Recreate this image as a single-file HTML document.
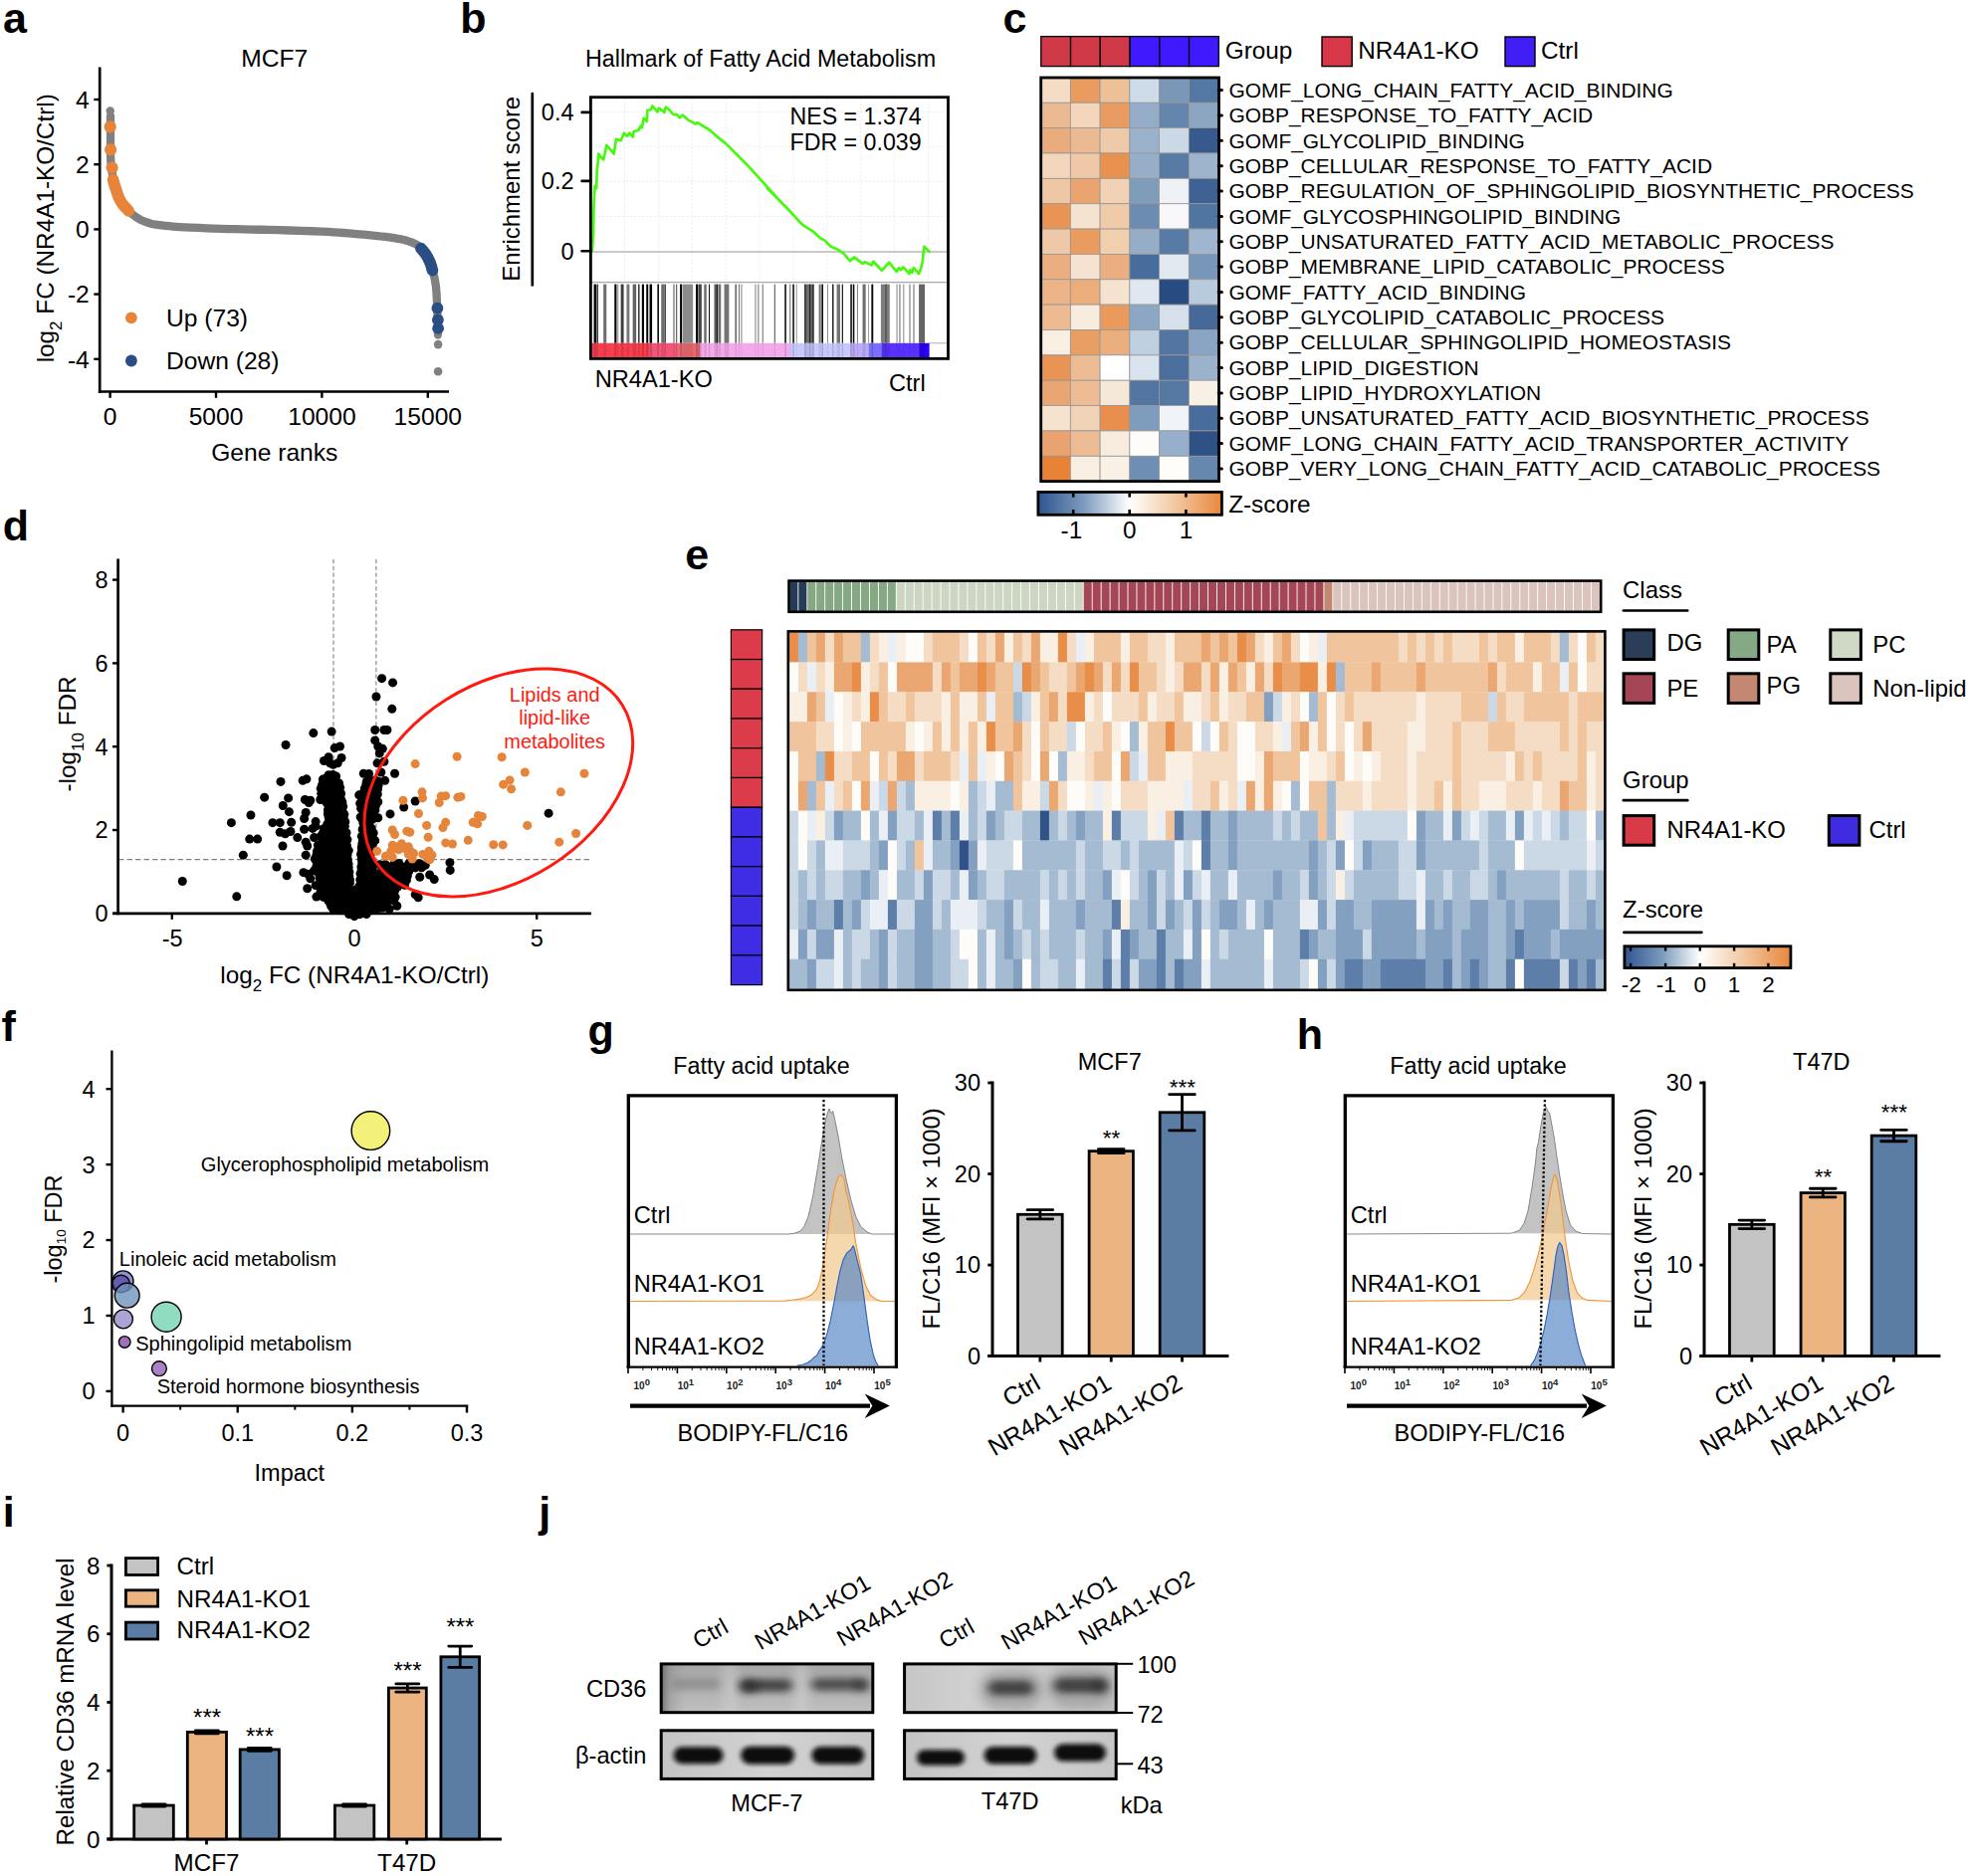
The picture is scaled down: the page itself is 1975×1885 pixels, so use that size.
<!DOCTYPE html>
<html lang="en"><head><meta charset="utf-8"><title>Figure</title>
<style>html,body{margin:0;padding:0;background:#fff;overflow:hidden}svg{display:block}text{font-family:'Liberation Sans', Arial, Helvetica, sans-serif}</style>
</head><body>
<svg width="1975" height="1885" viewBox="0 0 1975 1885" font-size="23.5" fill="#000">
<rect width="1975" height="1885" fill="#fff"/>
<g id="panel_a">
<text x="3" y="33" font-size="43" font-weight="bold">a</text>
<text x="275.8" y="67.2" font-size="24.6" text-anchor="middle">MCF7</text>
<line x1="100.2" y1="67.5" x2="100.2" y2="394.9" stroke="#000" stroke-width="2.7"/>
<line x1="98.9" y1="393.5" x2="451" y2="393.5" stroke="#000" stroke-width="2.7"/>
<line x1="94.3" y1="100" x2="100.2" y2="100" stroke="#000" stroke-width="2.4"/>
<text x="89.8" y="108.8" font-size="24.6" text-anchor="end">4</text>
<line x1="94.3" y1="165.2" x2="100.2" y2="165.2" stroke="#000" stroke-width="2.4"/>
<text x="89.8" y="174" font-size="24.6" text-anchor="end">2</text>
<line x1="94.3" y1="230.4" x2="100.2" y2="230.4" stroke="#000" stroke-width="2.4"/>
<text x="89.8" y="239.2" font-size="24.6" text-anchor="end">0</text>
<line x1="94.3" y1="295.6" x2="100.2" y2="295.6" stroke="#000" stroke-width="2.4"/>
<text x="89.8" y="304.4" font-size="24.6" text-anchor="end">-2</text>
<line x1="94.3" y1="360.8" x2="100.2" y2="360.8" stroke="#000" stroke-width="2.4"/>
<text x="89.8" y="369.6" font-size="24.6" text-anchor="end">-4</text>
<line x1="110.6" y1="393.5" x2="110.6" y2="399.8" stroke="#000" stroke-width="2.4"/>
<text x="110.6" y="427" font-size="24.6" text-anchor="middle">0</text>
<line x1="217" y1="393.5" x2="217" y2="399.8" stroke="#000" stroke-width="2.4"/>
<text x="217" y="427" font-size="24.6" text-anchor="middle">5000</text>
<line x1="323.4" y1="393.5" x2="323.4" y2="399.8" stroke="#000" stroke-width="2.4"/>
<text x="323.4" y="427" font-size="24.6" text-anchor="middle">10000</text>
<line x1="429.8" y1="393.5" x2="429.8" y2="399.8" stroke="#000" stroke-width="2.4"/>
<text x="429.8" y="427" font-size="24.6" text-anchor="middle">15000</text>
<text x="275.8" y="463.2" font-size="24.6" text-anchor="middle">Gene ranks</text>
<text transform="translate(54 229.3) rotate(-90)" font-size="24.3" text-anchor="middle">log<tspan font-size="17" dy="7.5">2</tspan><tspan dy="-7.5"> FC (NR4A1-KO/Ctrl)</tspan></text>
<path d="M111 116.5 L111 120.8 L110.99 127 L110.99 133.82 L111 140 L111.01 145.43 L111.02 150.72 L111.07 155.64 L111.2 160 L111.44 163.62 L111.77 166.66 L112.14 169.37 L112.5 172 L112.84 174.56 L113.19 176.94 L113.56 179.2 L114 181.4 L114.5 183.5 L115.06 185.48 L115.66 187.45 L116.3 189.5 L116.97 191.71 L117.69 194.02 L118.46 196.29 L119.3 198.4 L120.21 200.3 L121.17 202.05 L122.22 203.73 L123.4 205.4 L124.75 207.1 L126.25 208.78 L127.8 210.4 L129.3 211.9 L130.73 213.26 L132.14 214.51 L133.56 215.68 L135 216.8 L136.46 217.87 L137.92 218.88 L139.42 219.83 L141 220.7 L142.68 221.5 L144.44 222.22 L146.23 222.89 L148 223.5 L149.56 224.04 L151 224.51 L152.69 224.95 L155 225.4 L158.18 225.87 L161.97 226.35 L166.03 226.8 L170 227.2 L173.51 227.52 L176.84 227.78 L180.63 228.03 L185.5 228.3 L191.9 228.62 L199.39 228.97 L207.32 229.31 L215 229.6 L222.17 229.84 L229.21 230.03 L236.44 230.21 L244.2 230.4 L252.53 230.59 L261.26 230.76 L270.42 230.96 L280 231.2 L290.65 231.51 L302.14 231.86 L313.21 232.24 L322.6 232.6 L329.67 232.94 L335.19 233.28 L340.02 233.63 L345 234 L350.28 234.4 L355.44 234.83 L360.46 235.26 L365.3 235.7 L369.99 236.14 L374.52 236.59 L378.88 237.04 L383 237.5 L386.97 237.98 L390.78 238.48 L394.27 238.96 L397.3 239.4 L399.73 239.78 L401.66 240.11 L403.34 240.43 L405 240.8 L406.64 241.21 L408.16 241.64 L409.63 242.1 L411.1 242.6 L412.61 243.14 L414.13 243.72 L415.61 244.34 L417 245 L418.29 245.67 L419.51 246.37 L420.67 247.13 L421.8 248 L422.91 248.99 L423.99 250.09 L425.03 251.26 L426 252.5 L426.89 253.79 L427.71 255.15 L428.5 256.58 L429.3 258.1 L430.14 259.74 L430.99 261.49 L431.79 263.27 L432.5 265 L433.07 266.68 L433.54 268.33 L433.96 269.97 L434.4 271.6 L434.87 273.2 L435.34 274.78 L435.79 276.36 L436.2 278 L436.57 279.71 L436.91 281.48 L437.22 283.26 L437.5 285 L437.74 286.55 L437.94 287.99 L438.12 289.6 L438.3 291.7 L438.48 294.41 L438.66 297.55 L438.83 300.97 L439 304.5 L439.16 308.16 L439.32 312.02 L439.47 315.99 L439.6 320 L439.7 324.44 L439.79 329.22 L439.85 333.51 L439.9 336.5" fill="none" stroke="#808080" stroke-width="8.3" stroke-linecap="round" stroke-linejoin="round"/>
<circle cx="110.7" cy="111.4" r="4.2" fill="#808080"/>
<circle cx="440.1" cy="346.1" r="4.3" fill="#808080"/>
<circle cx="440.1" cy="373.2" r="4.3" fill="#808080"/>
<path d="M113.6 180.5 L113.76 181.2 L113.99 182.19 L114.28 183.34 L114.6 184.5 L114.95 185.59 L115.32 186.69 L115.77 187.95 L116.3 189.5 L116.93 191.5 L117.65 193.82 L118.44 196.22 L119.3 198.4 L120.21 200.3 L121.17 202.05 L122.22 203.73 L123.4 205.4 L124.89 207.21 L126.61 209.09 L128.2 210.74 L129.3 211.9" fill="none" stroke="#e8843a" stroke-width="11.6" stroke-linecap="round" stroke-linejoin="round"/>
<circle cx="110.7" cy="127.4" r="6.1" fill="#e8843a"/>
<circle cx="111.1" cy="150.3" r="6.1" fill="#e8843a"/>
<circle cx="112.6" cy="168.5" r="6.1" fill="#e8843a"/>
<path d="M422.9 249.6 L423.52 250.31 L424.41 251.32 L425.4 252.47 L426.3 253.6 L427.07 254.63 L427.81 255.67 L428.55 256.79 L429.3 258.1 L430.12 259.66 L430.97 261.42 L431.79 263.24 L432.5 265 L433.11 266.83 L433.65 268.73 L434.09 270.42 L434.4 271.6" fill="none" stroke="#2a4d84" stroke-width="11.6" stroke-linecap="round" stroke-linejoin="round"/>
<circle cx="439.4" cy="309.6" r="5.9" fill="#2a4d84"/>
<circle cx="439.9" cy="321.3" r="5.9" fill="#2a4d84"/>
<circle cx="440.1" cy="329.9" r="5.9" fill="#2a4d84"/>
<circle cx="131.9" cy="319.3" r="5.9" fill="#e8843a"/>
<circle cx="131.9" cy="362.5" r="5.9" fill="#2a4d84"/>
<text x="167" y="327.6" font-size="24.6">Up (73)</text>
<text x="167" y="370.8" font-size="24.6">Down (28)</text>
</g>
<g id="panel_b">
<text x="462.2" y="33" font-size="43" font-weight="bold">b</text>
<text x="764" y="66.6" font-size="23.3" text-anchor="middle">Hallmark of Fatty Acid Metabolism</text>
<line x1="627.5" y1="99.7" x2="627.5" y2="283.5" stroke="#e4e4e4" stroke-width="0.8" stroke-dasharray="2 2"/>
<line x1="661.4" y1="99.7" x2="661.4" y2="283.5" stroke="#e4e4e4" stroke-width="0.8" stroke-dasharray="2 2"/>
<line x1="695.3" y1="99.7" x2="695.3" y2="283.5" stroke="#e4e4e4" stroke-width="0.8" stroke-dasharray="2 2"/>
<line x1="729.2" y1="99.7" x2="729.2" y2="283.5" stroke="#e4e4e4" stroke-width="0.8" stroke-dasharray="2 2"/>
<line x1="763.1" y1="99.7" x2="763.1" y2="283.5" stroke="#e4e4e4" stroke-width="0.8" stroke-dasharray="2 2"/>
<line x1="797" y1="99.7" x2="797" y2="283.5" stroke="#e4e4e4" stroke-width="0.8" stroke-dasharray="2 2"/>
<line x1="830.9" y1="99.7" x2="830.9" y2="283.5" stroke="#e4e4e4" stroke-width="0.8" stroke-dasharray="2 2"/>
<line x1="864.8" y1="99.7" x2="864.8" y2="283.5" stroke="#e4e4e4" stroke-width="0.8" stroke-dasharray="2 2"/>
<line x1="898.7" y1="99.7" x2="898.7" y2="283.5" stroke="#e4e4e4" stroke-width="0.8" stroke-dasharray="2 2"/>
<line x1="932.6" y1="99.7" x2="932.6" y2="283.5" stroke="#e4e4e4" stroke-width="0.8" stroke-dasharray="2 2"/>
<line x1="593.4" y1="112.2" x2="952.5" y2="112.2" stroke="#e4e4e4" stroke-width="0.8" stroke-dasharray="2 2"/>
<line x1="593.4" y1="147.2" x2="952.5" y2="147.2" stroke="#e4e4e4" stroke-width="0.8" stroke-dasharray="2 2"/>
<line x1="593.4" y1="182.3" x2="952.5" y2="182.3" stroke="#e4e4e4" stroke-width="0.8" stroke-dasharray="2 2"/>
<line x1="593.4" y1="217.5" x2="952.5" y2="217.5" stroke="#e4e4e4" stroke-width="0.8" stroke-dasharray="2 2"/>
<line x1="593.4" y1="252.9" x2="952.5" y2="252.9" stroke="#e4e4e4" stroke-width="0.8" stroke-dasharray="2 2"/>
<line x1="593.4" y1="253" x2="952.5" y2="253" stroke="#9a9a9a" stroke-width="1.2"/>
<line x1="593.4" y1="283.7" x2="952.5" y2="283.7" stroke="#a8a8a8" stroke-width="1.2"/>
<line x1="933" y1="344.8" x2="952.5" y2="344.8" stroke="#b0b0b0" stroke-width="1"/>
<rect x="596.55" y="285.6" width="2.42" height="59.2" fill="#000000"/>
<rect x="599.5" y="285.6" width="1.35" height="59.2" fill="#141414"/>
<rect x="606.17" y="285.6" width="3.09" height="59.2" fill="#6e6e6e"/>
<rect x="617.28" y="285.6" width="2.13" height="59.2" fill="#000000"/>
<rect x="620.28" y="285.6" width="0.97" height="59.2" fill="#828282"/>
<rect x="623.66" y="285.6" width="2.9" height="59.2" fill="#3c3c3c"/>
<rect x="629.46" y="285.6" width="2.9" height="59.2" fill="#787878"/>
<rect x="635.64" y="285.6" width="3.48" height="59.2" fill="#646464"/>
<rect x="641.15" y="285.6" width="1.35" height="59.2" fill="#1e1e1e"/>
<rect x="644.82" y="285.6" width="2.13" height="59.2" fill="#000000"/>
<rect x="649.27" y="285.6" width="1.93" height="59.2" fill="#000000"/>
<rect x="652.56" y="285.6" width="2.51" height="59.2" fill="#000000"/>
<rect x="660.38" y="285.6" width="1.55" height="59.2" fill="#000000"/>
<rect x="664.25" y="285.6" width="2.9" height="59.2" fill="#6e6e6e"/>
<rect x="667.54" y="285.6" width="1.16" height="59.2" fill="#000000"/>
<rect x="676.33" y="285.6" width="1.35" height="59.2" fill="#787878"/>
<rect x="679.23" y="285.6" width="0.97" height="59.2" fill="#3c3c3c"/>
<rect x="683.1" y="285.6" width="1.93" height="59.2" fill="#000000"/>
<rect x="685.51" y="285.6" width="10.63" height="59.2" fill="#8c8c8c"/>
<rect x="699.04" y="285.6" width="1.93" height="59.2" fill="#000000"/>
<rect x="701.36" y="285.6" width="3.48" height="59.2" fill="#464646"/>
<rect x="707.26" y="285.6" width="2.51" height="59.2" fill="#6e6e6e"/>
<rect x="712.09" y="285.6" width="0.97" height="59.2" fill="#000000"/>
<rect x="717.5" y="285.6" width="1.74" height="59.2" fill="#5a5a5a"/>
<rect x="719.34" y="285.6" width="1.93" height="59.2" fill="#141414"/>
<rect x="721.75" y="285.6" width="2.51" height="59.2" fill="#6e6e6e"/>
<rect x="727.55" y="285.6" width="4.83" height="59.2" fill="#737373"/>
<rect x="738.57" y="285.6" width="1.16" height="59.2" fill="#323232"/>
<rect x="742.05" y="285.6" width="0.97" height="59.2" fill="#6e6e6e"/>
<rect x="744.47" y="285.6" width="0.97" height="59.2" fill="#787878"/>
<rect x="758.48" y="285.6" width="0.97" height="59.2" fill="#787878"/>
<rect x="761.38" y="285.6" width="0.97" height="59.2" fill="#6e6e6e"/>
<rect x="765.73" y="285.6" width="0.97" height="59.2" fill="#646464"/>
<rect x="777.83" y="285.6" width="0.77" height="59.2" fill="#141414"/>
<rect x="788.27" y="285.6" width="1.55" height="59.2" fill="#0a0a0a"/>
<rect x="793.2" y="285.6" width="1.16" height="59.2" fill="#787878"/>
<rect x="796.29" y="285.6" width="1.55" height="59.2" fill="#0a0a0a"/>
<rect x="799.77" y="285.6" width="0.77" height="59.2" fill="#787878"/>
<rect x="808.08" y="285.6" width="9.28" height="59.2" fill="#6e6e6e"/>
<rect x="808.27" y="285.6" width="1.16" height="59.2" fill="#1e1e1e"/>
<rect x="813.1" y="285.6" width="1.16" height="59.2" fill="#1e1e1e"/>
<rect x="816.39" y="285.6" width="1.16" height="59.2" fill="#141414"/>
<rect x="822.58" y="285.6" width="2.13" height="59.2" fill="#787878"/>
<rect x="825.38" y="285.6" width="1.55" height="59.2" fill="#000000"/>
<rect x="831.08" y="285.6" width="0.77" height="59.2" fill="#6e6e6e"/>
<rect x="836.11" y="285.6" width="1.35" height="59.2" fill="#0a0a0a"/>
<rect x="840.55" y="285.6" width="3.48" height="59.2" fill="#737373"/>
<rect x="845.77" y="285.6" width="1.16" height="59.2" fill="#141414"/>
<rect x="854.28" y="285.6" width="1.55" height="59.2" fill="#0a0a0a"/>
<rect x="856.79" y="285.6" width="1.55" height="59.2" fill="#0a0a0a"/>
<rect x="860.94" y="285.6" width="0.97" height="59.2" fill="#787878"/>
<rect x="866.55" y="285.6" width="3.09" height="59.2" fill="#6e6e6e"/>
<rect x="872.25" y="285.6" width="0.77" height="59.2" fill="#828282"/>
<rect x="875.34" y="285.6" width="1.93" height="59.2" fill="#0a0a0a"/>
<rect x="884.91" y="285.6" width="8.89" height="59.2" fill="#7d7d7d"/>
<rect x="889.36" y="285.6" width="1.35" height="59.2" fill="#505050"/>
<rect x="900.57" y="285.6" width="0.97" height="59.2" fill="#828282"/>
<rect x="903.37" y="285.6" width="1.16" height="59.2" fill="#787878"/>
<rect x="907.33" y="285.6" width="0.97" height="59.2" fill="#828282"/>
<rect x="913.42" y="285.6" width="1.16" height="59.2" fill="#787878"/>
<rect x="917.39" y="285.6" width="1.16" height="59.2" fill="#787878"/>
<rect x="923.09" y="285.6" width="5.99" height="59.2" fill="#646464"/>
<rect x="594.5" y="344.8" width="57.8" height="14.5" fill="#fa3e4e"/>
<rect x="652" y="344.8" width="28.3" height="14.5" fill="#f25576"/>
<rect x="680" y="344.8" width="23.7" height="14.5" fill="#e96973"/>
<rect x="703.4" y="344.8" width="90.1" height="14.5" fill="#f4aaea"/>
<rect x="793.2" y="344.8" width="61.2" height="14.5" fill="#c8c8ff"/>
<rect x="854.1" y="344.8" width="19.1" height="14.5" fill="#baacfa"/>
<rect x="872.9" y="344.8" width="13.4" height="14.5" fill="#7a70ff"/>
<rect x="886" y="344.8" width="37.5" height="14.5" fill="#5a32ff"/>
<rect x="923.2" y="344.8" width="10.4" height="14.5" fill="#2d00fa"/>
<rect x="596.55" y="344.8" width="2.42" height="14.5" fill="#000" fill-opacity="0.16"/>
<rect x="599.5" y="344.8" width="1.35" height="14.5" fill="#000" fill-opacity="0.15"/>
<rect x="606.17" y="344.8" width="3.09" height="14.5" fill="#000" fill-opacity="0.09"/>
<rect x="617.28" y="344.8" width="2.13" height="14.5" fill="#000" fill-opacity="0.16"/>
<rect x="620.28" y="344.8" width="0.97" height="14.5" fill="#000" fill-opacity="0.08"/>
<rect x="623.66" y="344.8" width="2.9" height="14.5" fill="#000" fill-opacity="0.12"/>
<rect x="629.46" y="344.8" width="2.9" height="14.5" fill="#000" fill-opacity="0.08"/>
<rect x="635.64" y="344.8" width="3.48" height="14.5" fill="#000" fill-opacity="0.1"/>
<rect x="641.15" y="344.8" width="1.35" height="14.5" fill="#000" fill-opacity="0.14"/>
<rect x="644.82" y="344.8" width="2.13" height="14.5" fill="#000" fill-opacity="0.16"/>
<rect x="649.27" y="344.8" width="1.93" height="14.5" fill="#000" fill-opacity="0.16"/>
<rect x="652.56" y="344.8" width="2.51" height="14.5" fill="#000" fill-opacity="0.16"/>
<rect x="660.38" y="344.8" width="1.55" height="14.5" fill="#000" fill-opacity="0.16"/>
<rect x="664.25" y="344.8" width="2.9" height="14.5" fill="#000" fill-opacity="0.09"/>
<rect x="667.54" y="344.8" width="1.16" height="14.5" fill="#000" fill-opacity="0.16"/>
<rect x="676.33" y="344.8" width="1.35" height="14.5" fill="#000" fill-opacity="0.08"/>
<rect x="679.23" y="344.8" width="0.97" height="14.5" fill="#000" fill-opacity="0.12"/>
<rect x="683.1" y="344.8" width="1.93" height="14.5" fill="#000" fill-opacity="0.16"/>
<rect x="685.51" y="344.8" width="10.63" height="14.5" fill="#000" fill-opacity="0.07"/>
<rect x="699.04" y="344.8" width="1.93" height="14.5" fill="#000" fill-opacity="0.16"/>
<rect x="701.36" y="344.8" width="3.48" height="14.5" fill="#000" fill-opacity="0.12"/>
<rect x="707.26" y="344.8" width="2.51" height="14.5" fill="#000" fill-opacity="0.09"/>
<rect x="712.09" y="344.8" width="0.97" height="14.5" fill="#000" fill-opacity="0.16"/>
<rect x="717.5" y="344.8" width="1.74" height="14.5" fill="#000" fill-opacity="0.1"/>
<rect x="719.34" y="344.8" width="1.93" height="14.5" fill="#000" fill-opacity="0.15"/>
<rect x="721.75" y="344.8" width="2.51" height="14.5" fill="#000" fill-opacity="0.09"/>
<rect x="727.55" y="344.8" width="4.83" height="14.5" fill="#000" fill-opacity="0.09"/>
<rect x="738.57" y="344.8" width="1.16" height="14.5" fill="#000" fill-opacity="0.13"/>
<rect x="742.05" y="344.8" width="0.97" height="14.5" fill="#000" fill-opacity="0.09"/>
<rect x="744.47" y="344.8" width="0.97" height="14.5" fill="#000" fill-opacity="0.08"/>
<rect x="758.48" y="344.8" width="0.97" height="14.5" fill="#000" fill-opacity="0.08"/>
<rect x="761.38" y="344.8" width="0.97" height="14.5" fill="#000" fill-opacity="0.09"/>
<rect x="765.73" y="344.8" width="0.97" height="14.5" fill="#000" fill-opacity="0.1"/>
<rect x="777.83" y="344.8" width="0.77" height="14.5" fill="#000" fill-opacity="0.15"/>
<rect x="788.27" y="344.8" width="1.55" height="14.5" fill="#000" fill-opacity="0.15"/>
<rect x="793.2" y="344.8" width="1.16" height="14.5" fill="#000" fill-opacity="0.08"/>
<rect x="796.29" y="344.8" width="1.55" height="14.5" fill="#000" fill-opacity="0.15"/>
<rect x="799.77" y="344.8" width="0.77" height="14.5" fill="#000" fill-opacity="0.08"/>
<rect x="808.08" y="344.8" width="9.28" height="14.5" fill="#000" fill-opacity="0.09"/>
<rect x="808.27" y="344.8" width="1.16" height="14.5" fill="#000" fill-opacity="0.14"/>
<rect x="813.1" y="344.8" width="1.16" height="14.5" fill="#000" fill-opacity="0.14"/>
<rect x="816.39" y="344.8" width="1.16" height="14.5" fill="#000" fill-opacity="0.15"/>
<rect x="822.58" y="344.8" width="2.13" height="14.5" fill="#000" fill-opacity="0.08"/>
<rect x="825.38" y="344.8" width="1.55" height="14.5" fill="#000" fill-opacity="0.16"/>
<rect x="831.08" y="344.8" width="0.77" height="14.5" fill="#000" fill-opacity="0.09"/>
<rect x="836.11" y="344.8" width="1.35" height="14.5" fill="#000" fill-opacity="0.15"/>
<rect x="840.55" y="344.8" width="3.48" height="14.5" fill="#000" fill-opacity="0.09"/>
<rect x="845.77" y="344.8" width="1.16" height="14.5" fill="#000" fill-opacity="0.15"/>
<rect x="854.28" y="344.8" width="1.55" height="14.5" fill="#000" fill-opacity="0.15"/>
<rect x="856.79" y="344.8" width="1.55" height="14.5" fill="#000" fill-opacity="0.15"/>
<rect x="860.94" y="344.8" width="0.97" height="14.5" fill="#000" fill-opacity="0.08"/>
<rect x="866.55" y="344.8" width="3.09" height="14.5" fill="#000" fill-opacity="0.09"/>
<rect x="872.25" y="344.8" width="0.77" height="14.5" fill="#000" fill-opacity="0.08"/>
<rect x="875.34" y="344.8" width="1.93" height="14.5" fill="#000" fill-opacity="0.15"/>
<rect x="884.91" y="344.8" width="8.89" height="14.5" fill="#000" fill-opacity="0.08"/>
<rect x="889.36" y="344.8" width="1.35" height="14.5" fill="#000" fill-opacity="0.11"/>
<rect x="900.57" y="344.8" width="0.97" height="14.5" fill="#000" fill-opacity="0.08"/>
<rect x="903.37" y="344.8" width="1.16" height="14.5" fill="#000" fill-opacity="0.08"/>
<rect x="907.33" y="344.8" width="0.97" height="14.5" fill="#000" fill-opacity="0.08"/>
<rect x="913.42" y="344.8" width="1.16" height="14.5" fill="#000" fill-opacity="0.08"/>
<rect x="917.39" y="344.8" width="1.16" height="14.5" fill="#000" fill-opacity="0.08"/>
<rect x="923.09" y="344.8" width="5.99" height="14.5" fill="#000" fill-opacity="0.1"/>
<path d="M594.93 252.05 L595.99 234.99 L596.52 207.27 L597.06 196.61 L597.59 187.01 L599.19 189.15 L599.72 171.02 L600.79 162.49 L601.11 154.5 L606.12 160.36 L607.72 153.97 L609.32 145.97 L616.78 154.5 L618.91 140.11 L623.71 141.17 L626.91 133.71 L630.11 136.91 L632.24 133.71 L635.97 137.44 L636.5 132.11 L641.3 131.04 L643.97 126.25 L645.03 128.38 L646.63 118.78 L649.83 121.98 L650.36 110.79 L653.56 110.26 L655.48 106.52 L660.49 112.39 L661.88 108.66 L667.42 112.92 L668.81 107.59 L671.68 109.72 L676.48 115.05 L679.68 115.05 L682.88 118.25 L685.54 115.59 L691.94 120.92 L698.87 124.65 L700.47 123.05 L712.73 130.51 L718.59 135.84 L729.25 144.37 L739.91 155.03 L750.58 165.69 L761.24 177.42 L771.9 189.15 L780 198.21 L770.66 189.15 L781.32 199.81 L791.98 210.47 L802.64 222.2 L806.91 226.46 L816.5 232.32 L823.97 239.25 L828.23 241.39 L834.63 247.78 L841.02 250.45 L847.42 254.71 L853.82 262.17 L858.08 258.44 L866.61 264.84 L868.74 263.24 L875.67 266.44 L877.27 262.71 L885.8 271.77 L893.26 263.77 L900.72 272.84 L902.86 269.1 L904.99 271.24 L907.65 268.57 L913.52 274.97 L914.58 271.24 L916.18 273.9 L917.78 269.1 L923.11 274.97 L925.25 269.1 L926.84 262.71 L927.38 256.31 L928.44 247.78 L930.58 249.91 L933.77 253.11" fill="none" stroke="#46f90f" stroke-width="2.7" stroke-linejoin="round" stroke-linecap="round"/>
<rect x="593.4" y="97.7" width="359.1" height="262.7" fill="none" stroke="#000" stroke-width="2.8"/>
<line x1="584.6" y1="112.9" x2="593.4" y2="112.9" stroke="#000" stroke-width="2.6" stroke-linecap="round"/>
<text x="576.5" y="121.3" text-anchor="end">0.4</text>
<line x1="584.6" y1="181.9" x2="593.4" y2="181.9" stroke="#000" stroke-width="2.6" stroke-linecap="round"/>
<text x="576.5" y="190.3" text-anchor="end">0.2</text>
<line x1="584.6" y1="252.3" x2="593.4" y2="252.3" stroke="#000" stroke-width="2.6" stroke-linecap="round"/>
<text x="576.5" y="260.7" text-anchor="end">0</text>
<line x1="534.8" y1="94" x2="534.8" y2="286.5" stroke="#000" stroke-width="2.7" stroke-linecap="round"/>
<text transform="translate(522.3 189.8) rotate(-90)" font-size="23.9" text-anchor="middle">Enrichment score</text>
<text x="793.5" y="125" font-size="23.2">NES = 1.374</text>
<text x="793.5" y="151.1" font-size="23.2">FDR = 0.039</text>
<text x="597.8" y="389" font-size="23.6">NR4A1-KO</text>
<text x="893" y="393" font-size="23.6">Ctrl</text>
</g>
<g id="panel_c">
<text x="1007.6" y="33.2" font-size="43" font-weight="bold">c</text>
<rect x="1045.8" y="36.6" width="29.75" height="30" fill="#cf3948" stroke="#000" stroke-width="1.3"/>
<rect x="1075.55" y="36.6" width="29.75" height="30" fill="#cf3948" stroke="#000" stroke-width="1.3"/>
<rect x="1105.3" y="36.6" width="29.75" height="30" fill="#cf3948" stroke="#000" stroke-width="1.3"/>
<rect x="1135.05" y="36.6" width="29.75" height="30" fill="#4119ff" stroke="#000" stroke-width="1.3"/>
<rect x="1164.8" y="36.6" width="29.75" height="30" fill="#4119ff" stroke="#000" stroke-width="1.3"/>
<rect x="1194.55" y="36.6" width="29.75" height="30" fill="#4119ff" stroke="#000" stroke-width="1.3"/>
<text x="1230.8" y="58.9" font-size="24.3">Group</text>
<rect x="1328" y="37" width="30.2" height="29.6" fill="#d73746" stroke="#000" stroke-width="1.4"/>
<text x="1364.2" y="58.9" font-size="24.3">NR4A1-KO</text>
<rect x="1512" y="37" width="30" height="29.6" fill="#411ef5" stroke="#000" stroke-width="1.4"/>
<text x="1548" y="58.9" font-size="24.3">Ctrl</text>
<rect x="1045.6" y="77.9" width="29.75" height="25.36" fill="#f5dcc4" stroke="#969696" stroke-width="0.8"/>
<rect x="1075.35" y="77.9" width="29.75" height="25.36" fill="#e99b60" stroke="#969696" stroke-width="0.8"/>
<rect x="1105.1" y="77.9" width="29.75" height="25.36" fill="#eec098" stroke="#969696" stroke-width="0.8"/>
<rect x="1134.85" y="77.9" width="29.75" height="25.36" fill="#cddce8" stroke="#969696" stroke-width="0.8"/>
<rect x="1164.6" y="77.9" width="29.75" height="25.36" fill="#7a97b7" stroke="#969696" stroke-width="0.8"/>
<rect x="1194.35" y="77.9" width="29.75" height="25.36" fill="#5378a4" stroke="#969696" stroke-width="0.8"/>
<rect x="1045.6" y="103.26" width="29.75" height="25.36" fill="#ecba92" stroke="#969696" stroke-width="0.8"/>
<rect x="1075.35" y="103.26" width="29.75" height="25.36" fill="#f3d6bb" stroke="#969696" stroke-width="0.8"/>
<rect x="1105.1" y="103.26" width="29.75" height="25.36" fill="#e99c61" stroke="#969696" stroke-width="0.8"/>
<rect x="1134.85" y="103.26" width="29.75" height="25.36" fill="#94acc7" stroke="#969696" stroke-width="0.8"/>
<rect x="1164.6" y="103.26" width="29.75" height="25.36" fill="#6485ac" stroke="#969696" stroke-width="0.8"/>
<rect x="1194.35" y="103.26" width="29.75" height="25.36" fill="#8ca6c2" stroke="#969696" stroke-width="0.8"/>
<rect x="1045.6" y="128.62" width="29.75" height="25.36" fill="#eaac7d" stroke="#969696" stroke-width="0.8"/>
<rect x="1075.35" y="128.62" width="29.75" height="25.36" fill="#ecba92" stroke="#969696" stroke-width="0.8"/>
<rect x="1105.1" y="128.62" width="29.75" height="25.36" fill="#efcaa8" stroke="#969696" stroke-width="0.8"/>
<rect x="1134.85" y="128.62" width="29.75" height="25.36" fill="#9bb2cc" stroke="#969696" stroke-width="0.8"/>
<rect x="1164.6" y="128.62" width="29.75" height="25.36" fill="#cbd9e6" stroke="#969696" stroke-width="0.8"/>
<rect x="1194.35" y="128.62" width="29.75" height="25.36" fill="#365a8d" stroke="#969696" stroke-width="0.8"/>
<rect x="1045.6" y="153.98" width="29.75" height="25.36" fill="#f3d6bb" stroke="#969696" stroke-width="0.8"/>
<rect x="1075.35" y="153.98" width="29.75" height="25.36" fill="#efc8a7" stroke="#969696" stroke-width="0.8"/>
<rect x="1105.1" y="153.98" width="29.75" height="25.36" fill="#e99250" stroke="#969696" stroke-width="0.8"/>
<rect x="1134.85" y="153.98" width="29.75" height="25.36" fill="#96aec8" stroke="#969696" stroke-width="0.8"/>
<rect x="1164.6" y="153.98" width="29.75" height="25.36" fill="#577ba5" stroke="#969696" stroke-width="0.8"/>
<rect x="1194.35" y="153.98" width="29.75" height="25.36" fill="#9eb4cd" stroke="#969696" stroke-width="0.8"/>
<rect x="1045.6" y="179.34" width="29.75" height="25.36" fill="#efc7a4" stroke="#969696" stroke-width="0.8"/>
<rect x="1075.35" y="179.34" width="29.75" height="25.36" fill="#eaa470" stroke="#969696" stroke-width="0.8"/>
<rect x="1105.1" y="179.34" width="29.75" height="25.36" fill="#f1d2b4" stroke="#969696" stroke-width="0.8"/>
<rect x="1134.85" y="179.34" width="29.75" height="25.36" fill="#7f9cbb" stroke="#969696" stroke-width="0.8"/>
<rect x="1164.6" y="179.34" width="29.75" height="25.36" fill="#eef2f6" stroke="#969696" stroke-width="0.8"/>
<rect x="1194.35" y="179.34" width="29.75" height="25.36" fill="#3e6294" stroke="#969696" stroke-width="0.8"/>
<rect x="1045.6" y="204.7" width="29.75" height="25.36" fill="#e99455" stroke="#969696" stroke-width="0.8"/>
<rect x="1075.35" y="204.7" width="29.75" height="25.36" fill="#f5e2cf" stroke="#969696" stroke-width="0.8"/>
<rect x="1105.1" y="204.7" width="29.75" height="25.36" fill="#efcbaa" stroke="#969696" stroke-width="0.8"/>
<rect x="1134.85" y="204.7" width="29.75" height="25.36" fill="#6c8cb1" stroke="#969696" stroke-width="0.8"/>
<rect x="1164.6" y="204.7" width="29.75" height="25.36" fill="#f8f8fa" stroke="#969696" stroke-width="0.8"/>
<rect x="1194.35" y="204.7" width="29.75" height="25.36" fill="#5075a1" stroke="#969696" stroke-width="0.8"/>
<rect x="1045.6" y="230.06" width="29.75" height="25.36" fill="#efc8a7" stroke="#969696" stroke-width="0.8"/>
<rect x="1075.35" y="230.06" width="29.75" height="25.36" fill="#e99b60" stroke="#969696" stroke-width="0.8"/>
<rect x="1105.1" y="230.06" width="29.75" height="25.36" fill="#f0cfaf" stroke="#969696" stroke-width="0.8"/>
<rect x="1134.85" y="230.06" width="29.75" height="25.36" fill="#96adc8" stroke="#969696" stroke-width="0.8"/>
<rect x="1164.6" y="230.06" width="29.75" height="25.36" fill="#587ba5" stroke="#969696" stroke-width="0.8"/>
<rect x="1194.35" y="230.06" width="29.75" height="25.36" fill="#a0b6cf" stroke="#969696" stroke-width="0.8"/>
<rect x="1045.6" y="255.42" width="29.75" height="25.36" fill="#eaae80" stroke="#969696" stroke-width="0.8"/>
<rect x="1075.35" y="255.42" width="29.75" height="25.36" fill="#f5e2d0" stroke="#969696" stroke-width="0.8"/>
<rect x="1105.1" y="255.42" width="29.75" height="25.36" fill="#eaae80" stroke="#969696" stroke-width="0.8"/>
<rect x="1134.85" y="255.42" width="29.75" height="25.36" fill="#486d9c" stroke="#969696" stroke-width="0.8"/>
<rect x="1164.6" y="255.42" width="29.75" height="25.36" fill="#e0e8f0" stroke="#969696" stroke-width="0.8"/>
<rect x="1194.35" y="255.42" width="29.75" height="25.36" fill="#7896b7" stroke="#969696" stroke-width="0.8"/>
<rect x="1045.6" y="280.78" width="29.75" height="25.36" fill="#ecb487" stroke="#969696" stroke-width="0.8"/>
<rect x="1075.35" y="280.78" width="29.75" height="25.36" fill="#ebad7b" stroke="#969696" stroke-width="0.8"/>
<rect x="1105.1" y="280.78" width="29.75" height="25.36" fill="#f5e2cf" stroke="#969696" stroke-width="0.8"/>
<rect x="1134.85" y="280.78" width="29.75" height="25.36" fill="#dfe8f0" stroke="#969696" stroke-width="0.8"/>
<rect x="1164.6" y="280.78" width="29.75" height="25.36" fill="#284b82" stroke="#969696" stroke-width="0.8"/>
<rect x="1194.35" y="280.78" width="29.75" height="25.36" fill="#b7cbdc" stroke="#969696" stroke-width="0.8"/>
<rect x="1045.6" y="306.14" width="29.75" height="25.36" fill="#edba91" stroke="#969696" stroke-width="0.8"/>
<rect x="1075.35" y="306.14" width="29.75" height="25.36" fill="#f8ecde" stroke="#969696" stroke-width="0.8"/>
<rect x="1105.1" y="306.14" width="29.75" height="25.36" fill="#e99b5e" stroke="#969696" stroke-width="0.8"/>
<rect x="1134.85" y="306.14" width="29.75" height="25.36" fill="#8ca7c4" stroke="#969696" stroke-width="0.8"/>
<rect x="1164.6" y="306.14" width="29.75" height="25.36" fill="#d6e0ea" stroke="#969696" stroke-width="0.8"/>
<rect x="1194.35" y="306.14" width="29.75" height="25.36" fill="#466999" stroke="#969696" stroke-width="0.8"/>
<rect x="1045.6" y="331.5" width="29.75" height="25.36" fill="#f8eee1" stroke="#969696" stroke-width="0.8"/>
<rect x="1075.35" y="331.5" width="29.75" height="25.36" fill="#e99e64" stroke="#969696" stroke-width="0.8"/>
<rect x="1105.1" y="331.5" width="29.75" height="25.36" fill="#ebaf7f" stroke="#969696" stroke-width="0.8"/>
<rect x="1134.85" y="331.5" width="29.75" height="25.36" fill="#bed0e0" stroke="#969696" stroke-width="0.8"/>
<rect x="1164.6" y="331.5" width="29.75" height="25.36" fill="#5276a1" stroke="#969696" stroke-width="0.8"/>
<rect x="1194.35" y="331.5" width="29.75" height="25.36" fill="#8aa5c3" stroke="#969696" stroke-width="0.8"/>
<rect x="1045.6" y="356.86" width="29.75" height="25.36" fill="#e99455" stroke="#969696" stroke-width="0.8"/>
<rect x="1075.35" y="356.86" width="29.75" height="25.36" fill="#edbc94" stroke="#969696" stroke-width="0.8"/>
<rect x="1105.1" y="356.86" width="29.75" height="25.36" fill="#ffffff" stroke="#969696" stroke-width="0.8"/>
<rect x="1134.85" y="356.86" width="29.75" height="25.36" fill="#dae4ee" stroke="#969696" stroke-width="0.8"/>
<rect x="1164.6" y="356.86" width="29.75" height="25.36" fill="#4b6e9d" stroke="#969696" stroke-width="0.8"/>
<rect x="1194.35" y="356.86" width="29.75" height="25.36" fill="#9bb2cd" stroke="#969696" stroke-width="0.8"/>
<rect x="1045.6" y="382.22" width="29.75" height="25.36" fill="#eaa672" stroke="#969696" stroke-width="0.8"/>
<rect x="1075.35" y="382.22" width="29.75" height="25.36" fill="#edbc94" stroke="#969696" stroke-width="0.8"/>
<rect x="1105.1" y="382.22" width="29.75" height="25.36" fill="#f6e8d8" stroke="#969696" stroke-width="0.8"/>
<rect x="1134.85" y="382.22" width="29.75" height="25.36" fill="#5276a1" stroke="#969696" stroke-width="0.8"/>
<rect x="1164.6" y="382.22" width="29.75" height="25.36" fill="#5578a3" stroke="#969696" stroke-width="0.8"/>
<rect x="1194.35" y="382.22" width="29.75" height="25.36" fill="#f7f0e4" stroke="#969696" stroke-width="0.8"/>
<rect x="1045.6" y="407.58" width="29.75" height="25.36" fill="#f5e2cf" stroke="#969696" stroke-width="0.8"/>
<rect x="1075.35" y="407.58" width="29.75" height="25.36" fill="#f1d4b8" stroke="#969696" stroke-width="0.8"/>
<rect x="1105.1" y="407.58" width="29.75" height="25.36" fill="#e98f4e" stroke="#969696" stroke-width="0.8"/>
<rect x="1134.85" y="407.58" width="29.75" height="25.36" fill="#7d9bbb" stroke="#969696" stroke-width="0.8"/>
<rect x="1164.6" y="407.58" width="29.75" height="25.36" fill="#f0f4f8" stroke="#969696" stroke-width="0.8"/>
<rect x="1194.35" y="407.58" width="29.75" height="25.36" fill="#486c9b" stroke="#969696" stroke-width="0.8"/>
<rect x="1045.6" y="432.94" width="29.75" height="25.36" fill="#eaa36e" stroke="#969696" stroke-width="0.8"/>
<rect x="1075.35" y="432.94" width="29.75" height="25.36" fill="#edbc94" stroke="#969696" stroke-width="0.8"/>
<rect x="1105.1" y="432.94" width="29.75" height="25.36" fill="#f7ecde" stroke="#969696" stroke-width="0.8"/>
<rect x="1134.85" y="432.94" width="29.75" height="25.36" fill="#fdfcf8" stroke="#969696" stroke-width="0.8"/>
<rect x="1164.6" y="432.94" width="29.75" height="25.36" fill="#96afca" stroke="#969696" stroke-width="0.8"/>
<rect x="1194.35" y="432.94" width="29.75" height="25.36" fill="#2f5286" stroke="#969696" stroke-width="0.8"/>
<rect x="1045.6" y="458.3" width="29.75" height="25.36" fill="#e88237" stroke="#969696" stroke-width="0.8"/>
<rect x="1075.35" y="458.3" width="29.75" height="25.36" fill="#f8eee1" stroke="#969696" stroke-width="0.8"/>
<rect x="1105.1" y="458.3" width="29.75" height="25.36" fill="#f9f0e6" stroke="#969696" stroke-width="0.8"/>
<rect x="1134.85" y="458.3" width="29.75" height="25.36" fill="#6e8eb4" stroke="#969696" stroke-width="0.8"/>
<rect x="1164.6" y="458.3" width="29.75" height="25.36" fill="#fefdfa" stroke="#969696" stroke-width="0.8"/>
<rect x="1194.35" y="458.3" width="29.75" height="25.36" fill="#6687ae" stroke="#969696" stroke-width="0.8"/>
<rect x="1045.7" y="78" width="178.8" height="405.6" fill="none" stroke="#000" stroke-width="2.8"/>
<line x1="1224.2" y1="90.58" x2="1227.4" y2="90.58" stroke="#000" stroke-width="3" stroke-linecap="round"/>
<text x="1234.4" y="97.78" font-size="20.95">GOMF_LONG_CHAIN_FATTY_ACID_BINDING</text>
<line x1="1224.2" y1="115.94" x2="1227.4" y2="115.94" stroke="#000" stroke-width="3" stroke-linecap="round"/>
<text x="1234.4" y="123.14" font-size="20.95">GOBP_RESPONSE_TO_FATTY_ACID</text>
<line x1="1224.2" y1="141.3" x2="1227.4" y2="141.3" stroke="#000" stroke-width="3" stroke-linecap="round"/>
<text x="1234.4" y="148.5" font-size="20.95">GOMF_GLYCOLIPID_BINDING</text>
<line x1="1224.2" y1="166.66" x2="1227.4" y2="166.66" stroke="#000" stroke-width="3" stroke-linecap="round"/>
<text x="1234.4" y="173.86" font-size="20.95">GOBP_CELLULAR_RESPONSE_TO_FATTY_ACID</text>
<line x1="1224.2" y1="192.02" x2="1227.4" y2="192.02" stroke="#000" stroke-width="3" stroke-linecap="round"/>
<text x="1234.4" y="199.22" font-size="20.95">GOBP_REGULATION_OF_SPHINGOLIPID_BIOSYNTHETIC_PROCESS</text>
<line x1="1224.2" y1="217.38" x2="1227.4" y2="217.38" stroke="#000" stroke-width="3" stroke-linecap="round"/>
<text x="1234.4" y="224.58" font-size="20.95">GOMF_GLYCOSPHINGOLIPID_BINDING</text>
<line x1="1224.2" y1="242.74" x2="1227.4" y2="242.74" stroke="#000" stroke-width="3" stroke-linecap="round"/>
<text x="1234.4" y="249.94" font-size="20.95">GOBP_UNSATURATED_FATTY_ACID_METABOLIC_PROCESS</text>
<line x1="1224.2" y1="268.1" x2="1227.4" y2="268.1" stroke="#000" stroke-width="3" stroke-linecap="round"/>
<text x="1234.4" y="275.3" font-size="20.95">GOBP_MEMBRANE_LIPID_CATABOLIC_PROCESS</text>
<line x1="1224.2" y1="293.46" x2="1227.4" y2="293.46" stroke="#000" stroke-width="3" stroke-linecap="round"/>
<text x="1234.4" y="300.66" font-size="20.95">GOMF_FATTY_ACID_BINDING</text>
<line x1="1224.2" y1="318.82" x2="1227.4" y2="318.82" stroke="#000" stroke-width="3" stroke-linecap="round"/>
<text x="1234.4" y="326.02" font-size="20.95">GOBP_GLYCOLIPID_CATABOLIC_PROCESS</text>
<line x1="1224.2" y1="344.18" x2="1227.4" y2="344.18" stroke="#000" stroke-width="3" stroke-linecap="round"/>
<text x="1234.4" y="351.38" font-size="20.95">GOBP_CELLULAR_SPHINGOLIPID_HOMEOSTASIS</text>
<line x1="1224.2" y1="369.54" x2="1227.4" y2="369.54" stroke="#000" stroke-width="3" stroke-linecap="round"/>
<text x="1234.4" y="376.74" font-size="20.95">GOBP_LIPID_DIGESTION</text>
<line x1="1224.2" y1="394.9" x2="1227.4" y2="394.9" stroke="#000" stroke-width="3" stroke-linecap="round"/>
<text x="1234.4" y="402.1" font-size="20.95">GOBP_LIPID_HYDROXYLATION</text>
<line x1="1224.2" y1="420.26" x2="1227.4" y2="420.26" stroke="#000" stroke-width="3" stroke-linecap="round"/>
<text x="1234.4" y="427.46" font-size="20.95">GOBP_UNSATURATED_FATTY_ACID_BIOSYNTHETIC_PROCESS</text>
<line x1="1224.2" y1="445.62" x2="1227.4" y2="445.62" stroke="#000" stroke-width="3" stroke-linecap="round"/>
<text x="1234.4" y="452.82" font-size="20.95">GOMF_LONG_CHAIN_FATTY_ACID_TRANSPORTER_ACTIVITY</text>
<line x1="1224.2" y1="470.98" x2="1227.4" y2="470.98" stroke="#000" stroke-width="3" stroke-linecap="round"/>
<text x="1234.4" y="478.18" font-size="20.95">GOBP_VERY_LONG_CHAIN_FATTY_ACID_CATABOLIC_PROCESS</text>
<defs><linearGradient id="cbc" x1="0" x2="1" y1="0" y2="0"><stop offset="0" stop-color="#2f5590"/><stop offset="0.25" stop-color="#7d9bbd"/><stop offset="0.497" stop-color="#ffffff"/><stop offset="0.75" stop-color="#f1c7a0"/><stop offset="1" stop-color="#e8873c"/></linearGradient></defs>
<rect x="1042.9" y="494.4" width="184.5" height="22.9" fill="url(#cbc)" stroke="#000" stroke-width="2.8"/>
<line x1="1078.2" y1="495.5" x2="1078.2" y2="499.6" stroke="#000" stroke-width="2.6"/>
<line x1="1078.2" y1="512" x2="1078.2" y2="516.2" stroke="#000" stroke-width="2.6"/>
<text x="1076.4" y="540.9" font-size="24.3" text-anchor="middle">-1</text>
<line x1="1134.7" y1="495.5" x2="1134.7" y2="499.6" stroke="#000" stroke-width="2.6"/>
<line x1="1134.7" y1="512" x2="1134.7" y2="516.2" stroke="#000" stroke-width="2.6"/>
<text x="1134.7" y="540.9" font-size="24.3" text-anchor="middle">0</text>
<line x1="1191.4" y1="495.5" x2="1191.4" y2="499.6" stroke="#000" stroke-width="2.6"/>
<line x1="1191.4" y1="512" x2="1191.4" y2="516.2" stroke="#000" stroke-width="2.6"/>
<text x="1191.4" y="540.9" font-size="24.3" text-anchor="middle">1</text>
<text x="1234.2" y="514.8" font-size="24.3">Z-score</text>
</g>
<g id="panel_d">
<text x="2.8" y="543.2" font-size="43" font-weight="bold">d</text>
<line x1="335" y1="562" x2="335" y2="917" stroke="#808080" stroke-width="1.1" stroke-dasharray="4.2 2.6"/>
<line x1="377.9" y1="562" x2="377.9" y2="917" stroke="#808080" stroke-width="1.1" stroke-dasharray="4.2 2.6"/>
<line x1="119" y1="863.6" x2="592.6" y2="863.6" stroke="#808080" stroke-width="1.1" stroke-dasharray="5.5 3"/>
<g fill="#000"><circle cx="327.49" cy="795.67" r="4.5"/><circle cx="336.29" cy="826.98" r="4.5"/><circle cx="331.67" cy="894.19" r="4.5"/><circle cx="340.09" cy="911.8" r="4.5"/><circle cx="338" cy="831.5" r="4.5"/><circle cx="326.85" cy="892.63" r="4.5"/><circle cx="321.55" cy="858.45" r="4.5"/><circle cx="340.57" cy="827.96" r="4.5"/><circle cx="336.78" cy="782.84" r="4.5"/><circle cx="342.29" cy="836" r="4.5"/><circle cx="327.09" cy="859.03" r="4.5"/><circle cx="332.86" cy="817.37" r="4.5"/><circle cx="347.02" cy="875.56" r="4.5"/><circle cx="335.85" cy="901.23" r="4.5"/><circle cx="344.32" cy="815.65" r="4.5"/><circle cx="331.4" cy="884.03" r="4.5"/><circle cx="345.78" cy="857.2" r="4.5"/><circle cx="342.91" cy="860.31" r="4.5"/><circle cx="338.12" cy="840.17" r="4.5"/><circle cx="348.91" cy="911.36" r="4.5"/><circle cx="333.73" cy="870.48" r="4.5"/><circle cx="330.06" cy="871.13" r="4.5"/><circle cx="330.27" cy="900.68" r="4.5"/><circle cx="348.05" cy="899.6" r="4.5"/><circle cx="338.5" cy="811.98" r="4.5"/><circle cx="329.37" cy="856.22" r="4.5"/><circle cx="335.44" cy="863.69" r="4.5"/><circle cx="351.38" cy="887.36" r="4.5"/><circle cx="330.33" cy="831.83" r="4.5"/><circle cx="318.34" cy="866.13" r="4.5"/><circle cx="322.71" cy="797.34" r="4.5"/><circle cx="328.16" cy="781.35" r="4.5"/><circle cx="339.54" cy="795.34" r="4.5"/><circle cx="329.16" cy="791.59" r="4.5"/><circle cx="333.39" cy="844.2" r="4.5"/><circle cx="335.97" cy="795.05" r="4.5"/><circle cx="336.15" cy="887.22" r="4.5"/><circle cx="327.73" cy="806.19" r="4.5"/><circle cx="349.44" cy="891.16" r="4.5"/><circle cx="348.01" cy="881.51" r="4.5"/><circle cx="323.46" cy="849.13" r="4.5"/><circle cx="324.8" cy="874.61" r="4.5"/><circle cx="339.95" cy="904.89" r="4.5"/><circle cx="348.93" cy="843.56" r="4.5"/><circle cx="341.15" cy="890.22" r="4.5"/><circle cx="345.18" cy="843.35" r="4.5"/><circle cx="335.9" cy="909.75" r="4.5"/><circle cx="328.73" cy="840.46" r="4.5"/><circle cx="331.51" cy="907.43" r="4.5"/><circle cx="334.87" cy="851.19" r="4.5"/><circle cx="332.32" cy="800.37" r="4.5"/><circle cx="344.15" cy="854.79" r="4.5"/><circle cx="327.58" cy="849.23" r="4.5"/><circle cx="318.45" cy="855.34" r="4.5"/><circle cx="346.1" cy="847.68" r="4.5"/><circle cx="337.36" cy="884.45" r="4.5"/><circle cx="339.47" cy="847.37" r="4.5"/><circle cx="335.31" cy="874.64" r="4.5"/><circle cx="343.07" cy="901.43" r="4.5"/><circle cx="346.59" cy="904.42" r="4.5"/><circle cx="320.46" cy="878.05" r="4.5"/><circle cx="350.69" cy="914.69" r="4.5"/><circle cx="335.45" cy="823.11" r="4.5"/><circle cx="325.27" cy="792.57" r="4.5"/><circle cx="335.92" cy="808.44" r="4.5"/><circle cx="348.04" cy="836.67" r="4.5"/><circle cx="334.59" cy="895.32" r="4.5"/><circle cx="330.36" cy="847.53" r="4.5"/><circle cx="343.38" cy="866.37" r="4.5"/><circle cx="330.85" cy="824.34" r="4.5"/><circle cx="350.18" cy="871.41" r="4.5"/><circle cx="338.35" cy="850.81" r="4.5"/><circle cx="345.2" cy="869.52" r="4.5"/><circle cx="330.21" cy="821.22" r="4.5"/><circle cx="344.51" cy="892.06" r="4.5"/><circle cx="347.45" cy="894.12" r="4.5"/><circle cx="342.39" cy="874.73" r="4.5"/><circle cx="340.04" cy="872.88" r="4.5"/><circle cx="344.63" cy="810.44" r="4.5"/><circle cx="334.55" cy="829.44" r="4.5"/><circle cx="345.88" cy="863.6" r="4.5"/><circle cx="335.49" cy="841.41" r="4.5"/><circle cx="333.4" cy="790.96" r="4.5"/><circle cx="332.7" cy="812.84" r="4.5"/><circle cx="350.86" cy="876.19" r="4.5"/><circle cx="327.17" cy="896.14" r="4.5"/><circle cx="329.02" cy="836.07" r="4.5"/><circle cx="335.26" cy="801.36" r="4.5"/><circle cx="344.45" cy="839.39" r="4.5"/><circle cx="326.41" cy="881.39" r="4.5"/><circle cx="341.28" cy="817.53" r="4.5"/><circle cx="334.68" cy="805.75" r="4.5"/><circle cx="332.72" cy="794.03" r="4.5"/><circle cx="328.24" cy="786.96" r="4.5"/><circle cx="345.16" cy="833.85" r="4.5"/><circle cx="340.92" cy="885.15" r="4.5"/><circle cx="333.03" cy="854.06" r="4.5"/><circle cx="335.82" cy="858.64" r="4.5"/><circle cx="341.75" cy="908.52" r="4.5"/><circle cx="342.38" cy="802.56" r="4.5"/><circle cx="323.24" cy="884.52" r="4.5"/><circle cx="351.33" cy="902.46" r="4.5"/><circle cx="324.93" cy="878.13" r="4.5"/><circle cx="330.09" cy="810.27" r="4.5"/><circle cx="348.2" cy="886.31" r="4.5"/><circle cx="339.25" cy="821.46" r="4.5"/><circle cx="324.31" cy="783.12" r="4.5"/><circle cx="325.04" cy="785.94" r="4.5"/><circle cx="345.09" cy="897.12" r="4.5"/><circle cx="341.63" cy="791.35" r="4.5"/><circle cx="348.94" cy="906.94" r="4.5"/><circle cx="324.84" cy="887.04" r="4.5"/><circle cx="338.79" cy="864.04" r="4.5"/><circle cx="324.63" cy="861.05" r="4.5"/><circle cx="327.01" cy="803.33" r="4.5"/><circle cx="347.06" cy="853.56" r="4.5"/><circle cx="340.58" cy="786.97" r="4.5"/><circle cx="320.84" cy="875.03" r="4.5"/><circle cx="333.18" cy="797.38" r="4.5"/><circle cx="347.45" cy="914.6" r="4.5"/><circle cx="322.24" cy="792.15" r="4.5"/><circle cx="334.08" cy="781.47" r="4.5"/><circle cx="330.84" cy="897.03" r="4.5"/><circle cx="338.93" cy="853.85" r="4.5"/><circle cx="331.48" cy="858.6" r="4.5"/><circle cx="332.59" cy="837.57" r="4.5"/><circle cx="344.49" cy="887.02" r="4.5"/><circle cx="334.46" cy="913.1" r="4.5"/><circle cx="346.77" cy="909.31" r="4.5"/><circle cx="335.05" cy="820.19" r="4.5"/><circle cx="350.28" cy="854.6" r="4.5"/><circle cx="338.37" cy="870.41" r="4.5"/><circle cx="335.33" cy="904.2" r="4.5"/><circle cx="338.5" cy="803.45" r="4.5"/><circle cx="339.94" cy="842.9" r="4.5"/><circle cx="335.09" cy="867.19" r="4.5"/><circle cx="323.43" cy="789.03" r="4.5"/><circle cx="337.03" cy="837.24" r="4.5"/><circle cx="325.06" cy="867.25" r="4.5"/><circle cx="345.02" cy="821.32" r="4.5"/><circle cx="332.19" cy="879.29" r="4.5"/><circle cx="337.72" cy="818.54" r="4.5"/><circle cx="322.85" cy="864.43" r="4.5"/><circle cx="342.98" cy="881.06" r="4.5"/><circle cx="340.37" cy="893.93" r="4.5"/><circle cx="349.39" cy="863.79" r="4.5"/><circle cx="328.44" cy="876.38" r="4.5"/><circle cx="334.45" cy="889.81" r="4.5"/><circle cx="343.08" cy="846.31" r="4.5"/><circle cx="330.17" cy="778.63" r="4.5"/><circle cx="330.61" cy="888.97" r="4.5"/><circle cx="319.93" cy="861.67" r="4.5"/><circle cx="331.53" cy="807" r="4.5"/><circle cx="321.65" cy="869.07" r="4.5"/><circle cx="346.35" cy="830.34" r="4.5"/><circle cx="336.5" cy="878.22" r="4.5"/><circle cx="348.46" cy="849.72" r="4.5"/><circle cx="331.5" cy="875.45" r="4.5"/><circle cx="323.13" cy="890.49" r="4.5"/><circle cx="347.65" cy="866.13" r="4.5"/><circle cx="328.7" cy="866.78" r="4.5"/><circle cx="336.8" cy="791.93" r="4.5"/><circle cx="326.57" cy="843.58" r="4.5"/><circle cx="331.83" cy="866.57" r="4.5"/><circle cx="341.27" cy="810.13" r="4.5"/><circle cx="336.08" cy="881.81" r="4.5"/><circle cx="331.17" cy="788.56" r="4.5"/><circle cx="340.14" cy="877.05" r="4.5"/><circle cx="327.83" cy="861.98" r="4.5"/><circle cx="324.72" cy="855.95" r="4.5"/><circle cx="341.85" cy="830.98" r="4.5"/><circle cx="351.52" cy="905.52" r="4.5"/><circle cx="338.61" cy="899.18" r="4.5"/><circle cx="342.21" cy="813.54" r="4.5"/><circle cx="337.15" cy="845.3" r="4.5"/><circle cx="342.13" cy="850.24" r="4.5"/><circle cx="336.05" cy="892.59" r="4.5"/><circle cx="349" cy="859.12" r="4.5"/><circle cx="343.74" cy="825.26" r="4.5"/><circle cx="338.22" cy="824.53" r="4.5"/><circle cx="343.87" cy="805.95" r="4.5"/><circle cx="328.92" cy="800.88" r="4.5"/><circle cx="330.78" cy="783.23" r="4.5"/><circle cx="340.15" cy="800.16" r="4.5"/><circle cx="344.52" cy="877.54" r="4.5"/><circle cx="331.13" cy="803.04" r="4.5"/><circle cx="342.6" cy="797.54" r="4.5"/><circle cx="325.8" cy="870.11" r="4.5"/><circle cx="331.33" cy="850.92" r="4.5"/><circle cx="321.02" cy="882.32" r="4.5"/><circle cx="328.22" cy="884.97" r="4.5"/><circle cx="344.65" cy="911.85" r="4.5"/><circle cx="321.74" cy="854.46" r="4.5"/><circle cx="325.39" cy="846.56" r="4.5"/><circle cx="347.28" cy="840.74" r="4.5"/><circle cx="350.7" cy="880.28" r="4.5"/><circle cx="325.38" cy="799.52" r="4.5"/><circle cx="342.16" cy="820.63" r="4.5"/><circle cx="332.42" cy="827.2" r="4.5"/><circle cx="351.46" cy="884.01" r="4.5"/><circle cx="335.26" cy="834.93" r="4.5"/><circle cx="337.26" cy="787.63" r="4.5"/><circle cx="328.69" cy="828.3" r="4.5"/><circle cx="335.55" cy="816.24" r="4.5"/><circle cx="345.33" cy="872.51" r="4.5"/><circle cx="340.81" cy="914.66" r="4.5"/><circle cx="323.16" cy="871.6" r="4.5"/><circle cx="329.3" cy="817.81" r="4.5"/><circle cx="330.96" cy="862.74" r="4.5"/><circle cx="345.01" cy="883.45" r="4.5"/><circle cx="341.12" cy="856.7" r="4.5"/><circle cx="317.96" cy="859.12" r="4.5"/><circle cx="320.85" cy="851.2" r="4.5"/><circle cx="333.23" cy="832.25" r="4.5"/><circle cx="346.79" cy="825.66" r="4.5"/><circle cx="332.98" cy="899.54" r="4.5"/><circle cx="341.31" cy="869.55" r="4.5"/><circle cx="318.03" cy="869.97" r="4.5"/><circle cx="332.54" cy="840.99" r="4.5"/><circle cx="327.82" cy="852.83" r="4.5"/><circle cx="344.22" cy="914.87" r="4.5"/><circle cx="324.49" cy="852.79" r="4.5"/><circle cx="345.86" cy="818.33" r="4.5"/><circle cx="351.1" cy="895.59" r="4.5"/><circle cx="337.31" cy="798.63" r="4.5"/><circle cx="330.57" cy="843.48" r="4.5"/><circle cx="339.34" cy="835.38" r="4.5"/><circle cx="335.83" cy="898.08" r="4.5"/><circle cx="337.54" cy="861.3" r="4.5"/><circle cx="337.94" cy="914.1" r="4.5"/><circle cx="329.36" cy="813.85" r="4.5"/><circle cx="334.47" cy="785.53" r="4.5"/><circle cx="334.38" cy="778.48" r="4.5"/><circle cx="330.12" cy="798.16" r="4.5"/><circle cx="329.14" cy="879.69" r="4.5"/><circle cx="329.71" cy="904.73" r="4.5"/><circle cx="343.95" cy="905.88" r="4.5"/><circle cx="337.6" cy="780.01" r="4.5"/><circle cx="337.62" cy="906.79" r="4.5"/><circle cx="332.51" cy="902.96" r="4.5"/><circle cx="343.2" cy="894.81" r="4.5"/><circle cx="335.74" cy="848.36" r="4.5"/><circle cx="339.36" cy="880.91" r="4.5"/><circle cx="332.82" cy="887.03" r="4.5"/><circle cx="341.24" cy="897.71" r="4.5"/><circle cx="333.27" cy="809.68" r="4.5"/><circle cx="338.74" cy="806.65" r="4.5"/><circle cx="350.04" cy="868.06" r="4.5"/><circle cx="340.68" cy="838.81" r="4.5"/><circle cx="321.77" cy="887.33" r="4.5"/><circle cx="345.97" cy="860.67" r="4.5"/><circle cx="327.42" cy="872.59" r="4.5"/><circle cx="327.57" cy="888.24" r="4.5"/><circle cx="345.33" cy="851.08" r="4.5"/><circle cx="333.54" cy="860.67" r="4.5"/><circle cx="335.43" cy="811.84" r="4.5"/><circle cx="326.56" cy="789.33" r="4.5"/><circle cx="351.11" cy="909" r="4.5"/><circle cx="332.68" cy="910.61" r="4.5"/><circle cx="343.47" cy="828.22" r="4.5"/><circle cx="346.44" cy="889.23" r="4.5"/><circle cx="347.91" cy="878.43" r="4.5"/><circle cx="372.99" cy="797.47" r="4.5"/><circle cx="363.85" cy="847.7" r="4.5"/><circle cx="371.37" cy="820.23" r="4.5"/><circle cx="378.43" cy="887.49" r="4.5"/><circle cx="363.65" cy="890.19" r="4.5"/><circle cx="364.32" cy="844.02" r="4.5"/><circle cx="366.17" cy="831.03" r="4.5"/><circle cx="379.82" cy="881.51" r="4.5"/><circle cx="374.4" cy="874.11" r="4.5"/><circle cx="377.74" cy="904.11" r="4.5"/><circle cx="379.63" cy="898.37" r="4.5"/><circle cx="377.96" cy="912.78" r="4.5"/><circle cx="381.63" cy="902.92" r="4.5"/><circle cx="370.97" cy="841.73" r="4.5"/><circle cx="363.38" cy="913.99" r="4.5"/><circle cx="372.2" cy="862.4" r="4.5"/><circle cx="368.32" cy="817.17" r="4.5"/><circle cx="370.19" cy="902.04" r="4.5"/><circle cx="370.95" cy="908.46" r="4.5"/><circle cx="374.43" cy="889.86" r="4.5"/><circle cx="362.88" cy="900.24" r="4.5"/><circle cx="366.84" cy="880.42" r="4.5"/><circle cx="361.76" cy="884.01" r="4.5"/><circle cx="373.41" cy="870.31" r="4.5"/><circle cx="384.56" cy="889.5" r="4.5"/><circle cx="364.11" cy="833.41" r="4.5"/><circle cx="376.92" cy="788.58" r="4.5"/><circle cx="390.38" cy="901.86" r="4.5"/><circle cx="367.69" cy="826.19" r="4.5"/><circle cx="373.37" cy="914.67" r="4.5"/><circle cx="376.92" cy="813.94" r="4.5"/><circle cx="387.86" cy="903.58" r="4.5"/><circle cx="365.26" cy="868.9" r="4.5"/><circle cx="376.23" cy="795.44" r="4.5"/><circle cx="370.5" cy="847.35" r="4.5"/><circle cx="366.47" cy="791.9" r="4.5"/><circle cx="370.59" cy="807.63" r="4.5"/><circle cx="369.31" cy="836.38" r="4.5"/><circle cx="367.32" cy="809.3" r="4.5"/><circle cx="376.98" cy="892.23" r="4.5"/><circle cx="366.73" cy="854.96" r="4.5"/><circle cx="377.04" cy="784.03" r="4.5"/><circle cx="380.14" cy="789.01" r="4.5"/><circle cx="372.82" cy="857.04" r="4.5"/><circle cx="367.46" cy="859.88" r="4.5"/><circle cx="367.66" cy="896.31" r="4.5"/><circle cx="372.27" cy="835.51" r="4.5"/><circle cx="382.65" cy="900.12" r="4.5"/><circle cx="369.59" cy="855.9" r="4.5"/><circle cx="380.19" cy="909.42" r="4.5"/><circle cx="367.52" cy="851.13" r="4.5"/><circle cx="370.67" cy="811.19" r="4.5"/><circle cx="367.09" cy="891.03" r="4.5"/><circle cx="381.97" cy="890.88" r="4.5"/><circle cx="373.79" cy="876.98" r="4.5"/><circle cx="366.66" cy="821.79" r="4.5"/><circle cx="362.88" cy="870.98" r="4.5"/><circle cx="368.01" cy="787.34" r="4.5"/><circle cx="364.69" cy="907.52" r="4.5"/><circle cx="367.27" cy="864.3" r="4.5"/><circle cx="377.43" cy="801.46" r="4.5"/><circle cx="372.22" cy="805" r="4.5"/><circle cx="370.15" cy="912.81" r="4.5"/><circle cx="366.45" cy="839.54" r="4.5"/><circle cx="374.72" cy="882.51" r="4.5"/><circle cx="367.86" cy="802.15" r="4.5"/><circle cx="367.9" cy="886.8" r="4.5"/><circle cx="371.9" cy="883.49" r="4.5"/><circle cx="384.78" cy="894.16" r="4.5"/><circle cx="368.07" cy="873.25" r="4.5"/><circle cx="361.33" cy="894.38" r="4.5"/><circle cx="372.47" cy="886.94" r="4.5"/><circle cx="389.04" cy="895.5" r="4.5"/><circle cx="363.62" cy="866.07" r="4.5"/><circle cx="366.38" cy="898.99" r="4.5"/><circle cx="368.54" cy="796.14" r="4.5"/><circle cx="364.05" cy="893.37" r="4.5"/><circle cx="367.73" cy="904.06" r="4.5"/><circle cx="374.47" cy="820.37" r="4.5"/><circle cx="388.42" cy="906.91" r="4.5"/><circle cx="374.82" cy="842.98" r="4.5"/><circle cx="366.95" cy="876.25" r="4.5"/><circle cx="370.9" cy="865.76" r="4.5"/><circle cx="372.16" cy="802.07" r="4.5"/><circle cx="373.94" cy="823.44" r="4.5"/><circle cx="390.23" cy="898.95" r="4.5"/><circle cx="384.41" cy="905.43" r="4.5"/><circle cx="365.29" cy="798.76" r="4.5"/><circle cx="365.58" cy="836.69" r="4.5"/><circle cx="364.25" cy="903.17" r="4.5"/><circle cx="366.85" cy="805.95" r="4.5"/><circle cx="371.08" cy="830.26" r="4.5"/><circle cx="370.96" cy="814.71" r="4.5"/><circle cx="381.57" cy="887.89" r="4.5"/><circle cx="379.51" cy="792.9" r="4.5"/><circle cx="375.86" cy="895.2" r="4.5"/><circle cx="366.68" cy="883.53" r="4.5"/><circle cx="374.92" cy="807.22" r="4.5"/><circle cx="373.62" cy="816.86" r="4.5"/><circle cx="373.27" cy="897.65" r="4.5"/><circle cx="372.21" cy="893.74" r="4.5"/><circle cx="362.52" cy="858.38" r="4.5"/><circle cx="360.72" cy="911.74" r="4.5"/><circle cx="373.28" cy="788.65" r="4.5"/><circle cx="373.1" cy="879.87" r="4.5"/><circle cx="360.88" cy="903.89" r="4.5"/><circle cx="377.77" cy="907.1" r="4.5"/><circle cx="380.95" cy="912.24" r="4.5"/><circle cx="370.89" cy="859.23" r="4.5"/><circle cx="363.11" cy="887.15" r="4.5"/><circle cx="374.26" cy="848.43" r="4.5"/><circle cx="368.55" cy="869.16" r="4.5"/><circle cx="387.54" cy="900.52" r="4.5"/><circle cx="371.33" cy="795.07" r="4.5"/><circle cx="382.13" cy="895.67" r="4.5"/><circle cx="372.96" cy="903.25" r="4.5"/><circle cx="363.17" cy="874.29" r="4.5"/><circle cx="370.03" cy="877.23" r="4.5"/><circle cx="363.25" cy="851.72" r="4.5"/><circle cx="381.55" cy="906.78" r="4.5"/><circle cx="376.05" cy="898.8" r="4.5"/><circle cx="373.38" cy="792.66" r="4.5"/><circle cx="364.96" cy="827.25" r="4.5"/><circle cx="372.97" cy="784.66" r="4.5"/><circle cx="376.56" cy="910.13" r="4.5"/><circle cx="374.97" cy="803.65" r="4.5"/><circle cx="367.03" cy="913.23" r="4.5"/><circle cx="377.17" cy="810.17" r="4.5"/><circle cx="370.79" cy="905.45" r="4.5"/><circle cx="361.99" cy="877.84" r="4.5"/><circle cx="363.62" cy="880.72" r="4.5"/><circle cx="361.6" cy="897.51" r="4.5"/><circle cx="367.26" cy="833.95" r="4.5"/><circle cx="370.63" cy="790.77" r="4.5"/><circle cx="373.08" cy="809.56" r="4.5"/><circle cx="384.11" cy="912.01" r="4.5"/><circle cx="372.24" cy="852.72" r="4.5"/><circle cx="363.47" cy="855.19" r="4.5"/><circle cx="381.2" cy="884.15" r="4.5"/><circle cx="367.91" cy="813.52" r="4.5"/><circle cx="368.23" cy="845.22" r="4.5"/><circle cx="377.3" cy="884.27" r="4.5"/><circle cx="363.24" cy="862.67" r="4.5"/><circle cx="377.63" cy="805.5" r="4.5"/><circle cx="370.64" cy="827.06" r="4.5"/><circle cx="376.51" cy="791.95" r="4.5"/><circle cx="378.94" cy="894.49" r="4.5"/><circle cx="384.44" cy="897.77" r="4.5"/><circle cx="369.9" cy="799.16" r="4.5"/><circle cx="378.42" cy="901.09" r="4.5"/><circle cx="365.51" cy="795.65" r="4.5"/><circle cx="371.14" cy="890.88" r="4.5"/><circle cx="367.31" cy="909.92" r="4.5"/><circle cx="373.59" cy="840.05" r="4.5"/><circle cx="379.31" cy="797.96" r="4.5"/><circle cx="363.82" cy="910.77" r="4.5"/><circle cx="364.53" cy="824.22" r="4.5"/><circle cx="370.41" cy="898.93" r="4.5"/><circle cx="361.05" cy="908.39" r="4.5"/><circle cx="380.04" cy="785.24" r="4.5"/><circle cx="370.73" cy="823.23" r="4.5"/><circle cx="376.18" cy="879.79" r="4.5"/><circle cx="368.09" cy="842.26" r="4.5"/><circle cx="387.23" cy="892.54" r="4.5"/><circle cx="374.77" cy="905.84" r="4.5"/><circle cx="373.66" cy="910.87" r="4.5"/><circle cx="364.91" cy="817.38" r="4.5"/><circle cx="369.29" cy="893.17" r="4.5"/><circle cx="367.68" cy="907.03" r="4.5"/><circle cx="385.2" cy="909.31" r="4.5"/><circle cx="360.75" cy="890.7" r="4.5"/><circle cx="373.85" cy="867.37" r="4.5"/><circle cx="363.37" cy="840.2" r="4.5"/><circle cx="375.44" cy="886.6" r="4.5"/><circle cx="375.74" cy="799.07" r="4.5"/><circle cx="370.03" cy="784.53" r="4.5"/><circle cx="360.53" cy="914.82" r="4.5"/><circle cx="374.32" cy="812.63" r="4.5"/><circle cx="370.24" cy="833.05" r="4.5"/><circle cx="371.31" cy="872.51" r="4.5"/><circle cx="373.2" cy="832.29" r="4.5"/><circle cx="384.7" cy="902.36" r="4.5"/><circle cx="372.74" cy="845.03" r="4.5"/><circle cx="366.82" cy="848.18" r="4.5"/><circle cx="355.72" cy="907.3" r="4.5"/><circle cx="357.13" cy="912.24" r="4.5"/><circle cx="357.82" cy="905.25" r="4.5"/><circle cx="357.2" cy="901.9" r="4.5"/><circle cx="353.6" cy="912.71" r="4.5"/><circle cx="358.13" cy="898.91" r="4.5"/><circle cx="356.9" cy="894.19" r="4.5"/><circle cx="358.41" cy="918.55" r="4.5"/><circle cx="356" cy="915.2" r="4.5"/><circle cx="354.7" cy="896.66" r="4.5"/><circle cx="353.54" cy="918.85" r="4.5"/><circle cx="361.61" cy="918.68" r="4.5"/><circle cx="354.38" cy="903.17" r="4.5"/><circle cx="354.69" cy="899.73" r="4.5"/><circle cx="350.54" cy="918.48" r="4.5"/><circle cx="354.62" cy="909.99" r="4.5"/><circle cx="357.93" cy="909.38" r="4.5"/><circle cx="423.51" cy="871.7" r="4.5"/><circle cx="391.76" cy="875.98" r="4.5"/><circle cx="396.17" cy="867.72" r="4.5"/><circle cx="396.7" cy="894.63" r="4.5"/><circle cx="391.21" cy="870.98" r="4.5"/><circle cx="386.55" cy="884.9" r="4.5"/><circle cx="402.59" cy="887.33" r="4.5"/><circle cx="408.4" cy="884.43" r="4.5"/><circle cx="415.09" cy="867.34" r="4.5"/><circle cx="395.28" cy="873.26" r="4.5"/><circle cx="384.13" cy="872.99" r="4.5"/><circle cx="393.87" cy="879.79" r="4.5"/><circle cx="397.09" cy="901.19" r="4.5"/><circle cx="393.73" cy="887.81" r="4.5"/><circle cx="404.83" cy="877.27" r="4.5"/><circle cx="409.24" cy="880.13" r="4.5"/><circle cx="406.47" cy="889.34" r="4.5"/><circle cx="399.54" cy="873.46" r="4.5"/><circle cx="388.4" cy="879.82" r="4.5"/><circle cx="410.63" cy="875.87" r="4.5"/><circle cx="407.81" cy="871.5" r="4.5"/><circle cx="399.52" cy="891.04" r="4.5"/><circle cx="417.44" cy="871.88" r="4.5"/><circle cx="403.61" cy="870.81" r="4.5"/><circle cx="399.96" cy="877.67" r="4.5"/><circle cx="402.16" cy="883.19" r="4.5"/><circle cx="392.13" cy="883.93" r="4.5"/><circle cx="381.66" cy="877.49" r="4.5"/><circle cx="387.11" cy="868.6" r="4.5"/><circle cx="412.5" cy="872" r="4.5"/><circle cx="398.01" cy="881.83" r="4.5"/><circle cx="394.1" cy="904.44" r="4.5"/><circle cx="392.34" cy="892.02" r="4.5"/><circle cx="381.5" cy="868.74" r="4.5"/><circle cx="400.75" cy="867.55" r="4.5"/><circle cx="427.23" cy="869.42" r="4.5"/><circle cx="421.62" cy="867.64" r="4.5"/><circle cx="410.6" cy="867.7" r="4.5"/><circle cx="387.59" cy="875.72" r="4.5"/><circle cx="389.41" cy="888.01" r="4.5"/><circle cx="398.51" cy="886.67" r="4.5"/><circle cx="384.4" cy="881.24" r="4.5"/><circle cx="324.86" cy="901.41" r="4.5"/><circle cx="315.43" cy="874.85" r="4.5"/><circle cx="322.03" cy="895.92" r="4.5"/><circle cx="324.05" cy="837.73" r="4.5"/><circle cx="321.79" cy="803.5" r="4.5"/><circle cx="325.15" cy="832.68" r="4.5"/><circle cx="361.73" cy="807.25" r="4.5"/><circle cx="362.62" cy="812.32" r="4.5"/><circle cx="368.12" cy="918.58" r="4.5"/><circle cx="356.01" cy="920.64" r="4.5"/><circle cx="183.27" cy="885.55" r="4.5"/><circle cx="237.75" cy="900.81" r="4.5"/><circle cx="232.41" cy="826.64" r="4.5"/><circle cx="251.94" cy="819.01" r="4.5"/><circle cx="250.72" cy="843.12" r="4.5"/><circle cx="258.65" cy="843.12" r="4.5"/><circle cx="244.31" cy="859.15" r="4.5"/><circle cx="265.67" cy="801.16" r="4.5"/><circle cx="282" cy="785.44" r="4.5"/><circle cx="287.04" cy="748.51" r="4.5"/><circle cx="314.81" cy="736.61" r="4.5"/><circle cx="333.12" cy="735.08" r="4.5"/><circle cx="277.88" cy="871.05" r="4.5"/><circle cx="288.1" cy="879.75" r="4.5"/><circle cx="283.98" cy="849.99" r="4.5"/><circle cx="273.91" cy="826.64" r="4.5"/><circle cx="281.24" cy="826.64" r="4.5"/><circle cx="284.29" cy="809.55" r="4.5"/><circle cx="289.63" cy="801.92" r="4.5"/><circle cx="290.39" cy="815.65" r="4.5"/><circle cx="292.68" cy="826.34" r="4.5"/><circle cx="281.24" cy="836.26" r="4.5"/><circle cx="291.92" cy="835.49" r="4.5"/><circle cx="286.58" cy="837.78" r="4.5"/><circle cx="298.79" cy="841.6" r="4.5"/><circle cx="305.65" cy="833.2" r="4.5"/><circle cx="307.18" cy="846.17" r="4.5"/><circle cx="315.57" cy="841.6" r="4.5"/><circle cx="321.68" cy="840.83" r="4.5"/><circle cx="308.71" cy="849.99" r="4.5"/><circle cx="307.18" cy="859.15" r="4.5"/><circle cx="304.89" cy="876.69" r="4.5"/><circle cx="309.47" cy="878.22" r="4.5"/><circle cx="308.71" cy="892.72" r="4.5"/><circle cx="317.1" cy="889.67" r="4.5"/><circle cx="317.86" cy="901.11" r="4.5"/><circle cx="304.13" cy="784.37" r="4.5"/><circle cx="307.94" cy="782.84" r="4.5"/><circle cx="306.42" cy="803.45" r="4.5"/><circle cx="311.76" cy="804.21" r="4.5"/><circle cx="307.18" cy="816.42" r="4.5"/><circle cx="305.65" cy="822.52" r="4.5"/><circle cx="317.1" cy="825.57" r="4.5"/><circle cx="317.1" cy="830.15" r="4.5"/><circle cx="336.17" cy="751.56" r="4.5"/><circle cx="341.52" cy="750.04" r="4.5"/><circle cx="325.49" cy="764.53" r="4.5"/><circle cx="330.07" cy="760.72" r="4.5"/><circle cx="343.04" cy="761.48" r="4.5"/><circle cx="339.23" cy="766.82" r="4.5"/><circle cx="334.65" cy="768.35" r="4.5"/><circle cx="331.6" cy="766.82" r="4.5"/><circle cx="314.05" cy="832.44" r="4.5"/><circle cx="319.39" cy="849.23" r="4.5"/><circle cx="310.23" cy="806.5" r="4.5"/><circle cx="316.34" cy="862.96" r="4.5"/><circle cx="311.76" cy="882.8" r="4.5"/><circle cx="322.44" cy="898.06" r="4.5"/><circle cx="383.57" cy="681.67" r="4.5"/><circle cx="394.56" cy="685.94" r="4.5"/><circle cx="377.93" cy="699.98" r="4.5"/><circle cx="393.8" cy="712.34" r="4.5"/><circle cx="376.71" cy="733.55" r="4.5"/><circle cx="385.86" cy="733.55" r="4.5"/><circle cx="388.91" cy="733.55" r="4.5"/><circle cx="376.71" cy="743.93" r="4.5"/><circle cx="379.76" cy="750.04" r="4.5"/><circle cx="384.34" cy="752.32" r="4.5"/><circle cx="381.28" cy="756.9" r="4.5"/><circle cx="378.99" cy="766.82" r="4.5"/><circle cx="385.86" cy="765.3" r="4.5"/><circle cx="396.54" cy="777.2" r="4.5"/><circle cx="365.26" cy="777.2" r="4.5"/><circle cx="370.6" cy="777.5" r="4.5"/><circle cx="382.81" cy="775.98" r="4.5"/><circle cx="368.31" cy="785.44" r="4.5"/><circle cx="377.47" cy="788.19" r="4.5"/><circle cx="386.62" cy="784.37" r="4.5"/><circle cx="360.68" cy="798.87" r="4.5"/><circle cx="362.97" cy="806.5" r="4.5"/><circle cx="379.76" cy="805.73" r="4.5"/><circle cx="373.65" cy="803.45" r="4.5"/><circle cx="391.97" cy="817.94" r="4.5"/><circle cx="405.7" cy="811.08" r="4.5"/><circle cx="417.14" cy="804.97" r="4.5"/><circle cx="551.13" cy="817.18" r="4.5"/><circle cx="375.18" cy="817.18" r="4.5"/><circle cx="379.76" cy="821.76" r="4.5"/><circle cx="362.21" cy="820.99" r="4.5"/><circle cx="370.6" cy="826.34" r="4.5"/><circle cx="375.18" cy="837.02" r="4.5"/><circle cx="376.71" cy="844.65" r="4.5"/><circle cx="451.94" cy="866.78" r="4.5"/><circle cx="452.24" cy="874.41" r="4.5"/><circle cx="421.72" cy="881.27" r="4.5"/><circle cx="431.64" cy="878.98" r="4.5"/><circle cx="436.22" cy="883.56" r="4.5"/><circle cx="417.14" cy="898.82" r="4.5"/><circle cx="420.2" cy="901.87" r="4.5"/><circle cx="395.78" cy="904.16" r="4.5"/><circle cx="398.83" cy="910.27" r="4.5"/><circle cx="391.2" cy="913.32" r="4.5"/></g>
<g fill="#e5853b"><circle cx="459.11" cy="760.26" r="4.5"/><circle cx="504.13" cy="760.72" r="4.5"/><circle cx="417.14" cy="767.58" r="4.5"/><circle cx="527.32" cy="775.98" r="4.5"/><circle cx="586.99" cy="777.2" r="4.5"/><circle cx="512.06" cy="783.91" r="4.5"/><circle cx="505.65" cy="788.19" r="4.5"/><circle cx="513.59" cy="792.76" r="4.5"/><circle cx="563.34" cy="795.82" r="4.5"/><circle cx="424.01" cy="795.82" r="4.5"/><circle cx="424.47" cy="801.92" r="4.5"/><circle cx="404.94" cy="804.21" r="4.5"/><circle cx="443.09" cy="800.09" r="4.5"/><circle cx="447.67" cy="799.63" r="4.5"/><circle cx="441.26" cy="806.5" r="4.5"/><circle cx="459.87" cy="801.16" r="4.5"/><circle cx="462.93" cy="800.39" r="4.5"/><circle cx="420.5" cy="817.49" r="4.5"/><circle cx="480.47" cy="819.47" r="4.5"/><circle cx="484.29" cy="820.54" r="4.5"/><circle cx="475.13" cy="826.34" r="4.5"/><circle cx="479.71" cy="827.86" r="4.5"/><circle cx="447.67" cy="826.34" r="4.5"/><circle cx="444.92" cy="831.68" r="4.5"/><circle cx="428.59" cy="829.39" r="4.5"/><circle cx="529.76" cy="829.39" r="4.5"/><circle cx="394.25" cy="833.97" r="4.5"/><circle cx="396.54" cy="838.54" r="4.5"/><circle cx="408.75" cy="835.19" r="4.5"/><circle cx="411.8" cy="836.26" r="4.5"/><circle cx="430.12" cy="841.29" r="4.5"/><circle cx="578.6" cy="837.48" r="4.5"/><circle cx="470.25" cy="844.34" r="4.5"/><circle cx="447.67" cy="846.94" r="4.5"/><circle cx="454.53" cy="848.01" r="4.5"/><circle cx="495.73" cy="848.77" r="4.5"/><circle cx="505.2" cy="848.92" r="4.5"/><circle cx="561.81" cy="846.17" r="4.5"/><circle cx="378.69" cy="855.33" r="4.5"/><circle cx="394.25" cy="849.23" r="4.5"/><circle cx="403.41" cy="847.7" r="4.5"/><circle cx="410.28" cy="850.75" r="4.5"/><circle cx="392.73" cy="855.33" r="4.5"/><circle cx="400.36" cy="853.8" r="4.5"/><circle cx="412.57" cy="855.33" r="4.5"/><circle cx="415.62" cy="857.62" r="4.5"/><circle cx="387.39" cy="860.21" r="4.5"/><circle cx="394.25" cy="861.43" r="4.5"/><circle cx="410.28" cy="858.38" r="4.5"/><circle cx="414.09" cy="862.96" r="4.5"/><circle cx="424.77" cy="858.38" r="4.5"/><circle cx="430.88" cy="855.33" r="4.5"/><circle cx="433.93" cy="859.15" r="4.5"/><circle cx="429.35" cy="862.2" r="4.5"/><circle cx="431.64" cy="863.72" r="4.5"/><circle cx="397.31" cy="850.75" r="4.5"/><circle cx="406.46" cy="852.58" r="4.5"/></g>
<ellipse cx="500.85" cy="786.4" rx="146.8" ry="98.7" transform="rotate(-32.3 500.85 786.4)" fill="none" stroke="#ff1a10" stroke-width="3"/>
<text x="557.2" y="704.6" font-size="19.9" text-anchor="middle" fill="#ff1a10">Lipids and</text>
<text x="557.2" y="728.45" font-size="19.9" text-anchor="middle" fill="#ff1a10">lipid-like</text>
<text x="557.2" y="752.3" font-size="19.9" text-anchor="middle" fill="#ff1a10">metabolites</text>
<line x1="118.6" y1="561.5" x2="118.6" y2="919.2" stroke="#000" stroke-width="2.7"/>
<line x1="113" y1="917.8" x2="593.9" y2="917.8" stroke="#000" stroke-width="2.7"/>
<line x1="113" y1="917.8" x2="118.6" y2="917.8" stroke="#000" stroke-width="2.4"/>
<text x="108.5" y="926.2" text-anchor="end">0</text>
<line x1="113" y1="834" x2="118.6" y2="834" stroke="#000" stroke-width="2.4"/>
<text x="108.5" y="842.4" text-anchor="end">2</text>
<line x1="113" y1="750.2" x2="118.6" y2="750.2" stroke="#000" stroke-width="2.4"/>
<text x="108.5" y="758.6" text-anchor="end">4</text>
<line x1="113" y1="666.4" x2="118.6" y2="666.4" stroke="#000" stroke-width="2.4"/>
<text x="108.5" y="674.8" text-anchor="end">6</text>
<line x1="113" y1="582.6" x2="118.6" y2="582.6" stroke="#000" stroke-width="2.4"/>
<text x="108.5" y="591" text-anchor="end">8</text>
<line x1="172.8" y1="917.8" x2="172.8" y2="923.8" stroke="#000" stroke-width="2.4"/>
<text x="173.1" y="951.3" text-anchor="middle">-5</text>
<line x1="356" y1="917.8" x2="356" y2="923.8" stroke="#000" stroke-width="2.4"/>
<text x="356" y="951.3" text-anchor="middle">0</text>
<line x1="539.2" y1="917.8" x2="539.2" y2="923.8" stroke="#000" stroke-width="2.4"/>
<text x="539.2" y="951.3" text-anchor="middle">5</text>
<text x="356.3" y="988.2" font-size="24.3" text-anchor="middle">log<tspan font-size="17" dy="7.5">2</tspan><tspan dy="-7.5"> FC (NR4A1-KO/Ctrl)</tspan></text>
<text transform="translate(75.5 737.5) rotate(-90)" font-size="24.3" text-anchor="middle">-log<tspan font-size="17" dy="8">10</tspan><tspan dy="-8"> FDR</tspan></text>
</g>
<g id="panel_e">
<text x="688.3" y="571.6" font-size="43" font-weight="bold">e</text>
<rect x="793.35" y="584.5" width="8.05" height="29.5" fill="#263b57"/><rect x="802.3" y="584.5" width="8.05" height="29.5" fill="#263b57"/><rect x="811.25" y="584.5" width="8.05" height="29.5" fill="#86a884"/><rect x="820.2" y="584.5" width="8.05" height="29.5" fill="#86a884"/><rect x="829.15" y="584.5" width="8.05" height="29.5" fill="#86a884"/><rect x="838.1" y="584.5" width="8.05" height="29.5" fill="#86a884"/><rect x="847.05" y="584.5" width="8.05" height="29.5" fill="#86a884"/><rect x="856" y="584.5" width="8.05" height="29.5" fill="#86a884"/><rect x="864.95" y="584.5" width="8.05" height="29.5" fill="#86a884"/><rect x="873.9" y="584.5" width="8.05" height="29.5" fill="#86a884"/><rect x="882.85" y="584.5" width="8.05" height="29.5" fill="#86a884"/><rect x="891.8" y="584.5" width="8.05" height="29.5" fill="#86a884"/><rect x="900.75" y="584.5" width="8.05" height="29.5" fill="#cdd5c3"/><rect x="909.7" y="584.5" width="8.05" height="29.5" fill="#cdd5c3"/><rect x="918.65" y="584.5" width="8.05" height="29.5" fill="#cdd5c3"/><rect x="927.6" y="584.5" width="8.05" height="29.5" fill="#cdd5c3"/><rect x="936.55" y="584.5" width="8.05" height="29.5" fill="#cdd5c3"/><rect x="945.5" y="584.5" width="8.05" height="29.5" fill="#cdd5c3"/><rect x="954.45" y="584.5" width="8.05" height="29.5" fill="#cdd5c3"/><rect x="963.4" y="584.5" width="8.05" height="29.5" fill="#cdd5c3"/><rect x="972.35" y="584.5" width="8.05" height="29.5" fill="#cdd5c3"/><rect x="981.3" y="584.5" width="8.05" height="29.5" fill="#cdd5c3"/><rect x="990.25" y="584.5" width="8.05" height="29.5" fill="#cdd5c3"/><rect x="999.2" y="584.5" width="8.05" height="29.5" fill="#cdd5c3"/><rect x="1008.15" y="584.5" width="8.05" height="29.5" fill="#cdd5c3"/><rect x="1017.1" y="584.5" width="8.05" height="29.5" fill="#cdd5c3"/><rect x="1026.05" y="584.5" width="8.05" height="29.5" fill="#cdd5c3"/><rect x="1035" y="584.5" width="8.05" height="29.5" fill="#cdd5c3"/><rect x="1043.95" y="584.5" width="8.05" height="29.5" fill="#cdd5c3"/><rect x="1052.9" y="584.5" width="8.05" height="29.5" fill="#cdd5c3"/><rect x="1061.85" y="584.5" width="8.05" height="29.5" fill="#cdd5c3"/><rect x="1070.8" y="584.5" width="8.05" height="29.5" fill="#cdd5c3"/><rect x="1079.75" y="584.5" width="8.05" height="29.5" fill="#cdd5c3"/><rect x="1088.7" y="584.5" width="8.05" height="29.5" fill="#a54657"/><rect x="1097.65" y="584.5" width="8.05" height="29.5" fill="#a54657"/><rect x="1106.6" y="584.5" width="8.05" height="29.5" fill="#a54657"/><rect x="1115.55" y="584.5" width="8.05" height="29.5" fill="#a54657"/><rect x="1124.5" y="584.5" width="8.05" height="29.5" fill="#a54657"/><rect x="1133.45" y="584.5" width="8.05" height="29.5" fill="#a54657"/><rect x="1142.4" y="584.5" width="8.05" height="29.5" fill="#a54657"/><rect x="1151.35" y="584.5" width="8.05" height="29.5" fill="#a54657"/><rect x="1160.3" y="584.5" width="8.05" height="29.5" fill="#a54657"/><rect x="1169.25" y="584.5" width="8.05" height="29.5" fill="#a54657"/><rect x="1178.2" y="584.5" width="8.05" height="29.5" fill="#a54657"/><rect x="1187.15" y="584.5" width="8.05" height="29.5" fill="#a54657"/><rect x="1196.1" y="584.5" width="8.05" height="29.5" fill="#a54657"/><rect x="1205.05" y="584.5" width="8.05" height="29.5" fill="#a54657"/><rect x="1214" y="584.5" width="8.05" height="29.5" fill="#a54657"/><rect x="1222.95" y="584.5" width="8.05" height="29.5" fill="#a54657"/><rect x="1231.9" y="584.5" width="8.05" height="29.5" fill="#a54657"/><rect x="1240.85" y="584.5" width="8.05" height="29.5" fill="#a54657"/><rect x="1249.8" y="584.5" width="8.05" height="29.5" fill="#a54657"/><rect x="1258.75" y="584.5" width="8.05" height="29.5" fill="#a54657"/><rect x="1267.7" y="584.5" width="8.05" height="29.5" fill="#a54657"/><rect x="1276.65" y="584.5" width="8.05" height="29.5" fill="#a54657"/><rect x="1285.6" y="584.5" width="8.05" height="29.5" fill="#a54657"/><rect x="1294.55" y="584.5" width="8.05" height="29.5" fill="#a54657"/><rect x="1303.5" y="584.5" width="8.05" height="29.5" fill="#a54657"/><rect x="1312.45" y="584.5" width="8.05" height="29.5" fill="#a54657"/><rect x="1321.4" y="584.5" width="8.05" height="29.5" fill="#a54657"/><rect x="1330.35" y="584.5" width="8.05" height="29.5" fill="#c28872"/><rect x="1339.3" y="584.5" width="8.05" height="29.5" fill="#dbc4bd"/><rect x="1348.25" y="584.5" width="8.05" height="29.5" fill="#dbc4bd"/><rect x="1357.2" y="584.5" width="8.05" height="29.5" fill="#dbc4bd"/><rect x="1366.15" y="584.5" width="8.05" height="29.5" fill="#dbc4bd"/><rect x="1375.1" y="584.5" width="8.05" height="29.5" fill="#dbc4bd"/><rect x="1384.05" y="584.5" width="8.05" height="29.5" fill="#dbc4bd"/><rect x="1393" y="584.5" width="8.05" height="29.5" fill="#dbc4bd"/><rect x="1401.95" y="584.5" width="8.05" height="29.5" fill="#dbc4bd"/><rect x="1410.9" y="584.5" width="8.05" height="29.5" fill="#dbc4bd"/><rect x="1419.85" y="584.5" width="8.05" height="29.5" fill="#dbc4bd"/><rect x="1428.8" y="584.5" width="8.05" height="29.5" fill="#dbc4bd"/><rect x="1437.75" y="584.5" width="8.05" height="29.5" fill="#dbc4bd"/><rect x="1446.7" y="584.5" width="8.05" height="29.5" fill="#dbc4bd"/><rect x="1455.65" y="584.5" width="8.05" height="29.5" fill="#dbc4bd"/><rect x="1464.6" y="584.5" width="8.05" height="29.5" fill="#dbc4bd"/><rect x="1473.55" y="584.5" width="8.05" height="29.5" fill="#dbc4bd"/><rect x="1482.5" y="584.5" width="8.05" height="29.5" fill="#dbc4bd"/><rect x="1491.45" y="584.5" width="8.05" height="29.5" fill="#dbc4bd"/><rect x="1500.4" y="584.5" width="8.05" height="29.5" fill="#dbc4bd"/><rect x="1509.35" y="584.5" width="8.05" height="29.5" fill="#dbc4bd"/><rect x="1518.3" y="584.5" width="8.05" height="29.5" fill="#dbc4bd"/><rect x="1527.25" y="584.5" width="8.05" height="29.5" fill="#dbc4bd"/><rect x="1536.2" y="584.5" width="8.05" height="29.5" fill="#dbc4bd"/><rect x="1545.15" y="584.5" width="8.05" height="29.5" fill="#dbc4bd"/><rect x="1554.1" y="584.5" width="8.05" height="29.5" fill="#dbc4bd"/><rect x="1563.05" y="584.5" width="8.05" height="29.5" fill="#dbc4bd"/><rect x="1572" y="584.5" width="8.05" height="29.5" fill="#dbc4bd"/><rect x="1580.95" y="584.5" width="8.05" height="29.5" fill="#dbc4bd"/><rect x="1589.9" y="584.5" width="8.05" height="29.5" fill="#dbc4bd"/><rect x="1598.85" y="584.5" width="8.05" height="29.5" fill="#dbc4bd"/>
<rect x="792.5" y="583.6" width="815.7" height="31.2" fill="none" stroke="#000" stroke-width="2.6"/>
<rect x="792.9" y="635.6" width="9.3" height="30.13" fill="#e88e48"/><rect x="801.9" y="635.6" width="9.3" height="30.13" fill="#a5bbd2"/><rect x="810.9" y="635.6" width="9.3" height="30.13" fill="#f0c59e"/><rect x="819.9" y="635.6" width="9.3" height="30.13" fill="#eba772"/><rect x="828.9" y="635.6" width="9.3" height="30.13" fill="#f5dcc5"/><rect x="837.9" y="635.6" width="9.3" height="30.13" fill="#eba772"/><rect x="846.9" y="635.6" width="9.3" height="30.13" fill="#f0c59e"/><rect x="855.9" y="635.6" width="9.3" height="30.13" fill="#f0c59e"/><rect x="864.9" y="635.6" width="9.3" height="30.13" fill="#a5bbd2"/><rect x="873.9" y="635.6" width="9.3" height="30.13" fill="#f5dcc5"/><rect x="882.9" y="635.6" width="9.3" height="30.13" fill="#faefe3"/><rect x="891.9" y="635.6" width="9.3" height="30.13" fill="#eaeff5"/><rect x="900.9" y="635.6" width="9.3" height="30.13" fill="#faefe3"/><rect x="909.9" y="635.6" width="9.3" height="30.13" fill="#fefcf9"/><rect x="918.9" y="635.6" width="9.3" height="30.13" fill="#fefcf9"/><rect x="927.9" y="635.6" width="9.3" height="30.13" fill="#f5dcc5"/><rect x="936.9" y="635.6" width="9.3" height="30.13" fill="#f0c59e"/><rect x="945.9" y="635.6" width="9.3" height="30.13" fill="#f0c59e"/><rect x="954.9" y="635.6" width="9.3" height="30.13" fill="#f0c59e"/><rect x="963.9" y="635.6" width="9.3" height="30.13" fill="#f5dcc5"/><rect x="972.9" y="635.6" width="9.3" height="30.13" fill="#fefcf9"/><rect x="981.9" y="635.6" width="9.3" height="30.13" fill="#f0c59e"/><rect x="990.9" y="635.6" width="9.3" height="30.13" fill="#f5dcc5"/><rect x="999.9" y="635.6" width="9.3" height="30.13" fill="#eba772"/><rect x="1008.9" y="635.6" width="9.3" height="30.13" fill="#faefe3"/><rect x="1017.9" y="635.6" width="9.3" height="30.13" fill="#f0c59e"/><rect x="1026.9" y="635.6" width="9.3" height="30.13" fill="#f5dcc5"/><rect x="1035.9" y="635.6" width="9.3" height="30.13" fill="#eba772"/><rect x="1044.9" y="635.6" width="9.3" height="30.13" fill="#faefe3"/><rect x="1053.9" y="635.6" width="9.3" height="30.13" fill="#faefe3"/><rect x="1062.9" y="635.6" width="9.3" height="30.13" fill="#e88e48"/><rect x="1071.9" y="635.6" width="9.3" height="30.13" fill="#f5dcc5"/><rect x="1080.9" y="635.6" width="9.3" height="30.13" fill="#eaeff5"/><rect x="1089.9" y="635.6" width="9.3" height="30.13" fill="#faefe3"/><rect x="1098.9" y="635.6" width="9.3" height="30.13" fill="#f0c59e"/><rect x="1107.9" y="635.6" width="9.3" height="30.13" fill="#f0c59e"/><rect x="1116.9" y="635.6" width="9.3" height="30.13" fill="#f0c59e"/><rect x="1125.9" y="635.6" width="9.3" height="30.13" fill="#faefe3"/><rect x="1134.9" y="635.6" width="9.3" height="30.13" fill="#f0c59e"/><rect x="1143.9" y="635.6" width="9.3" height="30.13" fill="#f0c59e"/><rect x="1152.9" y="635.6" width="9.3" height="30.13" fill="#f5dcc5"/><rect x="1161.9" y="635.6" width="9.3" height="30.13" fill="#f5dcc5"/><rect x="1170.9" y="635.6" width="9.3" height="30.13" fill="#faefe3"/><rect x="1179.9" y="635.6" width="9.3" height="30.13" fill="#f0c59e"/><rect x="1188.9" y="635.6" width="9.3" height="30.13" fill="#f0c59e"/><rect x="1197.9" y="635.6" width="9.3" height="30.13" fill="#f0c59e"/><rect x="1206.9" y="635.6" width="9.3" height="30.13" fill="#eba772"/><rect x="1215.9" y="635.6" width="9.3" height="30.13" fill="#f0c59e"/><rect x="1224.9" y="635.6" width="9.3" height="30.13" fill="#eba772"/><rect x="1233.9" y="635.6" width="9.3" height="30.13" fill="#f0c59e"/><rect x="1242.9" y="635.6" width="9.3" height="30.13" fill="#e88e48"/><rect x="1251.9" y="635.6" width="9.3" height="30.13" fill="#eba772"/><rect x="1260.9" y="635.6" width="9.3" height="30.13" fill="#f5dcc5"/><rect x="1269.9" y="635.6" width="9.3" height="30.13" fill="#faefe3"/><rect x="1278.9" y="635.6" width="9.3" height="30.13" fill="#f0c59e"/><rect x="1287.9" y="635.6" width="9.3" height="30.13" fill="#eba772"/><rect x="1296.9" y="635.6" width="9.3" height="30.13" fill="#f5dcc5"/><rect x="1305.9" y="635.6" width="9.3" height="30.13" fill="#fefcf9"/><rect x="1314.9" y="635.6" width="9.3" height="30.13" fill="#faefe3"/><rect x="1323.9" y="635.6" width="9.3" height="30.13" fill="#eaeff5"/><rect x="1332.9" y="635.6" width="9.3" height="30.13" fill="#f0c59e"/><rect x="1341.9" y="635.6" width="9.3" height="30.13" fill="#f0c59e"/><rect x="1350.9" y="635.6" width="9.3" height="30.13" fill="#f0c59e"/><rect x="1359.9" y="635.6" width="9.3" height="30.13" fill="#f0c59e"/><rect x="1368.9" y="635.6" width="9.3" height="30.13" fill="#f0c59e"/><rect x="1377.9" y="635.6" width="9.3" height="30.13" fill="#f0c59e"/><rect x="1386.9" y="635.6" width="9.3" height="30.13" fill="#f0c59e"/><rect x="1395.9" y="635.6" width="9.3" height="30.13" fill="#f0c59e"/><rect x="1404.9" y="635.6" width="9.3" height="30.13" fill="#f5dcc5"/><rect x="1413.9" y="635.6" width="9.3" height="30.13" fill="#f0c59e"/><rect x="1422.9" y="635.6" width="9.3" height="30.13" fill="#f5dcc5"/><rect x="1431.9" y="635.6" width="9.3" height="30.13" fill="#f0c59e"/><rect x="1440.9" y="635.6" width="9.3" height="30.13" fill="#f5dcc5"/><rect x="1449.9" y="635.6" width="9.3" height="30.13" fill="#f0c59e"/><rect x="1458.9" y="635.6" width="9.3" height="30.13" fill="#f5dcc5"/><rect x="1467.9" y="635.6" width="9.3" height="30.13" fill="#f5dcc5"/><rect x="1476.9" y="635.6" width="9.3" height="30.13" fill="#f5dcc5"/><rect x="1485.9" y="635.6" width="9.3" height="30.13" fill="#f0c59e"/><rect x="1494.9" y="635.6" width="9.3" height="30.13" fill="#f5dcc5"/><rect x="1503.9" y="635.6" width="9.3" height="30.13" fill="#f0c59e"/><rect x="1512.9" y="635.6" width="9.3" height="30.13" fill="#f0c59e"/><rect x="1521.9" y="635.6" width="9.3" height="30.13" fill="#faefe3"/><rect x="1530.9" y="635.6" width="9.3" height="30.13" fill="#f0c59e"/><rect x="1539.9" y="635.6" width="9.3" height="30.13" fill="#f0c59e"/><rect x="1548.9" y="635.6" width="9.3" height="30.13" fill="#f0c59e"/><rect x="1557.9" y="635.6" width="9.3" height="30.13" fill="#f5dcc5"/><rect x="1566.9" y="635.6" width="9.3" height="30.13" fill="#a5bbd2"/><rect x="1575.9" y="635.6" width="9.3" height="30.13" fill="#f5dcc5"/><rect x="1584.9" y="635.6" width="9.3" height="30.13" fill="#fefcf9"/><rect x="1593.9" y="635.6" width="9.3" height="30.13" fill="#f0c59e"/><rect x="1602.9" y="635.6" width="9.3" height="30.13" fill="#f5dcc5"/><rect x="792.9" y="665.43" width="9.3" height="30.13" fill="#fefcf9"/><rect x="801.9" y="665.43" width="9.3" height="30.13" fill="#f5dcc5"/><rect x="810.9" y="665.43" width="9.3" height="30.13" fill="#eaeff5"/><rect x="819.9" y="665.43" width="9.3" height="30.13" fill="#f5dcc5"/><rect x="828.9" y="665.43" width="9.3" height="30.13" fill="#faefe3"/><rect x="837.9" y="665.43" width="9.3" height="30.13" fill="#eba772"/><rect x="846.9" y="665.43" width="9.3" height="30.13" fill="#eba772"/><rect x="855.9" y="665.43" width="9.3" height="30.13" fill="#e88e48"/><rect x="864.9" y="665.43" width="9.3" height="30.13" fill="#faefe3"/><rect x="873.9" y="665.43" width="9.3" height="30.13" fill="#f5dcc5"/><rect x="882.9" y="665.43" width="9.3" height="30.13" fill="#f0c59e"/><rect x="891.9" y="665.43" width="9.3" height="30.13" fill="#fefcf9"/><rect x="900.9" y="665.43" width="9.3" height="30.13" fill="#eba772"/><rect x="909.9" y="665.43" width="9.3" height="30.13" fill="#eba772"/><rect x="918.9" y="665.43" width="9.3" height="30.13" fill="#eba772"/><rect x="927.9" y="665.43" width="9.3" height="30.13" fill="#eba772"/><rect x="936.9" y="665.43" width="9.3" height="30.13" fill="#f5dcc5"/><rect x="945.9" y="665.43" width="9.3" height="30.13" fill="#eba772"/><rect x="954.9" y="665.43" width="9.3" height="30.13" fill="#f0c59e"/><rect x="963.9" y="665.43" width="9.3" height="30.13" fill="#eba772"/><rect x="972.9" y="665.43" width="9.3" height="30.13" fill="#eba772"/><rect x="981.9" y="665.43" width="9.3" height="30.13" fill="#e88e48"/><rect x="990.9" y="665.43" width="9.3" height="30.13" fill="#eba772"/><rect x="999.9" y="665.43" width="9.3" height="30.13" fill="#f0c59e"/><rect x="1008.9" y="665.43" width="9.3" height="30.13" fill="#f0c59e"/><rect x="1017.9" y="665.43" width="9.3" height="30.13" fill="#cbd9e6"/><rect x="1026.9" y="665.43" width="9.3" height="30.13" fill="#e88e48"/><rect x="1035.9" y="665.43" width="9.3" height="30.13" fill="#eba772"/><rect x="1044.9" y="665.43" width="9.3" height="30.13" fill="#f0c59e"/><rect x="1053.9" y="665.43" width="9.3" height="30.13" fill="#f5dcc5"/><rect x="1062.9" y="665.43" width="9.3" height="30.13" fill="#f5dcc5"/><rect x="1071.9" y="665.43" width="9.3" height="30.13" fill="#f0c59e"/><rect x="1080.9" y="665.43" width="9.3" height="30.13" fill="#eba772"/><rect x="1089.9" y="665.43" width="9.3" height="30.13" fill="#e88e48"/><rect x="1098.9" y="665.43" width="9.3" height="30.13" fill="#eba772"/><rect x="1107.9" y="665.43" width="9.3" height="30.13" fill="#f5dcc5"/><rect x="1116.9" y="665.43" width="9.3" height="30.13" fill="#eba772"/><rect x="1125.9" y="665.43" width="9.3" height="30.13" fill="#f5dcc5"/><rect x="1134.9" y="665.43" width="9.3" height="30.13" fill="#e88e48"/><rect x="1143.9" y="665.43" width="9.3" height="30.13" fill="#f0c59e"/><rect x="1152.9" y="665.43" width="9.3" height="30.13" fill="#f0c59e"/><rect x="1161.9" y="665.43" width="9.3" height="30.13" fill="#f5dcc5"/><rect x="1170.9" y="665.43" width="9.3" height="30.13" fill="#faefe3"/><rect x="1179.9" y="665.43" width="9.3" height="30.13" fill="#f5dcc5"/><rect x="1188.9" y="665.43" width="9.3" height="30.13" fill="#eba772"/><rect x="1197.9" y="665.43" width="9.3" height="30.13" fill="#eba772"/><rect x="1206.9" y="665.43" width="9.3" height="30.13" fill="#f5dcc5"/><rect x="1215.9" y="665.43" width="9.3" height="30.13" fill="#eba772"/><rect x="1224.9" y="665.43" width="9.3" height="30.13" fill="#faefe3"/><rect x="1233.9" y="665.43" width="9.3" height="30.13" fill="#eba772"/><rect x="1242.9" y="665.43" width="9.3" height="30.13" fill="#f0c59e"/><rect x="1251.9" y="665.43" width="9.3" height="30.13" fill="#faefe3"/><rect x="1260.9" y="665.43" width="9.3" height="30.13" fill="#eba772"/><rect x="1269.9" y="665.43" width="9.3" height="30.13" fill="#f5dcc5"/><rect x="1278.9" y="665.43" width="9.3" height="30.13" fill="#e88e48"/><rect x="1287.9" y="665.43" width="9.3" height="30.13" fill="#eba772"/><rect x="1296.9" y="665.43" width="9.3" height="30.13" fill="#eba772"/><rect x="1305.9" y="665.43" width="9.3" height="30.13" fill="#e88e48"/><rect x="1314.9" y="665.43" width="9.3" height="30.13" fill="#e88e48"/><rect x="1323.9" y="665.43" width="9.3" height="30.13" fill="#faefe3"/><rect x="1332.9" y="665.43" width="9.3" height="30.13" fill="#e88e48"/><rect x="1341.9" y="665.43" width="9.3" height="30.13" fill="#a5bbd2"/><rect x="1350.9" y="665.43" width="9.3" height="30.13" fill="#f0c59e"/><rect x="1359.9" y="665.43" width="9.3" height="30.13" fill="#f0c59e"/><rect x="1368.9" y="665.43" width="9.3" height="30.13" fill="#f0c59e"/><rect x="1377.9" y="665.43" width="9.3" height="30.13" fill="#eba772"/><rect x="1386.9" y="665.43" width="9.3" height="30.13" fill="#f0c59e"/><rect x="1395.9" y="665.43" width="9.3" height="30.13" fill="#f0c59e"/><rect x="1404.9" y="665.43" width="9.3" height="30.13" fill="#f0c59e"/><rect x="1413.9" y="665.43" width="9.3" height="30.13" fill="#f0c59e"/><rect x="1422.9" y="665.43" width="9.3" height="30.13" fill="#eba772"/><rect x="1431.9" y="665.43" width="9.3" height="30.13" fill="#f0c59e"/><rect x="1440.9" y="665.43" width="9.3" height="30.13" fill="#f0c59e"/><rect x="1449.9" y="665.43" width="9.3" height="30.13" fill="#f0c59e"/><rect x="1458.9" y="665.43" width="9.3" height="30.13" fill="#f0c59e"/><rect x="1467.9" y="665.43" width="9.3" height="30.13" fill="#f0c59e"/><rect x="1476.9" y="665.43" width="9.3" height="30.13" fill="#f0c59e"/><rect x="1485.9" y="665.43" width="9.3" height="30.13" fill="#f0c59e"/><rect x="1494.9" y="665.43" width="9.3" height="30.13" fill="#eba772"/><rect x="1503.9" y="665.43" width="9.3" height="30.13" fill="#f5dcc5"/><rect x="1512.9" y="665.43" width="9.3" height="30.13" fill="#f0c59e"/><rect x="1521.9" y="665.43" width="9.3" height="30.13" fill="#f0c59e"/><rect x="1530.9" y="665.43" width="9.3" height="30.13" fill="#f0c59e"/><rect x="1539.9" y="665.43" width="9.3" height="30.13" fill="#faefe3"/><rect x="1548.9" y="665.43" width="9.3" height="30.13" fill="#f0c59e"/><rect x="1557.9" y="665.43" width="9.3" height="30.13" fill="#f0c59e"/><rect x="1566.9" y="665.43" width="9.3" height="30.13" fill="#eaeff5"/><rect x="1575.9" y="665.43" width="9.3" height="30.13" fill="#f0c59e"/><rect x="1584.9" y="665.43" width="9.3" height="30.13" fill="#fefcf9"/><rect x="1593.9" y="665.43" width="9.3" height="30.13" fill="#f5dcc5"/><rect x="1602.9" y="665.43" width="9.3" height="30.13" fill="#f5dcc5"/><rect x="792.9" y="695.27" width="9.3" height="30.13" fill="#faefe3"/><rect x="801.9" y="695.27" width="9.3" height="30.13" fill="#faefe3"/><rect x="810.9" y="695.27" width="9.3" height="30.13" fill="#eba772"/><rect x="819.9" y="695.27" width="9.3" height="30.13" fill="#f0c59e"/><rect x="828.9" y="695.27" width="9.3" height="30.13" fill="#eaeff5"/><rect x="837.9" y="695.27" width="9.3" height="30.13" fill="#fefcf9"/><rect x="846.9" y="695.27" width="9.3" height="30.13" fill="#faefe3"/><rect x="855.9" y="695.27" width="9.3" height="30.13" fill="#f5dcc5"/><rect x="864.9" y="695.27" width="9.3" height="30.13" fill="#faefe3"/><rect x="873.9" y="695.27" width="9.3" height="30.13" fill="#e88e48"/><rect x="882.9" y="695.27" width="9.3" height="30.13" fill="#f0c59e"/><rect x="891.9" y="695.27" width="9.3" height="30.13" fill="#f5dcc5"/><rect x="900.9" y="695.27" width="9.3" height="30.13" fill="#f5dcc5"/><rect x="909.9" y="695.27" width="9.3" height="30.13" fill="#f0c59e"/><rect x="918.9" y="695.27" width="9.3" height="30.13" fill="#f5dcc5"/><rect x="927.9" y="695.27" width="9.3" height="30.13" fill="#f5dcc5"/><rect x="936.9" y="695.27" width="9.3" height="30.13" fill="#f5dcc5"/><rect x="945.9" y="695.27" width="9.3" height="30.13" fill="#faefe3"/><rect x="954.9" y="695.27" width="9.3" height="30.13" fill="#f0c59e"/><rect x="963.9" y="695.27" width="9.3" height="30.13" fill="#faefe3"/><rect x="972.9" y="695.27" width="9.3" height="30.13" fill="#faefe3"/><rect x="981.9" y="695.27" width="9.3" height="30.13" fill="#f0c59e"/><rect x="990.9" y="695.27" width="9.3" height="30.13" fill="#eaeff5"/><rect x="999.9" y="695.27" width="9.3" height="30.13" fill="#f0c59e"/><rect x="1008.9" y="695.27" width="9.3" height="30.13" fill="#f0c59e"/><rect x="1017.9" y="695.27" width="9.3" height="30.13" fill="#a5bbd2"/><rect x="1026.9" y="695.27" width="9.3" height="30.13" fill="#cbd9e6"/><rect x="1035.9" y="695.27" width="9.3" height="30.13" fill="#faefe3"/><rect x="1044.9" y="695.27" width="9.3" height="30.13" fill="#f0c59e"/><rect x="1053.9" y="695.27" width="9.3" height="30.13" fill="#eba772"/><rect x="1062.9" y="695.27" width="9.3" height="30.13" fill="#f5dcc5"/><rect x="1071.9" y="695.27" width="9.3" height="30.13" fill="#e88e48"/><rect x="1080.9" y="695.27" width="9.3" height="30.13" fill="#e88e48"/><rect x="1089.9" y="695.27" width="9.3" height="30.13" fill="#faefe3"/><rect x="1098.9" y="695.27" width="9.3" height="30.13" fill="#f5dcc5"/><rect x="1107.9" y="695.27" width="9.3" height="30.13" fill="#fefcf9"/><rect x="1116.9" y="695.27" width="9.3" height="30.13" fill="#f5dcc5"/><rect x="1125.9" y="695.27" width="9.3" height="30.13" fill="#f5dcc5"/><rect x="1134.9" y="695.27" width="9.3" height="30.13" fill="#f5dcc5"/><rect x="1143.9" y="695.27" width="9.3" height="30.13" fill="#f0c59e"/><rect x="1152.9" y="695.27" width="9.3" height="30.13" fill="#faefe3"/><rect x="1161.9" y="695.27" width="9.3" height="30.13" fill="#f5dcc5"/><rect x="1170.9" y="695.27" width="9.3" height="30.13" fill="#f5dcc5"/><rect x="1179.9" y="695.27" width="9.3" height="30.13" fill="#f0c59e"/><rect x="1188.9" y="695.27" width="9.3" height="30.13" fill="#faefe3"/><rect x="1197.9" y="695.27" width="9.3" height="30.13" fill="#faefe3"/><rect x="1206.9" y="695.27" width="9.3" height="30.13" fill="#f5dcc5"/><rect x="1215.9" y="695.27" width="9.3" height="30.13" fill="#f0c59e"/><rect x="1224.9" y="695.27" width="9.3" height="30.13" fill="#faefe3"/><rect x="1233.9" y="695.27" width="9.3" height="30.13" fill="#f5dcc5"/><rect x="1242.9" y="695.27" width="9.3" height="30.13" fill="#f5dcc5"/><rect x="1251.9" y="695.27" width="9.3" height="30.13" fill="#f0c59e"/><rect x="1260.9" y="695.27" width="9.3" height="30.13" fill="#f0c59e"/><rect x="1269.9" y="695.27" width="9.3" height="30.13" fill="#84a0c0"/><rect x="1278.9" y="695.27" width="9.3" height="30.13" fill="#cbd9e6"/><rect x="1287.9" y="695.27" width="9.3" height="30.13" fill="#faefe3"/><rect x="1296.9" y="695.27" width="9.3" height="30.13" fill="#f5dcc5"/><rect x="1305.9" y="695.27" width="9.3" height="30.13" fill="#fefcf9"/><rect x="1314.9" y="695.27" width="9.3" height="30.13" fill="#a5bbd2"/><rect x="1323.9" y="695.27" width="9.3" height="30.13" fill="#f0c59e"/><rect x="1332.9" y="695.27" width="9.3" height="30.13" fill="#fefcf9"/><rect x="1341.9" y="695.27" width="9.3" height="30.13" fill="#f5dcc5"/><rect x="1350.9" y="695.27" width="9.3" height="30.13" fill="#f0c59e"/><rect x="1359.9" y="695.27" width="9.3" height="30.13" fill="#f5dcc5"/><rect x="1368.9" y="695.27" width="9.3" height="30.13" fill="#f5dcc5"/><rect x="1377.9" y="695.27" width="9.3" height="30.13" fill="#f5dcc5"/><rect x="1386.9" y="695.27" width="9.3" height="30.13" fill="#f5dcc5"/><rect x="1395.9" y="695.27" width="9.3" height="30.13" fill="#f5dcc5"/><rect x="1404.9" y="695.27" width="9.3" height="30.13" fill="#f5dcc5"/><rect x="1413.9" y="695.27" width="9.3" height="30.13" fill="#f5dcc5"/><rect x="1422.9" y="695.27" width="9.3" height="30.13" fill="#faefe3"/><rect x="1431.9" y="695.27" width="9.3" height="30.13" fill="#f5dcc5"/><rect x="1440.9" y="695.27" width="9.3" height="30.13" fill="#f5dcc5"/><rect x="1449.9" y="695.27" width="9.3" height="30.13" fill="#f5dcc5"/><rect x="1458.9" y="695.27" width="9.3" height="30.13" fill="#f5dcc5"/><rect x="1467.9" y="695.27" width="9.3" height="30.13" fill="#f0c59e"/><rect x="1476.9" y="695.27" width="9.3" height="30.13" fill="#f0c59e"/><rect x="1485.9" y="695.27" width="9.3" height="30.13" fill="#f0c59e"/><rect x="1494.9" y="695.27" width="9.3" height="30.13" fill="#cbd9e6"/><rect x="1503.9" y="695.27" width="9.3" height="30.13" fill="#f0c59e"/><rect x="1512.9" y="695.27" width="9.3" height="30.13" fill="#f5dcc5"/><rect x="1521.9" y="695.27" width="9.3" height="30.13" fill="#f5dcc5"/><rect x="1530.9" y="695.27" width="9.3" height="30.13" fill="#f0c59e"/><rect x="1539.9" y="695.27" width="9.3" height="30.13" fill="#f0c59e"/><rect x="1548.9" y="695.27" width="9.3" height="30.13" fill="#f0c59e"/><rect x="1557.9" y="695.27" width="9.3" height="30.13" fill="#f0c59e"/><rect x="1566.9" y="695.27" width="9.3" height="30.13" fill="#f0c59e"/><rect x="1575.9" y="695.27" width="9.3" height="30.13" fill="#f5dcc5"/><rect x="1584.9" y="695.27" width="9.3" height="30.13" fill="#f0c59e"/><rect x="1593.9" y="695.27" width="9.3" height="30.13" fill="#f0c59e"/><rect x="1602.9" y="695.27" width="9.3" height="30.13" fill="#f0c59e"/><rect x="792.9" y="725.1" width="9.3" height="30.13" fill="#f0c59e"/><rect x="801.9" y="725.1" width="9.3" height="30.13" fill="#f0c59e"/><rect x="810.9" y="725.1" width="9.3" height="30.13" fill="#f0c59e"/><rect x="819.9" y="725.1" width="9.3" height="30.13" fill="#f5dcc5"/><rect x="828.9" y="725.1" width="9.3" height="30.13" fill="#f5dcc5"/><rect x="837.9" y="725.1" width="9.3" height="30.13" fill="#fefcf9"/><rect x="846.9" y="725.1" width="9.3" height="30.13" fill="#faefe3"/><rect x="855.9" y="725.1" width="9.3" height="30.13" fill="#fefcf9"/><rect x="864.9" y="725.1" width="9.3" height="30.13" fill="#f0c59e"/><rect x="873.9" y="725.1" width="9.3" height="30.13" fill="#f0c59e"/><rect x="882.9" y="725.1" width="9.3" height="30.13" fill="#f0c59e"/><rect x="891.9" y="725.1" width="9.3" height="30.13" fill="#f0c59e"/><rect x="900.9" y="725.1" width="9.3" height="30.13" fill="#f0c59e"/><rect x="909.9" y="725.1" width="9.3" height="30.13" fill="#faefe3"/><rect x="918.9" y="725.1" width="9.3" height="30.13" fill="#fefcf9"/><rect x="927.9" y="725.1" width="9.3" height="30.13" fill="#faefe3"/><rect x="936.9" y="725.1" width="9.3" height="30.13" fill="#f0c59e"/><rect x="945.9" y="725.1" width="9.3" height="30.13" fill="#faefe3"/><rect x="954.9" y="725.1" width="9.3" height="30.13" fill="#f0c59e"/><rect x="963.9" y="725.1" width="9.3" height="30.13" fill="#faefe3"/><rect x="972.9" y="725.1" width="9.3" height="30.13" fill="#f0c59e"/><rect x="981.9" y="725.1" width="9.3" height="30.13" fill="#faefe3"/><rect x="990.9" y="725.1" width="9.3" height="30.13" fill="#e88e48"/><rect x="999.9" y="725.1" width="9.3" height="30.13" fill="#f0c59e"/><rect x="1008.9" y="725.1" width="9.3" height="30.13" fill="#f0c59e"/><rect x="1017.9" y="725.1" width="9.3" height="30.13" fill="#eba772"/><rect x="1026.9" y="725.1" width="9.3" height="30.13" fill="#f5dcc5"/><rect x="1035.9" y="725.1" width="9.3" height="30.13" fill="#fefcf9"/><rect x="1044.9" y="725.1" width="9.3" height="30.13" fill="#f0c59e"/><rect x="1053.9" y="725.1" width="9.3" height="30.13" fill="#f5dcc5"/><rect x="1062.9" y="725.1" width="9.3" height="30.13" fill="#f5dcc5"/><rect x="1071.9" y="725.1" width="9.3" height="30.13" fill="#cbd9e6"/><rect x="1080.9" y="725.1" width="9.3" height="30.13" fill="#fefcf9"/><rect x="1089.9" y="725.1" width="9.3" height="30.13" fill="#f5dcc5"/><rect x="1098.9" y="725.1" width="9.3" height="30.13" fill="#f5dcc5"/><rect x="1107.9" y="725.1" width="9.3" height="30.13" fill="#f0c59e"/><rect x="1116.9" y="725.1" width="9.3" height="30.13" fill="#faefe3"/><rect x="1125.9" y="725.1" width="9.3" height="30.13" fill="#fefcf9"/><rect x="1134.9" y="725.1" width="9.3" height="30.13" fill="#a5bbd2"/><rect x="1143.9" y="725.1" width="9.3" height="30.13" fill="#faefe3"/><rect x="1152.9" y="725.1" width="9.3" height="30.13" fill="#f0c59e"/><rect x="1161.9" y="725.1" width="9.3" height="30.13" fill="#f0c59e"/><rect x="1170.9" y="725.1" width="9.3" height="30.13" fill="#e88e48"/><rect x="1179.9" y="725.1" width="9.3" height="30.13" fill="#f0c59e"/><rect x="1188.9" y="725.1" width="9.3" height="30.13" fill="#f0c59e"/><rect x="1197.9" y="725.1" width="9.3" height="30.13" fill="#fefcf9"/><rect x="1206.9" y="725.1" width="9.3" height="30.13" fill="#cbd9e6"/><rect x="1215.9" y="725.1" width="9.3" height="30.13" fill="#fefcf9"/><rect x="1224.9" y="725.1" width="9.3" height="30.13" fill="#f0c59e"/><rect x="1233.9" y="725.1" width="9.3" height="30.13" fill="#f5dcc5"/><rect x="1242.9" y="725.1" width="9.3" height="30.13" fill="#fefcf9"/><rect x="1251.9" y="725.1" width="9.3" height="30.13" fill="#fefcf9"/><rect x="1260.9" y="725.1" width="9.3" height="30.13" fill="#f5dcc5"/><rect x="1269.9" y="725.1" width="9.3" height="30.13" fill="#f5dcc5"/><rect x="1278.9" y="725.1" width="9.3" height="30.13" fill="#faefe3"/><rect x="1287.9" y="725.1" width="9.3" height="30.13" fill="#eaeff5"/><rect x="1296.9" y="725.1" width="9.3" height="30.13" fill="#f0c59e"/><rect x="1305.9" y="725.1" width="9.3" height="30.13" fill="#eba772"/><rect x="1314.9" y="725.1" width="9.3" height="30.13" fill="#faefe3"/><rect x="1323.9" y="725.1" width="9.3" height="30.13" fill="#f0c59e"/><rect x="1332.9" y="725.1" width="9.3" height="30.13" fill="#fefcf9"/><rect x="1341.9" y="725.1" width="9.3" height="30.13" fill="#f5dcc5"/><rect x="1350.9" y="725.1" width="9.3" height="30.13" fill="#fefcf9"/><rect x="1359.9" y="725.1" width="9.3" height="30.13" fill="#f5dcc5"/><rect x="1368.9" y="725.1" width="9.3" height="30.13" fill="#eba772"/><rect x="1377.9" y="725.1" width="9.3" height="30.13" fill="#f5dcc5"/><rect x="1386.9" y="725.1" width="9.3" height="30.13" fill="#f5dcc5"/><rect x="1395.9" y="725.1" width="9.3" height="30.13" fill="#f5dcc5"/><rect x="1404.9" y="725.1" width="9.3" height="30.13" fill="#f5dcc5"/><rect x="1413.9" y="725.1" width="9.3" height="30.13" fill="#faefe3"/><rect x="1422.9" y="725.1" width="9.3" height="30.13" fill="#faefe3"/><rect x="1431.9" y="725.1" width="9.3" height="30.13" fill="#f5dcc5"/><rect x="1440.9" y="725.1" width="9.3" height="30.13" fill="#f5dcc5"/><rect x="1449.9" y="725.1" width="9.3" height="30.13" fill="#f5dcc5"/><rect x="1458.9" y="725.1" width="9.3" height="30.13" fill="#f0c59e"/><rect x="1467.9" y="725.1" width="9.3" height="30.13" fill="#f5dcc5"/><rect x="1476.9" y="725.1" width="9.3" height="30.13" fill="#f5dcc5"/><rect x="1485.9" y="725.1" width="9.3" height="30.13" fill="#f5dcc5"/><rect x="1494.9" y="725.1" width="9.3" height="30.13" fill="#f0c59e"/><rect x="1503.9" y="725.1" width="9.3" height="30.13" fill="#f0c59e"/><rect x="1512.9" y="725.1" width="9.3" height="30.13" fill="#f0c59e"/><rect x="1521.9" y="725.1" width="9.3" height="30.13" fill="#f5dcc5"/><rect x="1530.9" y="725.1" width="9.3" height="30.13" fill="#f5dcc5"/><rect x="1539.9" y="725.1" width="9.3" height="30.13" fill="#f5dcc5"/><rect x="1548.9" y="725.1" width="9.3" height="30.13" fill="#f5dcc5"/><rect x="1557.9" y="725.1" width="9.3" height="30.13" fill="#f5dcc5"/><rect x="1566.9" y="725.1" width="9.3" height="30.13" fill="#f0c59e"/><rect x="1575.9" y="725.1" width="9.3" height="30.13" fill="#f5dcc5"/><rect x="1584.9" y="725.1" width="9.3" height="30.13" fill="#f0c59e"/><rect x="1593.9" y="725.1" width="9.3" height="30.13" fill="#f5dcc5"/><rect x="1602.9" y="725.1" width="9.3" height="30.13" fill="#f5dcc5"/><rect x="792.9" y="754.93" width="9.3" height="30.13" fill="#fefcf9"/><rect x="801.9" y="754.93" width="9.3" height="30.13" fill="#f0c59e"/><rect x="810.9" y="754.93" width="9.3" height="30.13" fill="#f0c59e"/><rect x="819.9" y="754.93" width="9.3" height="30.13" fill="#a5bbd2"/><rect x="828.9" y="754.93" width="9.3" height="30.13" fill="#e88e48"/><rect x="837.9" y="754.93" width="9.3" height="30.13" fill="#f5dcc5"/><rect x="846.9" y="754.93" width="9.3" height="30.13" fill="#f5dcc5"/><rect x="855.9" y="754.93" width="9.3" height="30.13" fill="#f0c59e"/><rect x="864.9" y="754.93" width="9.3" height="30.13" fill="#f0c59e"/><rect x="873.9" y="754.93" width="9.3" height="30.13" fill="#fefcf9"/><rect x="882.9" y="754.93" width="9.3" height="30.13" fill="#f0c59e"/><rect x="891.9" y="754.93" width="9.3" height="30.13" fill="#f5dcc5"/><rect x="900.9" y="754.93" width="9.3" height="30.13" fill="#eba772"/><rect x="909.9" y="754.93" width="9.3" height="30.13" fill="#eba772"/><rect x="918.9" y="754.93" width="9.3" height="30.13" fill="#f5dcc5"/><rect x="927.9" y="754.93" width="9.3" height="30.13" fill="#f0c59e"/><rect x="936.9" y="754.93" width="9.3" height="30.13" fill="#f0c59e"/><rect x="945.9" y="754.93" width="9.3" height="30.13" fill="#f0c59e"/><rect x="954.9" y="754.93" width="9.3" height="30.13" fill="#f5dcc5"/><rect x="963.9" y="754.93" width="9.3" height="30.13" fill="#eaeff5"/><rect x="972.9" y="754.93" width="9.3" height="30.13" fill="#f0c59e"/><rect x="981.9" y="754.93" width="9.3" height="30.13" fill="#eaeff5"/><rect x="990.9" y="754.93" width="9.3" height="30.13" fill="#faefe3"/><rect x="999.9" y="754.93" width="9.3" height="30.13" fill="#fefcf9"/><rect x="1008.9" y="754.93" width="9.3" height="30.13" fill="#eba772"/><rect x="1017.9" y="754.93" width="9.3" height="30.13" fill="#f0c59e"/><rect x="1026.9" y="754.93" width="9.3" height="30.13" fill="#f5dcc5"/><rect x="1035.9" y="754.93" width="9.3" height="30.13" fill="#fefcf9"/><rect x="1044.9" y="754.93" width="9.3" height="30.13" fill="#eba772"/><rect x="1053.9" y="754.93" width="9.3" height="30.13" fill="#fefcf9"/><rect x="1062.9" y="754.93" width="9.3" height="30.13" fill="#a5bbd2"/><rect x="1071.9" y="754.93" width="9.3" height="30.13" fill="#faefe3"/><rect x="1080.9" y="754.93" width="9.3" height="30.13" fill="#faefe3"/><rect x="1089.9" y="754.93" width="9.3" height="30.13" fill="#f5dcc5"/><rect x="1098.9" y="754.93" width="9.3" height="30.13" fill="#f0c59e"/><rect x="1107.9" y="754.93" width="9.3" height="30.13" fill="#f0c59e"/><rect x="1116.9" y="754.93" width="9.3" height="30.13" fill="#fefcf9"/><rect x="1125.9" y="754.93" width="9.3" height="30.13" fill="#eba772"/><rect x="1134.9" y="754.93" width="9.3" height="30.13" fill="#cbd9e6"/><rect x="1143.9" y="754.93" width="9.3" height="30.13" fill="#eaeff5"/><rect x="1152.9" y="754.93" width="9.3" height="30.13" fill="#f0c59e"/><rect x="1161.9" y="754.93" width="9.3" height="30.13" fill="#f0c59e"/><rect x="1170.9" y="754.93" width="9.3" height="30.13" fill="#faefe3"/><rect x="1179.9" y="754.93" width="9.3" height="30.13" fill="#faefe3"/><rect x="1188.9" y="754.93" width="9.3" height="30.13" fill="#faefe3"/><rect x="1197.9" y="754.93" width="9.3" height="30.13" fill="#f5dcc5"/><rect x="1206.9" y="754.93" width="9.3" height="30.13" fill="#f5dcc5"/><rect x="1215.9" y="754.93" width="9.3" height="30.13" fill="#f5dcc5"/><rect x="1224.9" y="754.93" width="9.3" height="30.13" fill="#f5dcc5"/><rect x="1233.9" y="754.93" width="9.3" height="30.13" fill="#f5dcc5"/><rect x="1242.9" y="754.93" width="9.3" height="30.13" fill="#fefcf9"/><rect x="1251.9" y="754.93" width="9.3" height="30.13" fill="#fefcf9"/><rect x="1260.9" y="754.93" width="9.3" height="30.13" fill="#faefe3"/><rect x="1269.9" y="754.93" width="9.3" height="30.13" fill="#eba772"/><rect x="1278.9" y="754.93" width="9.3" height="30.13" fill="#f0c59e"/><rect x="1287.9" y="754.93" width="9.3" height="30.13" fill="#f0c59e"/><rect x="1296.9" y="754.93" width="9.3" height="30.13" fill="#f0c59e"/><rect x="1305.9" y="754.93" width="9.3" height="30.13" fill="#fefcf9"/><rect x="1314.9" y="754.93" width="9.3" height="30.13" fill="#faefe3"/><rect x="1323.9" y="754.93" width="9.3" height="30.13" fill="#faefe3"/><rect x="1332.9" y="754.93" width="9.3" height="30.13" fill="#f5dcc5"/><rect x="1341.9" y="754.93" width="9.3" height="30.13" fill="#f0c59e"/><rect x="1350.9" y="754.93" width="9.3" height="30.13" fill="#fefcf9"/><rect x="1359.9" y="754.93" width="9.3" height="30.13" fill="#faefe3"/><rect x="1368.9" y="754.93" width="9.3" height="30.13" fill="#fefcf9"/><rect x="1377.9" y="754.93" width="9.3" height="30.13" fill="#faefe3"/><rect x="1386.9" y="754.93" width="9.3" height="30.13" fill="#f5dcc5"/><rect x="1395.9" y="754.93" width="9.3" height="30.13" fill="#f5dcc5"/><rect x="1404.9" y="754.93" width="9.3" height="30.13" fill="#f5dcc5"/><rect x="1413.9" y="754.93" width="9.3" height="30.13" fill="#faefe3"/><rect x="1422.9" y="754.93" width="9.3" height="30.13" fill="#f5dcc5"/><rect x="1431.9" y="754.93" width="9.3" height="30.13" fill="#f5dcc5"/><rect x="1440.9" y="754.93" width="9.3" height="30.13" fill="#f5dcc5"/><rect x="1449.9" y="754.93" width="9.3" height="30.13" fill="#f5dcc5"/><rect x="1458.9" y="754.93" width="9.3" height="30.13" fill="#f0c59e"/><rect x="1467.9" y="754.93" width="9.3" height="30.13" fill="#f5dcc5"/><rect x="1476.9" y="754.93" width="9.3" height="30.13" fill="#f5dcc5"/><rect x="1485.9" y="754.93" width="9.3" height="30.13" fill="#f5dcc5"/><rect x="1494.9" y="754.93" width="9.3" height="30.13" fill="#f5dcc5"/><rect x="1503.9" y="754.93" width="9.3" height="30.13" fill="#f5dcc5"/><rect x="1512.9" y="754.93" width="9.3" height="30.13" fill="#faefe3"/><rect x="1521.9" y="754.93" width="9.3" height="30.13" fill="#f0c59e"/><rect x="1530.9" y="754.93" width="9.3" height="30.13" fill="#f5dcc5"/><rect x="1539.9" y="754.93" width="9.3" height="30.13" fill="#f0c59e"/><rect x="1548.9" y="754.93" width="9.3" height="30.13" fill="#f5dcc5"/><rect x="1557.9" y="754.93" width="9.3" height="30.13" fill="#f5dcc5"/><rect x="1566.9" y="754.93" width="9.3" height="30.13" fill="#f5dcc5"/><rect x="1575.9" y="754.93" width="9.3" height="30.13" fill="#f5dcc5"/><rect x="1584.9" y="754.93" width="9.3" height="30.13" fill="#f0c59e"/><rect x="1593.9" y="754.93" width="9.3" height="30.13" fill="#faefe3"/><rect x="1602.9" y="754.93" width="9.3" height="30.13" fill="#f5dcc5"/><rect x="792.9" y="784.77" width="9.3" height="30.13" fill="#fefcf9"/><rect x="801.9" y="784.77" width="9.3" height="30.13" fill="#eba772"/><rect x="810.9" y="784.77" width="9.3" height="30.13" fill="#a5bbd2"/><rect x="819.9" y="784.77" width="9.3" height="30.13" fill="#f0c59e"/><rect x="828.9" y="784.77" width="9.3" height="30.13" fill="#eaeff5"/><rect x="837.9" y="784.77" width="9.3" height="30.13" fill="#f5dcc5"/><rect x="846.9" y="784.77" width="9.3" height="30.13" fill="#f0c59e"/><rect x="855.9" y="784.77" width="9.3" height="30.13" fill="#fefcf9"/><rect x="864.9" y="784.77" width="9.3" height="30.13" fill="#eba772"/><rect x="873.9" y="784.77" width="9.3" height="30.13" fill="#eaeff5"/><rect x="882.9" y="784.77" width="9.3" height="30.13" fill="#cbd9e6"/><rect x="891.9" y="784.77" width="9.3" height="30.13" fill="#eba772"/><rect x="900.9" y="784.77" width="9.3" height="30.13" fill="#cbd9e6"/><rect x="909.9" y="784.77" width="9.3" height="30.13" fill="#a5bbd2"/><rect x="918.9" y="784.77" width="9.3" height="30.13" fill="#faefe3"/><rect x="927.9" y="784.77" width="9.3" height="30.13" fill="#faefe3"/><rect x="936.9" y="784.77" width="9.3" height="30.13" fill="#faefe3"/><rect x="945.9" y="784.77" width="9.3" height="30.13" fill="#faefe3"/><rect x="954.9" y="784.77" width="9.3" height="30.13" fill="#fefcf9"/><rect x="963.9" y="784.77" width="9.3" height="30.13" fill="#faefe3"/><rect x="972.9" y="784.77" width="9.3" height="30.13" fill="#a5bbd2"/><rect x="981.9" y="784.77" width="9.3" height="30.13" fill="#cbd9e6"/><rect x="990.9" y="784.77" width="9.3" height="30.13" fill="#eaeff5"/><rect x="999.9" y="784.77" width="9.3" height="30.13" fill="#a5bbd2"/><rect x="1008.9" y="784.77" width="9.3" height="30.13" fill="#a5bbd2"/><rect x="1017.9" y="784.77" width="9.3" height="30.13" fill="#f0c59e"/><rect x="1026.9" y="784.77" width="9.3" height="30.13" fill="#faefe3"/><rect x="1035.9" y="784.77" width="9.3" height="30.13" fill="#faefe3"/><rect x="1044.9" y="784.77" width="9.3" height="30.13" fill="#cbd9e6"/><rect x="1053.9" y="784.77" width="9.3" height="30.13" fill="#eba772"/><rect x="1062.9" y="784.77" width="9.3" height="30.13" fill="#f5dcc5"/><rect x="1071.9" y="784.77" width="9.3" height="30.13" fill="#fefcf9"/><rect x="1080.9" y="784.77" width="9.3" height="30.13" fill="#fefcf9"/><rect x="1089.9" y="784.77" width="9.3" height="30.13" fill="#faefe3"/><rect x="1098.9" y="784.77" width="9.3" height="30.13" fill="#eaeff5"/><rect x="1107.9" y="784.77" width="9.3" height="30.13" fill="#faefe3"/><rect x="1116.9" y="784.77" width="9.3" height="30.13" fill="#fefcf9"/><rect x="1125.9" y="784.77" width="9.3" height="30.13" fill="#f5dcc5"/><rect x="1134.9" y="784.77" width="9.3" height="30.13" fill="#f5dcc5"/><rect x="1143.9" y="784.77" width="9.3" height="30.13" fill="#f5dcc5"/><rect x="1152.9" y="784.77" width="9.3" height="30.13" fill="#faefe3"/><rect x="1161.9" y="784.77" width="9.3" height="30.13" fill="#faefe3"/><rect x="1170.9" y="784.77" width="9.3" height="30.13" fill="#faefe3"/><rect x="1179.9" y="784.77" width="9.3" height="30.13" fill="#faefe3"/><rect x="1188.9" y="784.77" width="9.3" height="30.13" fill="#eaeff5"/><rect x="1197.9" y="784.77" width="9.3" height="30.13" fill="#f5dcc5"/><rect x="1206.9" y="784.77" width="9.3" height="30.13" fill="#f5dcc5"/><rect x="1215.9" y="784.77" width="9.3" height="30.13" fill="#f0c59e"/><rect x="1224.9" y="784.77" width="9.3" height="30.13" fill="#faefe3"/><rect x="1233.9" y="784.77" width="9.3" height="30.13" fill="#f5dcc5"/><rect x="1242.9" y="784.77" width="9.3" height="30.13" fill="#eaeff5"/><rect x="1251.9" y="784.77" width="9.3" height="30.13" fill="#eba772"/><rect x="1260.9" y="784.77" width="9.3" height="30.13" fill="#faefe3"/><rect x="1269.9" y="784.77" width="9.3" height="30.13" fill="#eba772"/><rect x="1278.9" y="784.77" width="9.3" height="30.13" fill="#faefe3"/><rect x="1287.9" y="784.77" width="9.3" height="30.13" fill="#fefcf9"/><rect x="1296.9" y="784.77" width="9.3" height="30.13" fill="#a5bbd2"/><rect x="1305.9" y="784.77" width="9.3" height="30.13" fill="#fefcf9"/><rect x="1314.9" y="784.77" width="9.3" height="30.13" fill="#f0c59e"/><rect x="1323.9" y="784.77" width="9.3" height="30.13" fill="#f0c59e"/><rect x="1332.9" y="784.77" width="9.3" height="30.13" fill="#a5bbd2"/><rect x="1341.9" y="784.77" width="9.3" height="30.13" fill="#f5dcc5"/><rect x="1350.9" y="784.77" width="9.3" height="30.13" fill="#f5dcc5"/><rect x="1359.9" y="784.77" width="9.3" height="30.13" fill="#f5dcc5"/><rect x="1368.9" y="784.77" width="9.3" height="30.13" fill="#faefe3"/><rect x="1377.9" y="784.77" width="9.3" height="30.13" fill="#f5dcc5"/><rect x="1386.9" y="784.77" width="9.3" height="30.13" fill="#f5dcc5"/><rect x="1395.9" y="784.77" width="9.3" height="30.13" fill="#f5dcc5"/><rect x="1404.9" y="784.77" width="9.3" height="30.13" fill="#f5dcc5"/><rect x="1413.9" y="784.77" width="9.3" height="30.13" fill="#faefe3"/><rect x="1422.9" y="784.77" width="9.3" height="30.13" fill="#f5dcc5"/><rect x="1431.9" y="784.77" width="9.3" height="30.13" fill="#f5dcc5"/><rect x="1440.9" y="784.77" width="9.3" height="30.13" fill="#f0c59e"/><rect x="1449.9" y="784.77" width="9.3" height="30.13" fill="#faefe3"/><rect x="1458.9" y="784.77" width="9.3" height="30.13" fill="#f0c59e"/><rect x="1467.9" y="784.77" width="9.3" height="30.13" fill="#f5dcc5"/><rect x="1476.9" y="784.77" width="9.3" height="30.13" fill="#f5dcc5"/><rect x="1485.9" y="784.77" width="9.3" height="30.13" fill="#faefe3"/><rect x="1494.9" y="784.77" width="9.3" height="30.13" fill="#faefe3"/><rect x="1503.9" y="784.77" width="9.3" height="30.13" fill="#faefe3"/><rect x="1512.9" y="784.77" width="9.3" height="30.13" fill="#f5dcc5"/><rect x="1521.9" y="784.77" width="9.3" height="30.13" fill="#f5dcc5"/><rect x="1530.9" y="784.77" width="9.3" height="30.13" fill="#f5dcc5"/><rect x="1539.9" y="784.77" width="9.3" height="30.13" fill="#faefe3"/><rect x="1548.9" y="784.77" width="9.3" height="30.13" fill="#f5dcc5"/><rect x="1557.9" y="784.77" width="9.3" height="30.13" fill="#f5dcc5"/><rect x="1566.9" y="784.77" width="9.3" height="30.13" fill="#eba772"/><rect x="1575.9" y="784.77" width="9.3" height="30.13" fill="#f0c59e"/><rect x="1584.9" y="784.77" width="9.3" height="30.13" fill="#f0c59e"/><rect x="1593.9" y="784.77" width="9.3" height="30.13" fill="#faefe3"/><rect x="1602.9" y="784.77" width="9.3" height="30.13" fill="#f5dcc5"/><rect x="792.9" y="814.6" width="9.3" height="30.13" fill="#cbd9e6"/><rect x="801.9" y="814.6" width="9.3" height="30.13" fill="#fefcf9"/><rect x="810.9" y="814.6" width="9.3" height="30.13" fill="#eaeff5"/><rect x="819.9" y="814.6" width="9.3" height="30.13" fill="#faefe3"/><rect x="828.9" y="814.6" width="9.3" height="30.13" fill="#cbd9e6"/><rect x="837.9" y="814.6" width="9.3" height="30.13" fill="#84a0c0"/><rect x="846.9" y="814.6" width="9.3" height="30.13" fill="#a5bbd2"/><rect x="855.9" y="814.6" width="9.3" height="30.13" fill="#a5bbd2"/><rect x="864.9" y="814.6" width="9.3" height="30.13" fill="#fefcf9"/><rect x="873.9" y="814.6" width="9.3" height="30.13" fill="#a5bbd2"/><rect x="882.9" y="814.6" width="9.3" height="30.13" fill="#eaeff5"/><rect x="891.9" y="814.6" width="9.3" height="30.13" fill="#84a0c0"/><rect x="900.9" y="814.6" width="9.3" height="30.13" fill="#cbd9e6"/><rect x="909.9" y="814.6" width="9.3" height="30.13" fill="#cbd9e6"/><rect x="918.9" y="814.6" width="9.3" height="30.13" fill="#a5bbd2"/><rect x="927.9" y="814.6" width="9.3" height="30.13" fill="#eaeff5"/><rect x="936.9" y="814.6" width="9.3" height="30.13" fill="#5c7ea8"/><rect x="945.9" y="814.6" width="9.3" height="30.13" fill="#a5bbd2"/><rect x="954.9" y="814.6" width="9.3" height="30.13" fill="#5c7ea8"/><rect x="963.9" y="814.6" width="9.3" height="30.13" fill="#eaeff5"/><rect x="972.9" y="814.6" width="9.3" height="30.13" fill="#a5bbd2"/><rect x="981.9" y="814.6" width="9.3" height="30.13" fill="#cbd9e6"/><rect x="990.9" y="814.6" width="9.3" height="30.13" fill="#84a0c0"/><rect x="999.9" y="814.6" width="9.3" height="30.13" fill="#a5bbd2"/><rect x="1008.9" y="814.6" width="9.3" height="30.13" fill="#cbd9e6"/><rect x="1017.9" y="814.6" width="9.3" height="30.13" fill="#cbd9e6"/><rect x="1026.9" y="814.6" width="9.3" height="30.13" fill="#a5bbd2"/><rect x="1035.9" y="814.6" width="9.3" height="30.13" fill="#a5bbd2"/><rect x="1044.9" y="814.6" width="9.3" height="30.13" fill="#305288"/><rect x="1053.9" y="814.6" width="9.3" height="30.13" fill="#a5bbd2"/><rect x="1062.9" y="814.6" width="9.3" height="30.13" fill="#cbd9e6"/><rect x="1071.9" y="814.6" width="9.3" height="30.13" fill="#a5bbd2"/><rect x="1080.9" y="814.6" width="9.3" height="30.13" fill="#84a0c0"/><rect x="1089.9" y="814.6" width="9.3" height="30.13" fill="#a5bbd2"/><rect x="1098.9" y="814.6" width="9.3" height="30.13" fill="#a5bbd2"/><rect x="1107.9" y="814.6" width="9.3" height="30.13" fill="#faefe3"/><rect x="1116.9" y="814.6" width="9.3" height="30.13" fill="#5c7ea8"/><rect x="1125.9" y="814.6" width="9.3" height="30.13" fill="#cbd9e6"/><rect x="1134.9" y="814.6" width="9.3" height="30.13" fill="#cbd9e6"/><rect x="1143.9" y="814.6" width="9.3" height="30.13" fill="#cbd9e6"/><rect x="1152.9" y="814.6" width="9.3" height="30.13" fill="#faefe3"/><rect x="1161.9" y="814.6" width="9.3" height="30.13" fill="#eaeff5"/><rect x="1170.9" y="814.6" width="9.3" height="30.13" fill="#f0c59e"/><rect x="1179.9" y="814.6" width="9.3" height="30.13" fill="#5c7ea8"/><rect x="1188.9" y="814.6" width="9.3" height="30.13" fill="#a5bbd2"/><rect x="1197.9" y="814.6" width="9.3" height="30.13" fill="#a5bbd2"/><rect x="1206.9" y="814.6" width="9.3" height="30.13" fill="#5c7ea8"/><rect x="1215.9" y="814.6" width="9.3" height="30.13" fill="#a5bbd2"/><rect x="1224.9" y="814.6" width="9.3" height="30.13" fill="#a5bbd2"/><rect x="1233.9" y="814.6" width="9.3" height="30.13" fill="#84a0c0"/><rect x="1242.9" y="814.6" width="9.3" height="30.13" fill="#a5bbd2"/><rect x="1251.9" y="814.6" width="9.3" height="30.13" fill="#a5bbd2"/><rect x="1260.9" y="814.6" width="9.3" height="30.13" fill="#a5bbd2"/><rect x="1269.9" y="814.6" width="9.3" height="30.13" fill="#a5bbd2"/><rect x="1278.9" y="814.6" width="9.3" height="30.13" fill="#cbd9e6"/><rect x="1287.9" y="814.6" width="9.3" height="30.13" fill="#a5bbd2"/><rect x="1296.9" y="814.6" width="9.3" height="30.13" fill="#cbd9e6"/><rect x="1305.9" y="814.6" width="9.3" height="30.13" fill="#a5bbd2"/><rect x="1314.9" y="814.6" width="9.3" height="30.13" fill="#a5bbd2"/><rect x="1323.9" y="814.6" width="9.3" height="30.13" fill="#f0c59e"/><rect x="1332.9" y="814.6" width="9.3" height="30.13" fill="#a5bbd2"/><rect x="1341.9" y="814.6" width="9.3" height="30.13" fill="#faefe3"/><rect x="1350.9" y="814.6" width="9.3" height="30.13" fill="#eaeff5"/><rect x="1359.9" y="814.6" width="9.3" height="30.13" fill="#cbd9e6"/><rect x="1368.9" y="814.6" width="9.3" height="30.13" fill="#cbd9e6"/><rect x="1377.9" y="814.6" width="9.3" height="30.13" fill="#cbd9e6"/><rect x="1386.9" y="814.6" width="9.3" height="30.13" fill="#cbd9e6"/><rect x="1395.9" y="814.6" width="9.3" height="30.13" fill="#cbd9e6"/><rect x="1404.9" y="814.6" width="9.3" height="30.13" fill="#cbd9e6"/><rect x="1413.9" y="814.6" width="9.3" height="30.13" fill="#fefcf9"/><rect x="1422.9" y="814.6" width="9.3" height="30.13" fill="#84a0c0"/><rect x="1431.9" y="814.6" width="9.3" height="30.13" fill="#a5bbd2"/><rect x="1440.9" y="814.6" width="9.3" height="30.13" fill="#a5bbd2"/><rect x="1449.9" y="814.6" width="9.3" height="30.13" fill="#eaeff5"/><rect x="1458.9" y="814.6" width="9.3" height="30.13" fill="#84a0c0"/><rect x="1467.9" y="814.6" width="9.3" height="30.13" fill="#cbd9e6"/><rect x="1476.9" y="814.6" width="9.3" height="30.13" fill="#eaeff5"/><rect x="1485.9" y="814.6" width="9.3" height="30.13" fill="#cbd9e6"/><rect x="1494.9" y="814.6" width="9.3" height="30.13" fill="#a5bbd2"/><rect x="1503.9" y="814.6" width="9.3" height="30.13" fill="#a5bbd2"/><rect x="1512.9" y="814.6" width="9.3" height="30.13" fill="#eaeff5"/><rect x="1521.9" y="814.6" width="9.3" height="30.13" fill="#84a0c0"/><rect x="1530.9" y="814.6" width="9.3" height="30.13" fill="#eaeff5"/><rect x="1539.9" y="814.6" width="9.3" height="30.13" fill="#cbd9e6"/><rect x="1548.9" y="814.6" width="9.3" height="30.13" fill="#eaeff5"/><rect x="1557.9" y="814.6" width="9.3" height="30.13" fill="#cbd9e6"/><rect x="1566.9" y="814.6" width="9.3" height="30.13" fill="#a5bbd2"/><rect x="1575.9" y="814.6" width="9.3" height="30.13" fill="#cbd9e6"/><rect x="1584.9" y="814.6" width="9.3" height="30.13" fill="#cbd9e6"/><rect x="1593.9" y="814.6" width="9.3" height="30.13" fill="#fefcf9"/><rect x="1602.9" y="814.6" width="9.3" height="30.13" fill="#a5bbd2"/><rect x="792.9" y="844.43" width="9.3" height="30.13" fill="#cbd9e6"/><rect x="801.9" y="844.43" width="9.3" height="30.13" fill="#fefcf9"/><rect x="810.9" y="844.43" width="9.3" height="30.13" fill="#cbd9e6"/><rect x="819.9" y="844.43" width="9.3" height="30.13" fill="#a5bbd2"/><rect x="828.9" y="844.43" width="9.3" height="30.13" fill="#eaeff5"/><rect x="837.9" y="844.43" width="9.3" height="30.13" fill="#eaeff5"/><rect x="846.9" y="844.43" width="9.3" height="30.13" fill="#cbd9e6"/><rect x="855.9" y="844.43" width="9.3" height="30.13" fill="#cbd9e6"/><rect x="864.9" y="844.43" width="9.3" height="30.13" fill="#cbd9e6"/><rect x="873.9" y="844.43" width="9.3" height="30.13" fill="#a5bbd2"/><rect x="882.9" y="844.43" width="9.3" height="30.13" fill="#84a0c0"/><rect x="891.9" y="844.43" width="9.3" height="30.13" fill="#fefcf9"/><rect x="900.9" y="844.43" width="9.3" height="30.13" fill="#cbd9e6"/><rect x="909.9" y="844.43" width="9.3" height="30.13" fill="#a5bbd2"/><rect x="918.9" y="844.43" width="9.3" height="30.13" fill="#f0c59e"/><rect x="927.9" y="844.43" width="9.3" height="30.13" fill="#eaeff5"/><rect x="936.9" y="844.43" width="9.3" height="30.13" fill="#a5bbd2"/><rect x="945.9" y="844.43" width="9.3" height="30.13" fill="#a5bbd2"/><rect x="954.9" y="844.43" width="9.3" height="30.13" fill="#84a0c0"/><rect x="963.9" y="844.43" width="9.3" height="30.13" fill="#305288"/><rect x="972.9" y="844.43" width="9.3" height="30.13" fill="#84a0c0"/><rect x="981.9" y="844.43" width="9.3" height="30.13" fill="#eaeff5"/><rect x="990.9" y="844.43" width="9.3" height="30.13" fill="#cbd9e6"/><rect x="999.9" y="844.43" width="9.3" height="30.13" fill="#cbd9e6"/><rect x="1008.9" y="844.43" width="9.3" height="30.13" fill="#cbd9e6"/><rect x="1017.9" y="844.43" width="9.3" height="30.13" fill="#fefcf9"/><rect x="1026.9" y="844.43" width="9.3" height="30.13" fill="#a5bbd2"/><rect x="1035.9" y="844.43" width="9.3" height="30.13" fill="#a5bbd2"/><rect x="1044.9" y="844.43" width="9.3" height="30.13" fill="#a5bbd2"/><rect x="1053.9" y="844.43" width="9.3" height="30.13" fill="#a5bbd2"/><rect x="1062.9" y="844.43" width="9.3" height="30.13" fill="#a5bbd2"/><rect x="1071.9" y="844.43" width="9.3" height="30.13" fill="#a5bbd2"/><rect x="1080.9" y="844.43" width="9.3" height="30.13" fill="#cbd9e6"/><rect x="1089.9" y="844.43" width="9.3" height="30.13" fill="#a5bbd2"/><rect x="1098.9" y="844.43" width="9.3" height="30.13" fill="#a5bbd2"/><rect x="1107.9" y="844.43" width="9.3" height="30.13" fill="#cbd9e6"/><rect x="1116.9" y="844.43" width="9.3" height="30.13" fill="#cbd9e6"/><rect x="1125.9" y="844.43" width="9.3" height="30.13" fill="#a5bbd2"/><rect x="1134.9" y="844.43" width="9.3" height="30.13" fill="#cbd9e6"/><rect x="1143.9" y="844.43" width="9.3" height="30.13" fill="#a5bbd2"/><rect x="1152.9" y="844.43" width="9.3" height="30.13" fill="#a5bbd2"/><rect x="1161.9" y="844.43" width="9.3" height="30.13" fill="#a5bbd2"/><rect x="1170.9" y="844.43" width="9.3" height="30.13" fill="#a5bbd2"/><rect x="1179.9" y="844.43" width="9.3" height="30.13" fill="#eaeff5"/><rect x="1188.9" y="844.43" width="9.3" height="30.13" fill="#cbd9e6"/><rect x="1197.9" y="844.43" width="9.3" height="30.13" fill="#fefcf9"/><rect x="1206.9" y="844.43" width="9.3" height="30.13" fill="#5c7ea8"/><rect x="1215.9" y="844.43" width="9.3" height="30.13" fill="#a5bbd2"/><rect x="1224.9" y="844.43" width="9.3" height="30.13" fill="#a5bbd2"/><rect x="1233.9" y="844.43" width="9.3" height="30.13" fill="#84a0c0"/><rect x="1242.9" y="844.43" width="9.3" height="30.13" fill="#a5bbd2"/><rect x="1251.9" y="844.43" width="9.3" height="30.13" fill="#a5bbd2"/><rect x="1260.9" y="844.43" width="9.3" height="30.13" fill="#a5bbd2"/><rect x="1269.9" y="844.43" width="9.3" height="30.13" fill="#a5bbd2"/><rect x="1278.9" y="844.43" width="9.3" height="30.13" fill="#a5bbd2"/><rect x="1287.9" y="844.43" width="9.3" height="30.13" fill="#a5bbd2"/><rect x="1296.9" y="844.43" width="9.3" height="30.13" fill="#a5bbd2"/><rect x="1305.9" y="844.43" width="9.3" height="30.13" fill="#a5bbd2"/><rect x="1314.9" y="844.43" width="9.3" height="30.13" fill="#84a0c0"/><rect x="1323.9" y="844.43" width="9.3" height="30.13" fill="#a5bbd2"/><rect x="1332.9" y="844.43" width="9.3" height="30.13" fill="#cbd9e6"/><rect x="1341.9" y="844.43" width="9.3" height="30.13" fill="#84a0c0"/><rect x="1350.9" y="844.43" width="9.3" height="30.13" fill="#fefcf9"/><rect x="1359.9" y="844.43" width="9.3" height="30.13" fill="#cbd9e6"/><rect x="1368.9" y="844.43" width="9.3" height="30.13" fill="#84a0c0"/><rect x="1377.9" y="844.43" width="9.3" height="30.13" fill="#a5bbd2"/><rect x="1386.9" y="844.43" width="9.3" height="30.13" fill="#a5bbd2"/><rect x="1395.9" y="844.43" width="9.3" height="30.13" fill="#a5bbd2"/><rect x="1404.9" y="844.43" width="9.3" height="30.13" fill="#cbd9e6"/><rect x="1413.9" y="844.43" width="9.3" height="30.13" fill="#cbd9e6"/><rect x="1422.9" y="844.43" width="9.3" height="30.13" fill="#84a0c0"/><rect x="1431.9" y="844.43" width="9.3" height="30.13" fill="#a5bbd2"/><rect x="1440.9" y="844.43" width="9.3" height="30.13" fill="#a5bbd2"/><rect x="1449.9" y="844.43" width="9.3" height="30.13" fill="#a5bbd2"/><rect x="1458.9" y="844.43" width="9.3" height="30.13" fill="#a5bbd2"/><rect x="1467.9" y="844.43" width="9.3" height="30.13" fill="#a5bbd2"/><rect x="1476.9" y="844.43" width="9.3" height="30.13" fill="#a5bbd2"/><rect x="1485.9" y="844.43" width="9.3" height="30.13" fill="#cbd9e6"/><rect x="1494.9" y="844.43" width="9.3" height="30.13" fill="#a5bbd2"/><rect x="1503.9" y="844.43" width="9.3" height="30.13" fill="#a5bbd2"/><rect x="1512.9" y="844.43" width="9.3" height="30.13" fill="#a5bbd2"/><rect x="1521.9" y="844.43" width="9.3" height="30.13" fill="#fefcf9"/><rect x="1530.9" y="844.43" width="9.3" height="30.13" fill="#cbd9e6"/><rect x="1539.9" y="844.43" width="9.3" height="30.13" fill="#cbd9e6"/><rect x="1548.9" y="844.43" width="9.3" height="30.13" fill="#cbd9e6"/><rect x="1557.9" y="844.43" width="9.3" height="30.13" fill="#cbd9e6"/><rect x="1566.9" y="844.43" width="9.3" height="30.13" fill="#cbd9e6"/><rect x="1575.9" y="844.43" width="9.3" height="30.13" fill="#cbd9e6"/><rect x="1584.9" y="844.43" width="9.3" height="30.13" fill="#cbd9e6"/><rect x="1593.9" y="844.43" width="9.3" height="30.13" fill="#eaeff5"/><rect x="1602.9" y="844.43" width="9.3" height="30.13" fill="#cbd9e6"/><rect x="792.9" y="874.27" width="9.3" height="30.13" fill="#cbd9e6"/><rect x="801.9" y="874.27" width="9.3" height="30.13" fill="#a5bbd2"/><rect x="810.9" y="874.27" width="9.3" height="30.13" fill="#cbd9e6"/><rect x="819.9" y="874.27" width="9.3" height="30.13" fill="#a5bbd2"/><rect x="828.9" y="874.27" width="9.3" height="30.13" fill="#cbd9e6"/><rect x="837.9" y="874.27" width="9.3" height="30.13" fill="#cbd9e6"/><rect x="846.9" y="874.27" width="9.3" height="30.13" fill="#a5bbd2"/><rect x="855.9" y="874.27" width="9.3" height="30.13" fill="#a5bbd2"/><rect x="864.9" y="874.27" width="9.3" height="30.13" fill="#84a0c0"/><rect x="873.9" y="874.27" width="9.3" height="30.13" fill="#a5bbd2"/><rect x="882.9" y="874.27" width="9.3" height="30.13" fill="#eaeff5"/><rect x="891.9" y="874.27" width="9.3" height="30.13" fill="#fefcf9"/><rect x="900.9" y="874.27" width="9.3" height="30.13" fill="#a5bbd2"/><rect x="909.9" y="874.27" width="9.3" height="30.13" fill="#a5bbd2"/><rect x="918.9" y="874.27" width="9.3" height="30.13" fill="#cbd9e6"/><rect x="927.9" y="874.27" width="9.3" height="30.13" fill="#84a0c0"/><rect x="936.9" y="874.27" width="9.3" height="30.13" fill="#cbd9e6"/><rect x="945.9" y="874.27" width="9.3" height="30.13" fill="#cbd9e6"/><rect x="954.9" y="874.27" width="9.3" height="30.13" fill="#a5bbd2"/><rect x="963.9" y="874.27" width="9.3" height="30.13" fill="#eaeff5"/><rect x="972.9" y="874.27" width="9.3" height="30.13" fill="#84a0c0"/><rect x="981.9" y="874.27" width="9.3" height="30.13" fill="#a5bbd2"/><rect x="990.9" y="874.27" width="9.3" height="30.13" fill="#cbd9e6"/><rect x="999.9" y="874.27" width="9.3" height="30.13" fill="#cbd9e6"/><rect x="1008.9" y="874.27" width="9.3" height="30.13" fill="#a5bbd2"/><rect x="1017.9" y="874.27" width="9.3" height="30.13" fill="#a5bbd2"/><rect x="1026.9" y="874.27" width="9.3" height="30.13" fill="#a5bbd2"/><rect x="1035.9" y="874.27" width="9.3" height="30.13" fill="#a5bbd2"/><rect x="1044.9" y="874.27" width="9.3" height="30.13" fill="#cbd9e6"/><rect x="1053.9" y="874.27" width="9.3" height="30.13" fill="#a5bbd2"/><rect x="1062.9" y="874.27" width="9.3" height="30.13" fill="#cbd9e6"/><rect x="1071.9" y="874.27" width="9.3" height="30.13" fill="#a5bbd2"/><rect x="1080.9" y="874.27" width="9.3" height="30.13" fill="#cbd9e6"/><rect x="1089.9" y="874.27" width="9.3" height="30.13" fill="#a5bbd2"/><rect x="1098.9" y="874.27" width="9.3" height="30.13" fill="#a5bbd2"/><rect x="1107.9" y="874.27" width="9.3" height="30.13" fill="#84a0c0"/><rect x="1116.9" y="874.27" width="9.3" height="30.13" fill="#eaeff5"/><rect x="1125.9" y="874.27" width="9.3" height="30.13" fill="#fefcf9"/><rect x="1134.9" y="874.27" width="9.3" height="30.13" fill="#cbd9e6"/><rect x="1143.9" y="874.27" width="9.3" height="30.13" fill="#a5bbd2"/><rect x="1152.9" y="874.27" width="9.3" height="30.13" fill="#84a0c0"/><rect x="1161.9" y="874.27" width="9.3" height="30.13" fill="#cbd9e6"/><rect x="1170.9" y="874.27" width="9.3" height="30.13" fill="#a5bbd2"/><rect x="1179.9" y="874.27" width="9.3" height="30.13" fill="#eaeff5"/><rect x="1188.9" y="874.27" width="9.3" height="30.13" fill="#84a0c0"/><rect x="1197.9" y="874.27" width="9.3" height="30.13" fill="#cbd9e6"/><rect x="1206.9" y="874.27" width="9.3" height="30.13" fill="#eaeff5"/><rect x="1215.9" y="874.27" width="9.3" height="30.13" fill="#a5bbd2"/><rect x="1224.9" y="874.27" width="9.3" height="30.13" fill="#a5bbd2"/><rect x="1233.9" y="874.27" width="9.3" height="30.13" fill="#eaeff5"/><rect x="1242.9" y="874.27" width="9.3" height="30.13" fill="#a5bbd2"/><rect x="1251.9" y="874.27" width="9.3" height="30.13" fill="#a5bbd2"/><rect x="1260.9" y="874.27" width="9.3" height="30.13" fill="#a5bbd2"/><rect x="1269.9" y="874.27" width="9.3" height="30.13" fill="#a5bbd2"/><rect x="1278.9" y="874.27" width="9.3" height="30.13" fill="#84a0c0"/><rect x="1287.9" y="874.27" width="9.3" height="30.13" fill="#a5bbd2"/><rect x="1296.9" y="874.27" width="9.3" height="30.13" fill="#a5bbd2"/><rect x="1305.9" y="874.27" width="9.3" height="30.13" fill="#cbd9e6"/><rect x="1314.9" y="874.27" width="9.3" height="30.13" fill="#84a0c0"/><rect x="1323.9" y="874.27" width="9.3" height="30.13" fill="#a5bbd2"/><rect x="1332.9" y="874.27" width="9.3" height="30.13" fill="#cbd9e6"/><rect x="1341.9" y="874.27" width="9.3" height="30.13" fill="#faefe3"/><rect x="1350.9" y="874.27" width="9.3" height="30.13" fill="#cbd9e6"/><rect x="1359.9" y="874.27" width="9.3" height="30.13" fill="#a5bbd2"/><rect x="1368.9" y="874.27" width="9.3" height="30.13" fill="#a5bbd2"/><rect x="1377.9" y="874.27" width="9.3" height="30.13" fill="#a5bbd2"/><rect x="1386.9" y="874.27" width="9.3" height="30.13" fill="#a5bbd2"/><rect x="1395.9" y="874.27" width="9.3" height="30.13" fill="#a5bbd2"/><rect x="1404.9" y="874.27" width="9.3" height="30.13" fill="#cbd9e6"/><rect x="1413.9" y="874.27" width="9.3" height="30.13" fill="#cbd9e6"/><rect x="1422.9" y="874.27" width="9.3" height="30.13" fill="#eaeff5"/><rect x="1431.9" y="874.27" width="9.3" height="30.13" fill="#a5bbd2"/><rect x="1440.9" y="874.27" width="9.3" height="30.13" fill="#a5bbd2"/><rect x="1449.9" y="874.27" width="9.3" height="30.13" fill="#cbd9e6"/><rect x="1458.9" y="874.27" width="9.3" height="30.13" fill="#a5bbd2"/><rect x="1467.9" y="874.27" width="9.3" height="30.13" fill="#a5bbd2"/><rect x="1476.9" y="874.27" width="9.3" height="30.13" fill="#cbd9e6"/><rect x="1485.9" y="874.27" width="9.3" height="30.13" fill="#cbd9e6"/><rect x="1494.9" y="874.27" width="9.3" height="30.13" fill="#a5bbd2"/><rect x="1503.9" y="874.27" width="9.3" height="30.13" fill="#84a0c0"/><rect x="1512.9" y="874.27" width="9.3" height="30.13" fill="#a5bbd2"/><rect x="1521.9" y="874.27" width="9.3" height="30.13" fill="#a5bbd2"/><rect x="1530.9" y="874.27" width="9.3" height="30.13" fill="#a5bbd2"/><rect x="1539.9" y="874.27" width="9.3" height="30.13" fill="#a5bbd2"/><rect x="1548.9" y="874.27" width="9.3" height="30.13" fill="#a5bbd2"/><rect x="1557.9" y="874.27" width="9.3" height="30.13" fill="#a5bbd2"/><rect x="1566.9" y="874.27" width="9.3" height="30.13" fill="#cbd9e6"/><rect x="1575.9" y="874.27" width="9.3" height="30.13" fill="#a5bbd2"/><rect x="1584.9" y="874.27" width="9.3" height="30.13" fill="#a5bbd2"/><rect x="1593.9" y="874.27" width="9.3" height="30.13" fill="#cbd9e6"/><rect x="1602.9" y="874.27" width="9.3" height="30.13" fill="#a5bbd2"/><rect x="792.9" y="904.1" width="9.3" height="30.13" fill="#cbd9e6"/><rect x="801.9" y="904.1" width="9.3" height="30.13" fill="#a5bbd2"/><rect x="810.9" y="904.1" width="9.3" height="30.13" fill="#84a0c0"/><rect x="819.9" y="904.1" width="9.3" height="30.13" fill="#a5bbd2"/><rect x="828.9" y="904.1" width="9.3" height="30.13" fill="#a5bbd2"/><rect x="837.9" y="904.1" width="9.3" height="30.13" fill="#5c7ea8"/><rect x="846.9" y="904.1" width="9.3" height="30.13" fill="#a5bbd2"/><rect x="855.9" y="904.1" width="9.3" height="30.13" fill="#84a0c0"/><rect x="864.9" y="904.1" width="9.3" height="30.13" fill="#cbd9e6"/><rect x="873.9" y="904.1" width="9.3" height="30.13" fill="#eaeff5"/><rect x="882.9" y="904.1" width="9.3" height="30.13" fill="#eaeff5"/><rect x="891.9" y="904.1" width="9.3" height="30.13" fill="#5c7ea8"/><rect x="900.9" y="904.1" width="9.3" height="30.13" fill="#cbd9e6"/><rect x="909.9" y="904.1" width="9.3" height="30.13" fill="#cbd9e6"/><rect x="918.9" y="904.1" width="9.3" height="30.13" fill="#84a0c0"/><rect x="927.9" y="904.1" width="9.3" height="30.13" fill="#84a0c0"/><rect x="936.9" y="904.1" width="9.3" height="30.13" fill="#cbd9e6"/><rect x="945.9" y="904.1" width="9.3" height="30.13" fill="#a5bbd2"/><rect x="954.9" y="904.1" width="9.3" height="30.13" fill="#eaeff5"/><rect x="963.9" y="904.1" width="9.3" height="30.13" fill="#eaeff5"/><rect x="972.9" y="904.1" width="9.3" height="30.13" fill="#eaeff5"/><rect x="981.9" y="904.1" width="9.3" height="30.13" fill="#cbd9e6"/><rect x="990.9" y="904.1" width="9.3" height="30.13" fill="#a5bbd2"/><rect x="999.9" y="904.1" width="9.3" height="30.13" fill="#a5bbd2"/><rect x="1008.9" y="904.1" width="9.3" height="30.13" fill="#84a0c0"/><rect x="1017.9" y="904.1" width="9.3" height="30.13" fill="#cbd9e6"/><rect x="1026.9" y="904.1" width="9.3" height="30.13" fill="#a5bbd2"/><rect x="1035.9" y="904.1" width="9.3" height="30.13" fill="#a5bbd2"/><rect x="1044.9" y="904.1" width="9.3" height="30.13" fill="#eaeff5"/><rect x="1053.9" y="904.1" width="9.3" height="30.13" fill="#a5bbd2"/><rect x="1062.9" y="904.1" width="9.3" height="30.13" fill="#a5bbd2"/><rect x="1071.9" y="904.1" width="9.3" height="30.13" fill="#a5bbd2"/><rect x="1080.9" y="904.1" width="9.3" height="30.13" fill="#84a0c0"/><rect x="1089.9" y="904.1" width="9.3" height="30.13" fill="#a5bbd2"/><rect x="1098.9" y="904.1" width="9.3" height="30.13" fill="#a5bbd2"/><rect x="1107.9" y="904.1" width="9.3" height="30.13" fill="#a5bbd2"/><rect x="1116.9" y="904.1" width="9.3" height="30.13" fill="#5c7ea8"/><rect x="1125.9" y="904.1" width="9.3" height="30.13" fill="#faefe3"/><rect x="1134.9" y="904.1" width="9.3" height="30.13" fill="#a5bbd2"/><rect x="1143.9" y="904.1" width="9.3" height="30.13" fill="#a5bbd2"/><rect x="1152.9" y="904.1" width="9.3" height="30.13" fill="#84a0c0"/><rect x="1161.9" y="904.1" width="9.3" height="30.13" fill="#cbd9e6"/><rect x="1170.9" y="904.1" width="9.3" height="30.13" fill="#84a0c0"/><rect x="1179.9" y="904.1" width="9.3" height="30.13" fill="#a5bbd2"/><rect x="1188.9" y="904.1" width="9.3" height="30.13" fill="#cbd9e6"/><rect x="1197.9" y="904.1" width="9.3" height="30.13" fill="#84a0c0"/><rect x="1206.9" y="904.1" width="9.3" height="30.13" fill="#cbd9e6"/><rect x="1215.9" y="904.1" width="9.3" height="30.13" fill="#a5bbd2"/><rect x="1224.9" y="904.1" width="9.3" height="30.13" fill="#84a0c0"/><rect x="1233.9" y="904.1" width="9.3" height="30.13" fill="#84a0c0"/><rect x="1242.9" y="904.1" width="9.3" height="30.13" fill="#a5bbd2"/><rect x="1251.9" y="904.1" width="9.3" height="30.13" fill="#eaeff5"/><rect x="1260.9" y="904.1" width="9.3" height="30.13" fill="#a5bbd2"/><rect x="1269.9" y="904.1" width="9.3" height="30.13" fill="#84a0c0"/><rect x="1278.9" y="904.1" width="9.3" height="30.13" fill="#a5bbd2"/><rect x="1287.9" y="904.1" width="9.3" height="30.13" fill="#a5bbd2"/><rect x="1296.9" y="904.1" width="9.3" height="30.13" fill="#a5bbd2"/><rect x="1305.9" y="904.1" width="9.3" height="30.13" fill="#eaeff5"/><rect x="1314.9" y="904.1" width="9.3" height="30.13" fill="#eaeff5"/><rect x="1323.9" y="904.1" width="9.3" height="30.13" fill="#84a0c0"/><rect x="1332.9" y="904.1" width="9.3" height="30.13" fill="#cbd9e6"/><rect x="1341.9" y="904.1" width="9.3" height="30.13" fill="#84a0c0"/><rect x="1350.9" y="904.1" width="9.3" height="30.13" fill="#84a0c0"/><rect x="1359.9" y="904.1" width="9.3" height="30.13" fill="#a5bbd2"/><rect x="1368.9" y="904.1" width="9.3" height="30.13" fill="#a5bbd2"/><rect x="1377.9" y="904.1" width="9.3" height="30.13" fill="#84a0c0"/><rect x="1386.9" y="904.1" width="9.3" height="30.13" fill="#84a0c0"/><rect x="1395.9" y="904.1" width="9.3" height="30.13" fill="#84a0c0"/><rect x="1404.9" y="904.1" width="9.3" height="30.13" fill="#84a0c0"/><rect x="1413.9" y="904.1" width="9.3" height="30.13" fill="#84a0c0"/><rect x="1422.9" y="904.1" width="9.3" height="30.13" fill="#eaeff5"/><rect x="1431.9" y="904.1" width="9.3" height="30.13" fill="#84a0c0"/><rect x="1440.9" y="904.1" width="9.3" height="30.13" fill="#a5bbd2"/><rect x="1449.9" y="904.1" width="9.3" height="30.13" fill="#84a0c0"/><rect x="1458.9" y="904.1" width="9.3" height="30.13" fill="#a5bbd2"/><rect x="1467.9" y="904.1" width="9.3" height="30.13" fill="#a5bbd2"/><rect x="1476.9" y="904.1" width="9.3" height="30.13" fill="#84a0c0"/><rect x="1485.9" y="904.1" width="9.3" height="30.13" fill="#84a0c0"/><rect x="1494.9" y="904.1" width="9.3" height="30.13" fill="#a5bbd2"/><rect x="1503.9" y="904.1" width="9.3" height="30.13" fill="#a5bbd2"/><rect x="1512.9" y="904.1" width="9.3" height="30.13" fill="#84a0c0"/><rect x="1521.9" y="904.1" width="9.3" height="30.13" fill="#a5bbd2"/><rect x="1530.9" y="904.1" width="9.3" height="30.13" fill="#84a0c0"/><rect x="1539.9" y="904.1" width="9.3" height="30.13" fill="#84a0c0"/><rect x="1548.9" y="904.1" width="9.3" height="30.13" fill="#84a0c0"/><rect x="1557.9" y="904.1" width="9.3" height="30.13" fill="#84a0c0"/><rect x="1566.9" y="904.1" width="9.3" height="30.13" fill="#cbd9e6"/><rect x="1575.9" y="904.1" width="9.3" height="30.13" fill="#a5bbd2"/><rect x="1584.9" y="904.1" width="9.3" height="30.13" fill="#a5bbd2"/><rect x="1593.9" y="904.1" width="9.3" height="30.13" fill="#84a0c0"/><rect x="1602.9" y="904.1" width="9.3" height="30.13" fill="#a5bbd2"/><rect x="792.9" y="933.93" width="9.3" height="30.13" fill="#eaeff5"/><rect x="801.9" y="933.93" width="9.3" height="30.13" fill="#84a0c0"/><rect x="810.9" y="933.93" width="9.3" height="30.13" fill="#cbd9e6"/><rect x="819.9" y="933.93" width="9.3" height="30.13" fill="#84a0c0"/><rect x="828.9" y="933.93" width="9.3" height="30.13" fill="#84a0c0"/><rect x="837.9" y="933.93" width="9.3" height="30.13" fill="#eaeff5"/><rect x="846.9" y="933.93" width="9.3" height="30.13" fill="#a5bbd2"/><rect x="855.9" y="933.93" width="9.3" height="30.13" fill="#cbd9e6"/><rect x="864.9" y="933.93" width="9.3" height="30.13" fill="#cbd9e6"/><rect x="873.9" y="933.93" width="9.3" height="30.13" fill="#a5bbd2"/><rect x="882.9" y="933.93" width="9.3" height="30.13" fill="#84a0c0"/><rect x="891.9" y="933.93" width="9.3" height="30.13" fill="#cbd9e6"/><rect x="900.9" y="933.93" width="9.3" height="30.13" fill="#a5bbd2"/><rect x="909.9" y="933.93" width="9.3" height="30.13" fill="#a5bbd2"/><rect x="918.9" y="933.93" width="9.3" height="30.13" fill="#84a0c0"/><rect x="927.9" y="933.93" width="9.3" height="30.13" fill="#84a0c0"/><rect x="936.9" y="933.93" width="9.3" height="30.13" fill="#a5bbd2"/><rect x="945.9" y="933.93" width="9.3" height="30.13" fill="#a5bbd2"/><rect x="954.9" y="933.93" width="9.3" height="30.13" fill="#cbd9e6"/><rect x="963.9" y="933.93" width="9.3" height="30.13" fill="#fefcf9"/><rect x="972.9" y="933.93" width="9.3" height="30.13" fill="#fefcf9"/><rect x="981.9" y="933.93" width="9.3" height="30.13" fill="#a5bbd2"/><rect x="990.9" y="933.93" width="9.3" height="30.13" fill="#eaeff5"/><rect x="999.9" y="933.93" width="9.3" height="30.13" fill="#a5bbd2"/><rect x="1008.9" y="933.93" width="9.3" height="30.13" fill="#84a0c0"/><rect x="1017.9" y="933.93" width="9.3" height="30.13" fill="#a5bbd2"/><rect x="1026.9" y="933.93" width="9.3" height="30.13" fill="#cbd9e6"/><rect x="1035.9" y="933.93" width="9.3" height="30.13" fill="#a5bbd2"/><rect x="1044.9" y="933.93" width="9.3" height="30.13" fill="#cbd9e6"/><rect x="1053.9" y="933.93" width="9.3" height="30.13" fill="#a5bbd2"/><rect x="1062.9" y="933.93" width="9.3" height="30.13" fill="#a5bbd2"/><rect x="1071.9" y="933.93" width="9.3" height="30.13" fill="#a5bbd2"/><rect x="1080.9" y="933.93" width="9.3" height="30.13" fill="#cbd9e6"/><rect x="1089.9" y="933.93" width="9.3" height="30.13" fill="#a5bbd2"/><rect x="1098.9" y="933.93" width="9.3" height="30.13" fill="#a5bbd2"/><rect x="1107.9" y="933.93" width="9.3" height="30.13" fill="#84a0c0"/><rect x="1116.9" y="933.93" width="9.3" height="30.13" fill="#eaeff5"/><rect x="1125.9" y="933.93" width="9.3" height="30.13" fill="#5c7ea8"/><rect x="1134.9" y="933.93" width="9.3" height="30.13" fill="#84a0c0"/><rect x="1143.9" y="933.93" width="9.3" height="30.13" fill="#a5bbd2"/><rect x="1152.9" y="933.93" width="9.3" height="30.13" fill="#a5bbd2"/><rect x="1161.9" y="933.93" width="9.3" height="30.13" fill="#5c7ea8"/><rect x="1170.9" y="933.93" width="9.3" height="30.13" fill="#a5bbd2"/><rect x="1179.9" y="933.93" width="9.3" height="30.13" fill="#a5bbd2"/><rect x="1188.9" y="933.93" width="9.3" height="30.13" fill="#eaeff5"/><rect x="1197.9" y="933.93" width="9.3" height="30.13" fill="#84a0c0"/><rect x="1206.9" y="933.93" width="9.3" height="30.13" fill="#fefcf9"/><rect x="1215.9" y="933.93" width="9.3" height="30.13" fill="#a5bbd2"/><rect x="1224.9" y="933.93" width="9.3" height="30.13" fill="#cbd9e6"/><rect x="1233.9" y="933.93" width="9.3" height="30.13" fill="#a5bbd2"/><rect x="1242.9" y="933.93" width="9.3" height="30.13" fill="#a5bbd2"/><rect x="1251.9" y="933.93" width="9.3" height="30.13" fill="#a5bbd2"/><rect x="1260.9" y="933.93" width="9.3" height="30.13" fill="#a5bbd2"/><rect x="1269.9" y="933.93" width="9.3" height="30.13" fill="#fefcf9"/><rect x="1278.9" y="933.93" width="9.3" height="30.13" fill="#a5bbd2"/><rect x="1287.9" y="933.93" width="9.3" height="30.13" fill="#a5bbd2"/><rect x="1296.9" y="933.93" width="9.3" height="30.13" fill="#a5bbd2"/><rect x="1305.9" y="933.93" width="9.3" height="30.13" fill="#5c7ea8"/><rect x="1314.9" y="933.93" width="9.3" height="30.13" fill="#84a0c0"/><rect x="1323.9" y="933.93" width="9.3" height="30.13" fill="#a5bbd2"/><rect x="1332.9" y="933.93" width="9.3" height="30.13" fill="#a5bbd2"/><rect x="1341.9" y="933.93" width="9.3" height="30.13" fill="#84a0c0"/><rect x="1350.9" y="933.93" width="9.3" height="30.13" fill="#84a0c0"/><rect x="1359.9" y="933.93" width="9.3" height="30.13" fill="#84a0c0"/><rect x="1368.9" y="933.93" width="9.3" height="30.13" fill="#cbd9e6"/><rect x="1377.9" y="933.93" width="9.3" height="30.13" fill="#84a0c0"/><rect x="1386.9" y="933.93" width="9.3" height="30.13" fill="#84a0c0"/><rect x="1395.9" y="933.93" width="9.3" height="30.13" fill="#84a0c0"/><rect x="1404.9" y="933.93" width="9.3" height="30.13" fill="#84a0c0"/><rect x="1413.9" y="933.93" width="9.3" height="30.13" fill="#84a0c0"/><rect x="1422.9" y="933.93" width="9.3" height="30.13" fill="#a5bbd2"/><rect x="1431.9" y="933.93" width="9.3" height="30.13" fill="#84a0c0"/><rect x="1440.9" y="933.93" width="9.3" height="30.13" fill="#84a0c0"/><rect x="1449.9" y="933.93" width="9.3" height="30.13" fill="#84a0c0"/><rect x="1458.9" y="933.93" width="9.3" height="30.13" fill="#a5bbd2"/><rect x="1467.9" y="933.93" width="9.3" height="30.13" fill="#84a0c0"/><rect x="1476.9" y="933.93" width="9.3" height="30.13" fill="#84a0c0"/><rect x="1485.9" y="933.93" width="9.3" height="30.13" fill="#84a0c0"/><rect x="1494.9" y="933.93" width="9.3" height="30.13" fill="#a5bbd2"/><rect x="1503.9" y="933.93" width="9.3" height="30.13" fill="#a5bbd2"/><rect x="1512.9" y="933.93" width="9.3" height="30.13" fill="#84a0c0"/><rect x="1521.9" y="933.93" width="9.3" height="30.13" fill="#5c7ea8"/><rect x="1530.9" y="933.93" width="9.3" height="30.13" fill="#84a0c0"/><rect x="1539.9" y="933.93" width="9.3" height="30.13" fill="#84a0c0"/><rect x="1548.9" y="933.93" width="9.3" height="30.13" fill="#84a0c0"/><rect x="1557.9" y="933.93" width="9.3" height="30.13" fill="#a5bbd2"/><rect x="1566.9" y="933.93" width="9.3" height="30.13" fill="#84a0c0"/><rect x="1575.9" y="933.93" width="9.3" height="30.13" fill="#84a0c0"/><rect x="1584.9" y="933.93" width="9.3" height="30.13" fill="#84a0c0"/><rect x="1593.9" y="933.93" width="9.3" height="30.13" fill="#84a0c0"/><rect x="1602.9" y="933.93" width="9.3" height="30.13" fill="#84a0c0"/><rect x="792.9" y="963.77" width="9.3" height="30.13" fill="#a5bbd2"/><rect x="801.9" y="963.77" width="9.3" height="30.13" fill="#a5bbd2"/><rect x="810.9" y="963.77" width="9.3" height="30.13" fill="#84a0c0"/><rect x="819.9" y="963.77" width="9.3" height="30.13" fill="#cbd9e6"/><rect x="828.9" y="963.77" width="9.3" height="30.13" fill="#cbd9e6"/><rect x="837.9" y="963.77" width="9.3" height="30.13" fill="#eaeff5"/><rect x="846.9" y="963.77" width="9.3" height="30.13" fill="#a5bbd2"/><rect x="855.9" y="963.77" width="9.3" height="30.13" fill="#cbd9e6"/><rect x="864.9" y="963.77" width="9.3" height="30.13" fill="#a5bbd2"/><rect x="873.9" y="963.77" width="9.3" height="30.13" fill="#a5bbd2"/><rect x="882.9" y="963.77" width="9.3" height="30.13" fill="#84a0c0"/><rect x="891.9" y="963.77" width="9.3" height="30.13" fill="#cbd9e6"/><rect x="900.9" y="963.77" width="9.3" height="30.13" fill="#a5bbd2"/><rect x="909.9" y="963.77" width="9.3" height="30.13" fill="#a5bbd2"/><rect x="918.9" y="963.77" width="9.3" height="30.13" fill="#84a0c0"/><rect x="927.9" y="963.77" width="9.3" height="30.13" fill="#84a0c0"/><rect x="936.9" y="963.77" width="9.3" height="30.13" fill="#a5bbd2"/><rect x="945.9" y="963.77" width="9.3" height="30.13" fill="#a5bbd2"/><rect x="954.9" y="963.77" width="9.3" height="30.13" fill="#cbd9e6"/><rect x="963.9" y="963.77" width="9.3" height="30.13" fill="#cbd9e6"/><rect x="972.9" y="963.77" width="9.3" height="30.13" fill="#fefcf9"/><rect x="981.9" y="963.77" width="9.3" height="30.13" fill="#a5bbd2"/><rect x="990.9" y="963.77" width="9.3" height="30.13" fill="#eaeff5"/><rect x="999.9" y="963.77" width="9.3" height="30.13" fill="#a5bbd2"/><rect x="1008.9" y="963.77" width="9.3" height="30.13" fill="#a5bbd2"/><rect x="1017.9" y="963.77" width="9.3" height="30.13" fill="#84a0c0"/><rect x="1026.9" y="963.77" width="9.3" height="30.13" fill="#fefcf9"/><rect x="1035.9" y="963.77" width="9.3" height="30.13" fill="#a5bbd2"/><rect x="1044.9" y="963.77" width="9.3" height="30.13" fill="#cbd9e6"/><rect x="1053.9" y="963.77" width="9.3" height="30.13" fill="#cbd9e6"/><rect x="1062.9" y="963.77" width="9.3" height="30.13" fill="#a5bbd2"/><rect x="1071.9" y="963.77" width="9.3" height="30.13" fill="#a5bbd2"/><rect x="1080.9" y="963.77" width="9.3" height="30.13" fill="#eaeff5"/><rect x="1089.9" y="963.77" width="9.3" height="30.13" fill="#a5bbd2"/><rect x="1098.9" y="963.77" width="9.3" height="30.13" fill="#a5bbd2"/><rect x="1107.9" y="963.77" width="9.3" height="30.13" fill="#5c7ea8"/><rect x="1116.9" y="963.77" width="9.3" height="30.13" fill="#cbd9e6"/><rect x="1125.9" y="963.77" width="9.3" height="30.13" fill="#5c7ea8"/><rect x="1134.9" y="963.77" width="9.3" height="30.13" fill="#cbd9e6"/><rect x="1143.9" y="963.77" width="9.3" height="30.13" fill="#84a0c0"/><rect x="1152.9" y="963.77" width="9.3" height="30.13" fill="#84a0c0"/><rect x="1161.9" y="963.77" width="9.3" height="30.13" fill="#5c7ea8"/><rect x="1170.9" y="963.77" width="9.3" height="30.13" fill="#a5bbd2"/><rect x="1179.9" y="963.77" width="9.3" height="30.13" fill="#5c7ea8"/><rect x="1188.9" y="963.77" width="9.3" height="30.13" fill="#84a0c0"/><rect x="1197.9" y="963.77" width="9.3" height="30.13" fill="#84a0c0"/><rect x="1206.9" y="963.77" width="9.3" height="30.13" fill="#eaeff5"/><rect x="1215.9" y="963.77" width="9.3" height="30.13" fill="#a5bbd2"/><rect x="1224.9" y="963.77" width="9.3" height="30.13" fill="#a5bbd2"/><rect x="1233.9" y="963.77" width="9.3" height="30.13" fill="#a5bbd2"/><rect x="1242.9" y="963.77" width="9.3" height="30.13" fill="#a5bbd2"/><rect x="1251.9" y="963.77" width="9.3" height="30.13" fill="#a5bbd2"/><rect x="1260.9" y="963.77" width="9.3" height="30.13" fill="#a5bbd2"/><rect x="1269.9" y="963.77" width="9.3" height="30.13" fill="#eaeff5"/><rect x="1278.9" y="963.77" width="9.3" height="30.13" fill="#a5bbd2"/><rect x="1287.9" y="963.77" width="9.3" height="30.13" fill="#a5bbd2"/><rect x="1296.9" y="963.77" width="9.3" height="30.13" fill="#a5bbd2"/><rect x="1305.9" y="963.77" width="9.3" height="30.13" fill="#cbd9e6"/><rect x="1314.9" y="963.77" width="9.3" height="30.13" fill="#fefcf9"/><rect x="1323.9" y="963.77" width="9.3" height="30.13" fill="#84a0c0"/><rect x="1332.9" y="963.77" width="9.3" height="30.13" fill="#cbd9e6"/><rect x="1341.9" y="963.77" width="9.3" height="30.13" fill="#84a0c0"/><rect x="1350.9" y="963.77" width="9.3" height="30.13" fill="#5c7ea8"/><rect x="1359.9" y="963.77" width="9.3" height="30.13" fill="#5c7ea8"/><rect x="1368.9" y="963.77" width="9.3" height="30.13" fill="#84a0c0"/><rect x="1377.9" y="963.77" width="9.3" height="30.13" fill="#84a0c0"/><rect x="1386.9" y="963.77" width="9.3" height="30.13" fill="#5c7ea8"/><rect x="1395.9" y="963.77" width="9.3" height="30.13" fill="#5c7ea8"/><rect x="1404.9" y="963.77" width="9.3" height="30.13" fill="#5c7ea8"/><rect x="1413.9" y="963.77" width="9.3" height="30.13" fill="#5c7ea8"/><rect x="1422.9" y="963.77" width="9.3" height="30.13" fill="#5c7ea8"/><rect x="1431.9" y="963.77" width="9.3" height="30.13" fill="#84a0c0"/><rect x="1440.9" y="963.77" width="9.3" height="30.13" fill="#84a0c0"/><rect x="1449.9" y="963.77" width="9.3" height="30.13" fill="#5c7ea8"/><rect x="1458.9" y="963.77" width="9.3" height="30.13" fill="#a5bbd2"/><rect x="1467.9" y="963.77" width="9.3" height="30.13" fill="#84a0c0"/><rect x="1476.9" y="963.77" width="9.3" height="30.13" fill="#5c7ea8"/><rect x="1485.9" y="963.77" width="9.3" height="30.13" fill="#84a0c0"/><rect x="1494.9" y="963.77" width="9.3" height="30.13" fill="#a5bbd2"/><rect x="1503.9" y="963.77" width="9.3" height="30.13" fill="#a5bbd2"/><rect x="1512.9" y="963.77" width="9.3" height="30.13" fill="#5c7ea8"/><rect x="1521.9" y="963.77" width="9.3" height="30.13" fill="#fefcf9"/><rect x="1530.9" y="963.77" width="9.3" height="30.13" fill="#5c7ea8"/><rect x="1539.9" y="963.77" width="9.3" height="30.13" fill="#5c7ea8"/><rect x="1548.9" y="963.77" width="9.3" height="30.13" fill="#5c7ea8"/><rect x="1557.9" y="963.77" width="9.3" height="30.13" fill="#5c7ea8"/><rect x="1566.9" y="963.77" width="9.3" height="30.13" fill="#cbd9e6"/><rect x="1575.9" y="963.77" width="9.3" height="30.13" fill="#5c7ea8"/><rect x="1584.9" y="963.77" width="9.3" height="30.13" fill="#84a0c0"/><rect x="1593.9" y="963.77" width="9.3" height="30.13" fill="#5c7ea8"/><rect x="1602.9" y="963.77" width="9.3" height="30.13" fill="#a5bbd2"/>
<rect x="791.8" y="634.4" width="820.6" height="360.4" fill="none" stroke="#000" stroke-width="2.6"/>
<rect x="734.4" y="632.8" width="31.2" height="29.73" fill="#dc3c49" stroke="#000" stroke-width="1.2"/>
<rect x="734.4" y="662.53" width="31.2" height="29.73" fill="#dc3c49" stroke="#000" stroke-width="1.2"/>
<rect x="734.4" y="692.27" width="31.2" height="29.73" fill="#dc3c49" stroke="#000" stroke-width="1.2"/>
<rect x="734.4" y="722" width="31.2" height="29.73" fill="#dc3c49" stroke="#000" stroke-width="1.2"/>
<rect x="734.4" y="751.73" width="31.2" height="29.73" fill="#dc3c49" stroke="#000" stroke-width="1.2"/>
<rect x="734.4" y="781.47" width="31.2" height="29.73" fill="#dc3c49" stroke="#000" stroke-width="1.2"/>
<rect x="734.4" y="811.2" width="31.2" height="29.73" fill="#3f2de6" stroke="#000" stroke-width="1.2"/>
<rect x="734.4" y="840.93" width="31.2" height="29.73" fill="#3f2de6" stroke="#000" stroke-width="1.2"/>
<rect x="734.4" y="870.67" width="31.2" height="29.73" fill="#3f2de6" stroke="#000" stroke-width="1.2"/>
<rect x="734.4" y="900.4" width="31.2" height="29.73" fill="#3f2de6" stroke="#000" stroke-width="1.2"/>
<rect x="734.4" y="930.13" width="31.2" height="29.73" fill="#3f2de6" stroke="#000" stroke-width="1.2"/>
<rect x="734.4" y="959.87" width="31.2" height="29.73" fill="#3f2de6" stroke="#000" stroke-width="1.2"/>
<text x="1630.1" y="600.9" font-size="23.9">Class</text>
<line x1="1630.9" y1="613.5" x2="1695.2" y2="613.5" stroke="#000" stroke-width="2.7" stroke-linecap="round"/>
<rect x="1631.1" y="632.9" width="30.6" height="29.6" fill="#2a3e57" stroke="#000" stroke-width="3"/>
<text x="1674.4" y="653.5" font-size="23.9">DG</text>
<rect x="1736.2" y="632.9" width="30.6" height="29.6" fill="#86a985" stroke="#000" stroke-width="3"/>
<text x="1774.5" y="655.8" font-size="23.9">PA</text>
<rect x="1838.8" y="632.9" width="30.6" height="29.6" fill="#cfd9c5" stroke="#000" stroke-width="3"/>
<text x="1881.3" y="655.8" font-size="23.9">PC</text>
<rect x="1631.1" y="676.8" width="30.6" height="29.6" fill="#a54555" stroke="#000" stroke-width="3"/>
<text x="1674.4" y="699.7" font-size="23.9">PE</text>
<rect x="1736.2" y="676.8" width="30.6" height="29.6" fill="#c28872" stroke="#000" stroke-width="3"/>
<text x="1774.5" y="696.8" font-size="23.9">PG</text>
<rect x="1838.8" y="676.8" width="30.6" height="29.6" fill="#dbc4bd" stroke="#000" stroke-width="3"/>
<text x="1881.3" y="699.7" font-size="23.9">Non-lipid</text>
<text x="1630.1" y="791.6" font-size="23.9">Group</text>
<line x1="1630.9" y1="804.2" x2="1695.2" y2="804.2" stroke="#000" stroke-width="2.7" stroke-linecap="round"/>
<rect x="1631.1" y="819.6" width="30.6" height="29.6" fill="#d83a48" stroke="#000" stroke-width="3"/>
<text x="1674.4" y="842" font-size="23.9">NR4A1-KO</text>
<rect x="1837.3" y="819.6" width="30.6" height="29.6" fill="#3f2ce0" stroke="#000" stroke-width="3"/>
<text x="1877.5" y="842" font-size="23.9">Ctrl</text>
<text x="1630.1" y="922.1" font-size="23.9">Z-score</text>
<line x1="1631.4" y1="936.8" x2="1709.4" y2="936.8" stroke="#000" stroke-width="2.7" stroke-linecap="round"/>
<defs><linearGradient id="cbe" x1="0" x2="1" y1="0" y2="0"><stop offset="0" stop-color="#2f5590"/><stop offset="0.23" stop-color="#7d9bbd"/><stop offset="0.455" stop-color="#ffffff"/><stop offset="0.72" stop-color="#f1c7a0"/><stop offset="1" stop-color="#e8873c"/></linearGradient></defs>
<rect x="1631.9" y="950.8" width="167" height="21.8" fill="url(#cbe)" stroke="#000" stroke-width="2.8"/>
<line x1="1638.1" y1="952" x2="1638.1" y2="955.6" stroke="#000" stroke-width="2.4"/>
<line x1="1638.1" y1="967.8" x2="1638.1" y2="971.4" stroke="#000" stroke-width="2.4"/>
<text x="1638.7" y="997.1" font-size="22.5" text-anchor="middle">-2</text>
<line x1="1673.1" y1="952" x2="1673.1" y2="955.6" stroke="#000" stroke-width="2.4"/>
<line x1="1673.1" y1="967.8" x2="1673.1" y2="971.4" stroke="#000" stroke-width="2.4"/>
<text x="1673.7" y="997.1" font-size="22.5" text-anchor="middle">-1</text>
<line x1="1707.8" y1="952" x2="1707.8" y2="955.6" stroke="#000" stroke-width="2.4"/>
<line x1="1707.8" y1="967.8" x2="1707.8" y2="971.4" stroke="#000" stroke-width="2.4"/>
<text x="1707.8" y="997.1" font-size="22.5" text-anchor="middle">0</text>
<line x1="1742.1" y1="952" x2="1742.1" y2="955.6" stroke="#000" stroke-width="2.4"/>
<line x1="1742.1" y1="967.8" x2="1742.1" y2="971.4" stroke="#000" stroke-width="2.4"/>
<text x="1742.1" y="997.1" font-size="22.5" text-anchor="middle">1</text>
<line x1="1776.4" y1="952" x2="1776.4" y2="955.6" stroke="#000" stroke-width="2.4"/>
<line x1="1776.4" y1="967.8" x2="1776.4" y2="971.4" stroke="#000" stroke-width="2.4"/>
<text x="1776.4" y="997.1" font-size="22.5" text-anchor="middle">2</text>
</g>
<g id="panel_f">
<text x="1.5" y="1046" font-size="43" font-weight="bold">f</text>
<line x1="112.4" y1="1055.5" x2="112.4" y2="1413.8" stroke="#000" stroke-width="2.3"/>
<line x1="111.3" y1="1412.7" x2="470.3" y2="1412.7" stroke="#000" stroke-width="2.3"/>
<line x1="106.5" y1="1397.9" x2="112.6" y2="1397.9" stroke="#000" stroke-width="2.4"/>
<text x="95.5" y="1406.3" text-anchor="end">0</text>
<line x1="106.5" y1="1321.97" x2="112.6" y2="1321.97" stroke="#000" stroke-width="2.4"/>
<text x="95.5" y="1330.37" text-anchor="end">1</text>
<line x1="106.5" y1="1246.04" x2="112.6" y2="1246.04" stroke="#000" stroke-width="2.4"/>
<text x="95.5" y="1254.44" text-anchor="end">2</text>
<line x1="106.5" y1="1170.11" x2="112.6" y2="1170.11" stroke="#000" stroke-width="2.4"/>
<text x="95.5" y="1178.51" text-anchor="end">3</text>
<line x1="106.5" y1="1094.18" x2="112.6" y2="1094.18" stroke="#000" stroke-width="2.4"/>
<text x="95.5" y="1102.58" text-anchor="end">4</text>
<line x1="123.6" y1="1412.7" x2="123.6" y2="1419.5" stroke="#000" stroke-width="2.4"/>
<text x="123.6" y="1448" text-anchor="middle">0</text>
<line x1="181.16" y1="1412.7" x2="181.16" y2="1416.6" stroke="#000" stroke-width="2"/>
<line x1="238.73" y1="1412.7" x2="238.73" y2="1419.5" stroke="#000" stroke-width="2.4"/>
<text x="238.73" y="1448" text-anchor="middle">0.1</text>
<line x1="296.29" y1="1412.7" x2="296.29" y2="1416.6" stroke="#000" stroke-width="2"/>
<line x1="353.86" y1="1412.7" x2="353.86" y2="1419.5" stroke="#000" stroke-width="2.4"/>
<text x="353.86" y="1448" text-anchor="middle">0.2</text>
<line x1="411.42" y1="1412.7" x2="411.42" y2="1416.6" stroke="#000" stroke-width="2"/>
<line x1="468.99" y1="1412.7" x2="468.99" y2="1419.5" stroke="#000" stroke-width="2.4"/>
<text x="468.99" y="1448" text-anchor="middle">0.3</text>
<text x="290.8" y="1487.8" text-anchor="middle">Impact</text>
<text transform="translate(62 1235) rotate(-90)" text-anchor="middle">-log<tspan font-size="13.5" dy="4">10</tspan><tspan dy="-4"> FDR</tspan></text>
<circle cx="372.4" cy="1136.1" r="19.3" fill="#f3f17a" fill-opacity="1" stroke="#000" stroke-width="1.4"/>
<circle cx="167.1" cy="1323.2" r="15" fill="#8fdcc0" fill-opacity="1" stroke="#000" stroke-width="1.4"/>
<circle cx="123.6" cy="1287.3" r="10.4" fill="#7b7fc8" fill-opacity="0.85" stroke="#000" stroke-width="1.4"/>
<circle cx="121.6" cy="1290" r="8.8" fill="#5b4fa8" fill-opacity="0.8" stroke="#000" stroke-width="1.4"/>
<circle cx="127.7" cy="1301.7" r="12.4" fill="#6f93bd" fill-opacity="0.8" stroke="#000" stroke-width="1.4"/>
<circle cx="123.9" cy="1325.4" r="9.5" fill="#a79fd3" fill-opacity="0.95" stroke="#000" stroke-width="1.4"/>
<circle cx="125.2" cy="1348.4" r="5.8" fill="#9f6fb8" fill-opacity="1" stroke="#000" stroke-width="1.4"/>
<circle cx="159.9" cy="1375.2" r="7.4" fill="#a982c6" fill-opacity="1" stroke="#000" stroke-width="1.4"/>
<text x="201.8" y="1177.2" font-size="20.05">Glycerophospholipid metabolism</text>
<text x="119.8" y="1272.4" font-size="20.05">Linoleic acid metabolism</text>
<text x="136.2" y="1356.9" font-size="20.05">Sphingolipid metabolism</text>
<text x="157.7" y="1399.5" font-size="20.05">Steroid hormone biosynthesis</text>
</g>
<g id="panel_g">
<text x="590.6" y="1049.6" font-size="43" font-weight="bold">g</text>
<text x="765" y="1079.4" font-size="23.3" text-anchor="middle">Fatty acid uptake</text>
<path d="M791.91 1240 L797.51 1239.36 L803.9 1237.12 L807.9 1232.32 L811.9 1222.73 L816.7 1201.94 L821.49 1173.16 L826.29 1142.77 L829.49 1125.18 L831.41 1117.99 L833.01 1113.99 L834.29 1117.19 L835.41 1118.46 L836.69 1116.39 L837.8 1121.18 L839.08 1126.78 L842.28 1142.77 L845.48 1161.96 L850.28 1185.95 L855.08 1206.74 L859.87 1222.73 L864.67 1232.32 L871.07 1237.92 L875.86 1240 Z" fill="#bdbdbd" stroke="none" stroke-width="0" fill-opacity="0.9"/>
<path d="M633 1240 L791.91 1240 L797.51 1239.36 L803.9 1237.12 L807.9 1232.32 L811.9 1222.73 L816.7 1201.94 L821.49 1173.16 L826.29 1142.77 L829.49 1125.18 L831.41 1117.99 L833.01 1113.99 L834.29 1117.19 L835.41 1118.46 L836.69 1116.39 L837.8 1121.18 L839.08 1126.78 L842.28 1142.77 L845.48 1161.96 L850.28 1185.95 L855.08 1206.74 L859.87 1222.73 L864.67 1232.32 L871.07 1237.92 L875.86 1240 L899 1240" fill="none" stroke="#7a7a7a" stroke-width="0.9"/>
<path d="M788.71 1307.17 L795.91 1306.21 L803.9 1305.09 L810.3 1303.49 L815.1 1301.09 L819.09 1297.09 L821.49 1293.09 L823.89 1285.1 L826.29 1273.9 L828.69 1257.91 L831.09 1241.92 L834.29 1217.93 L837.49 1198.74 L839.88 1189.15 L841.48 1184.35 L843.08 1181.47 L844.68 1180.83 L846.28 1181.95 L847.88 1184.35 L849.16 1192.35 L850.28 1198.74 L851.88 1204.34 L853.48 1211.54 L856.68 1229.13 L859.87 1249.92 L864.67 1273.9 L869.47 1291.49 L874.27 1301.09 L880.66 1305.89 L885.46 1307.49 Z" fill="#f3c98f" stroke="none" stroke-width="0" fill-opacity="0.72"/>
<path d="M633 1307.5 L788.71 1307.17 L795.91 1306.21 L803.9 1305.09 L810.3 1303.49 L815.1 1301.09 L819.09 1297.09 L821.49 1293.09 L823.89 1285.1 L826.29 1273.9 L828.69 1257.91 L831.09 1241.92 L834.29 1217.93 L837.49 1198.74 L839.88 1189.15 L841.48 1184.35 L843.08 1181.47 L844.68 1180.83 L846.28 1181.95 L847.88 1184.35 L849.16 1192.35 L850.28 1198.74 L851.88 1204.34 L853.48 1211.54 L856.68 1229.13 L859.87 1249.92 L864.67 1273.9 L869.47 1291.49 L874.27 1301.09 L880.66 1305.89 L885.46 1307.49 L899 1307.5" fill="none" stroke="#f0943a" stroke-width="1.1"/>
<path d="M800.7 1372.25 L807.1 1370.97 L811.9 1369.05 L815.9 1365.85 L818.3 1363.46 L820.69 1361.86 L823.09 1357.06 L825.49 1353.86 L827.89 1349.06 L831.09 1339.47 L834.29 1326.68 L837.49 1310.68 L840.68 1293.09 L843.88 1277.1 L847.08 1265.91 L850.28 1259.51 L852.68 1257.11 L854.28 1256.31 L855.88 1253.91 L857.15 1251.83 L858.11 1253.91 L859.07 1257.91 L861.47 1267.51 L864.67 1280.3 L867.87 1302.69 L871.07 1326.68 L874.27 1347.46 L877.46 1361.86 L879.86 1368.25 L882.26 1372.25 Z" fill="#5b8ac6" stroke="none" stroke-width="0" fill-opacity="0.7"/>
<path d="M800.7 1372.25 L807.1 1370.97 L811.9 1369.05 L815.9 1365.85 L818.3 1363.46 L820.69 1361.86 L823.09 1357.06 L825.49 1353.86 L827.89 1349.06 L831.09 1339.47 L834.29 1326.68 L837.49 1310.68 L840.68 1293.09 L843.88 1277.1 L847.08 1265.91 L850.28 1259.51 L852.68 1257.11 L854.28 1256.31 L855.88 1253.91 L857.15 1251.83 L858.11 1253.91 L859.07 1257.91 L861.47 1267.51 L864.67 1280.3 L867.87 1302.69 L871.07 1326.68 L874.27 1347.46 L877.46 1361.86 L879.86 1368.25 L882.26 1372.25" fill="none" stroke="#2f5fb8" stroke-width="1.1"/>
<line x1="827.5" y1="1105" x2="827.5" y2="1372" stroke="#000" stroke-width="2.3" stroke-dasharray="2.3 2.2"/>
<path d="M631.3 1374.8 L631.3 1100.9 L900.4 1100.9 L900.4 1374.8" fill="none" stroke="#000" stroke-width="3.3"/>
<line x1="629.7" y1="1373.6" x2="902" y2="1373.6" stroke="#000" stroke-width="2.2"/>
<line x1="631" y1="1373" x2="631" y2="1380" stroke="#000" stroke-width="1.6"/><line x1="645.87" y1="1373" x2="645.87" y2="1377" stroke="#000" stroke-width="0.9"/><line x1="654.57" y1="1373" x2="654.57" y2="1377" stroke="#000" stroke-width="0.9"/><line x1="660.74" y1="1373" x2="660.74" y2="1377" stroke="#000" stroke-width="0.9"/><line x1="665.53" y1="1373" x2="665.53" y2="1377" stroke="#000" stroke-width="0.9"/><line x1="669.44" y1="1373" x2="669.44" y2="1377" stroke="#000" stroke-width="0.9"/><line x1="672.75" y1="1373" x2="672.75" y2="1377" stroke="#000" stroke-width="0.9"/><line x1="675.61" y1="1373" x2="675.61" y2="1377" stroke="#000" stroke-width="0.9"/><line x1="678.14" y1="1373" x2="678.14" y2="1377" stroke="#000" stroke-width="0.9"/><line x1="680.4" y1="1373" x2="680.4" y2="1380" stroke="#000" stroke-width="1.6"/><line x1="695.27" y1="1373" x2="695.27" y2="1377" stroke="#000" stroke-width="0.9"/><line x1="703.97" y1="1373" x2="703.97" y2="1377" stroke="#000" stroke-width="0.9"/><line x1="710.14" y1="1373" x2="710.14" y2="1377" stroke="#000" stroke-width="0.9"/><line x1="714.93" y1="1373" x2="714.93" y2="1377" stroke="#000" stroke-width="0.9"/><line x1="718.84" y1="1373" x2="718.84" y2="1377" stroke="#000" stroke-width="0.9"/><line x1="722.15" y1="1373" x2="722.15" y2="1377" stroke="#000" stroke-width="0.9"/><line x1="725.01" y1="1373" x2="725.01" y2="1377" stroke="#000" stroke-width="0.9"/><line x1="727.54" y1="1373" x2="727.54" y2="1377" stroke="#000" stroke-width="0.9"/><line x1="729.8" y1="1373" x2="729.8" y2="1380" stroke="#000" stroke-width="1.6"/><line x1="744.67" y1="1373" x2="744.67" y2="1377" stroke="#000" stroke-width="0.9"/><line x1="753.37" y1="1373" x2="753.37" y2="1377" stroke="#000" stroke-width="0.9"/><line x1="759.54" y1="1373" x2="759.54" y2="1377" stroke="#000" stroke-width="0.9"/><line x1="764.33" y1="1373" x2="764.33" y2="1377" stroke="#000" stroke-width="0.9"/><line x1="768.24" y1="1373" x2="768.24" y2="1377" stroke="#000" stroke-width="0.9"/><line x1="771.55" y1="1373" x2="771.55" y2="1377" stroke="#000" stroke-width="0.9"/><line x1="774.41" y1="1373" x2="774.41" y2="1377" stroke="#000" stroke-width="0.9"/><line x1="776.94" y1="1373" x2="776.94" y2="1377" stroke="#000" stroke-width="0.9"/><line x1="779.2" y1="1373" x2="779.2" y2="1380" stroke="#000" stroke-width="1.6"/><line x1="794.07" y1="1373" x2="794.07" y2="1377" stroke="#000" stroke-width="0.9"/><line x1="802.77" y1="1373" x2="802.77" y2="1377" stroke="#000" stroke-width="0.9"/><line x1="808.94" y1="1373" x2="808.94" y2="1377" stroke="#000" stroke-width="0.9"/><line x1="813.73" y1="1373" x2="813.73" y2="1377" stroke="#000" stroke-width="0.9"/><line x1="817.64" y1="1373" x2="817.64" y2="1377" stroke="#000" stroke-width="0.9"/><line x1="820.95" y1="1373" x2="820.95" y2="1377" stroke="#000" stroke-width="0.9"/><line x1="823.81" y1="1373" x2="823.81" y2="1377" stroke="#000" stroke-width="0.9"/><line x1="826.34" y1="1373" x2="826.34" y2="1377" stroke="#000" stroke-width="0.9"/><line x1="828.6" y1="1373" x2="828.6" y2="1380" stroke="#000" stroke-width="1.6"/><line x1="843.47" y1="1373" x2="843.47" y2="1377" stroke="#000" stroke-width="0.9"/><line x1="852.17" y1="1373" x2="852.17" y2="1377" stroke="#000" stroke-width="0.9"/><line x1="858.34" y1="1373" x2="858.34" y2="1377" stroke="#000" stroke-width="0.9"/><line x1="863.13" y1="1373" x2="863.13" y2="1377" stroke="#000" stroke-width="0.9"/><line x1="867.04" y1="1373" x2="867.04" y2="1377" stroke="#000" stroke-width="0.9"/><line x1="870.35" y1="1373" x2="870.35" y2="1377" stroke="#000" stroke-width="0.9"/><line x1="873.21" y1="1373" x2="873.21" y2="1377" stroke="#000" stroke-width="0.9"/><line x1="875.74" y1="1373" x2="875.74" y2="1377" stroke="#000" stroke-width="0.9"/><line x1="878" y1="1373" x2="878" y2="1380" stroke="#000" stroke-width="1.6"/>
<text x="636.5" y="1395.9" font-size="10" font-weight="bold" fill="#222">10<tspan dy="-4.2" font-size="9.5">0</tspan></text>
<text x="680.7" y="1395.9" font-size="10" font-weight="bold" fill="#222">10<tspan dy="-4.2" font-size="9.5">1</tspan></text>
<text x="730.1" y="1395.9" font-size="10" font-weight="bold" fill="#222">10<tspan dy="-4.2" font-size="9.5">2</tspan></text>
<text x="779.5" y="1395.9" font-size="10" font-weight="bold" fill="#222">10<tspan dy="-4.2" font-size="9.5">3</tspan></text>
<text x="828.9" y="1395.9" font-size="10" font-weight="bold" fill="#222">10<tspan dy="-4.2" font-size="9.5">4</tspan></text>
<text x="878.3" y="1395.9" font-size="10" font-weight="bold" fill="#222">10<tspan dy="-4.2" font-size="9.5">5</tspan></text>
<text x="636.8" y="1229.1" font-size="23.6">Ctrl</text>
<text x="636.8" y="1297.9" font-size="23.6">NR4A1-KO1</text>
<text x="636.8" y="1360.6" font-size="23.6">NR4A1-KO2</text>
<line x1="633" y1="1412.6" x2="874" y2="1412.6" stroke="#000" stroke-width="4.3"/>
<path d="M893.9 1412.6 L868.7 1400.4 L876.4 1412.6 L868.7 1424.9 Z" fill="#000" stroke="none" stroke-width="0"/>
<text x="766.3" y="1448.2" text-anchor="middle">BODIPY-FL/C16</text>
<text x="1114.8" y="1075.3" text-anchor="middle">MCF7</text>
<line x1="997" y1="1086.5" x2="997" y2="1364.1" stroke="#000" stroke-width="3"/>
<line x1="992.3" y1="1362.6" x2="1234.4" y2="1362.6" stroke="#000" stroke-width="3"/>
<line x1="992.3" y1="1362.6" x2="997" y2="1362.6" stroke="#000" stroke-width="2.8"/>
<text x="985" y="1371" text-anchor="end">0</text>
<line x1="992.3" y1="1271.07" x2="997" y2="1271.07" stroke="#000" stroke-width="2.8"/>
<text x="985" y="1279.47" text-anchor="end">10</text>
<line x1="992.3" y1="1179.54" x2="997" y2="1179.54" stroke="#000" stroke-width="2.8"/>
<text x="985" y="1187.94" text-anchor="end">20</text>
<line x1="992.3" y1="1088.01" x2="997" y2="1088.01" stroke="#000" stroke-width="2.8"/>
<text x="985" y="1096.41" text-anchor="end">30</text>
<rect x="1022.5" y="1220.27" width="44.7" height="142.33" fill="#c3c3c3" stroke="#000" stroke-width="2.8"/>
<line x1="1044.85" y1="1215.69" x2="1044.85" y2="1224.85" stroke="#000" stroke-width="2.8"/>
<line x1="1032.05" y1="1215.69" x2="1057.65" y2="1215.69" stroke="#000" stroke-width="2.8" stroke-linecap="round"/>
<line x1="1032.05" y1="1224.85" x2="1057.65" y2="1224.85" stroke="#000" stroke-width="2.8" stroke-linecap="round"/>
<line x1="1044.85" y1="1362.6" x2="1044.85" y2="1368.5" stroke="#000" stroke-width="2.8"/>
<rect x="1094.1" y="1156.66" width="44.3" height="205.94" fill="#ecb480" stroke="#000" stroke-width="2.8"/>
<line x1="1116.25" y1="1154.64" x2="1116.25" y2="1158.67" stroke="#000" stroke-width="2.8"/>
<line x1="1103.45" y1="1154.64" x2="1129.05" y2="1154.64" stroke="#000" stroke-width="2.8" stroke-linecap="round"/>
<line x1="1103.45" y1="1158.67" x2="1129.05" y2="1158.67" stroke="#000" stroke-width="2.8" stroke-linecap="round"/>
<line x1="1116.25" y1="1362.6" x2="1116.25" y2="1368.5" stroke="#000" stroke-width="2.8"/>
<text x="1116.55" y="1150.8" font-size="22.5" text-anchor="middle">**</text>
<rect x="1165.2" y="1117.76" width="44.6" height="244.84" fill="#5b7da3" stroke="#000" stroke-width="2.8"/>
<line x1="1187.5" y1="1099.63" x2="1187.5" y2="1135.88" stroke="#000" stroke-width="2.8"/>
<line x1="1174.7" y1="1099.63" x2="1200.3" y2="1099.63" stroke="#000" stroke-width="2.8" stroke-linecap="round"/>
<line x1="1174.7" y1="1135.88" x2="1200.3" y2="1135.88" stroke="#000" stroke-width="2.8" stroke-linecap="round"/>
<line x1="1187.5" y1="1362.6" x2="1187.5" y2="1368.5" stroke="#000" stroke-width="2.8"/>
<text x="1187.8" y="1099.7" font-size="22.5" text-anchor="middle">***</text>
<text transform="translate(1046.85 1394.6) rotate(-30)" font-size="24.8" text-anchor="end">Ctrl</text>
<text transform="translate(1118.25 1394.6) rotate(-30)" font-size="24.8" text-anchor="end">NR4A1-KO1</text>
<text transform="translate(1189.5 1394.6) rotate(-30)" font-size="24.8" text-anchor="end">NR4A1-KO2</text>
<text transform="translate(943.8 1224.4) rotate(-90)" font-size="23.9" text-anchor="middle">FL/C16 (MFI × 1000)</text>
</g>
<g id="panel_h">
<text x="1302.8" y="1054" font-size="43" font-weight="bold">h</text>
<text x="1485" y="1079.4" font-size="23.3" text-anchor="middle">Fatty acid uptake</text>
<path d="M1518.31 1239.2 L1526.3 1236.32 L1531.1 1229.13 L1535.1 1216.33 L1539.09 1192.35 L1542.29 1169.96 L1543.89 1153.97 L1545.49 1147.57 L1547.89 1131.58 L1550.29 1118.78 L1552.69 1111.59 L1555.09 1116.39 L1556.69 1118.78 L1558.28 1126.78 L1561.48 1144.37 L1563.88 1161.96 L1567.08 1182.75 L1570.28 1201.94 L1573.48 1217.93 L1577.47 1230.73 L1583.07 1237.12 L1589.47 1239.52 Z" fill="#bdbdbd" stroke="none" stroke-width="0" fill-opacity="0.9"/>
<path d="M1353 1240 L1518.31 1239.2 L1526.3 1236.32 L1531.1 1229.13 L1535.1 1216.33 L1539.09 1192.35 L1542.29 1169.96 L1543.89 1153.97 L1545.49 1147.57 L1547.89 1131.58 L1550.29 1118.78 L1552.69 1111.59 L1555.09 1116.39 L1556.69 1118.78 L1558.28 1126.78 L1561.48 1144.37 L1563.88 1161.96 L1567.08 1182.75 L1570.28 1201.94 L1573.48 1217.93 L1577.47 1230.73 L1583.07 1237.12 L1589.47 1239.52 L1619 1240" fill="none" stroke="#7a7a7a" stroke-width="0.9"/>
<path d="M1518.31 1306.37 L1525.5 1304.29 L1531.9 1297.89 L1536.7 1288.3 L1541.49 1273.9 L1546.29 1256.31 L1551.09 1233.92 L1555.09 1211.54 L1558.28 1192.35 L1560.68 1182.75 L1561.96 1180.35 L1563.4 1182.75 L1565.48 1192.35 L1567.88 1208.34 L1570.28 1227.53 L1572.68 1246.72 L1575.88 1267.51 L1579.87 1286.7 L1584.67 1299.49 L1589.47 1304.29 L1594.27 1306.37 Z" fill="#f3c98f" stroke="none" stroke-width="0" fill-opacity="0.72"/>
<path d="M1353 1307.5 L1518.31 1306.37 L1525.5 1304.29 L1531.9 1297.89 L1536.7 1288.3 L1541.49 1273.9 L1546.29 1256.31 L1551.09 1233.92 L1555.09 1211.54 L1558.28 1192.35 L1560.68 1182.75 L1561.96 1180.35 L1563.4 1182.75 L1565.48 1192.35 L1567.88 1208.34 L1570.28 1227.53 L1572.68 1246.72 L1575.88 1267.51 L1579.87 1286.7 L1584.67 1299.49 L1589.47 1304.29 L1594.27 1306.37 L1619 1307.5" fill="none" stroke="#f0943a" stroke-width="1.1"/>
<path d="M1537.5 1372.25 L1541.49 1366.65 L1544.69 1358.66 L1547.89 1349.06 L1551.09 1336.27 L1554.29 1320.28 L1557.49 1301.09 L1560.68 1278.7 L1563.08 1261.11 L1564.68 1253.11 L1566.76 1248.64 L1569 1251.51 L1571.08 1261.11 L1573.48 1277.1 L1575.88 1297.89 L1579.07 1318.68 L1582.27 1336.27 L1585.47 1350.66 L1588.67 1361.86 L1592.67 1372.25 Z" fill="#5b8ac6" stroke="none" stroke-width="0" fill-opacity="0.7"/>
<path d="M1537.5 1372.25 L1541.49 1366.65 L1544.69 1358.66 L1547.89 1349.06 L1551.09 1336.27 L1554.29 1320.28 L1557.49 1301.09 L1560.68 1278.7 L1563.08 1261.11 L1564.68 1253.11 L1566.76 1248.64 L1569 1251.51 L1571.08 1261.11 L1573.48 1277.1 L1575.88 1297.89 L1579.07 1318.68 L1582.27 1336.27 L1585.47 1350.66 L1588.67 1361.86 L1592.67 1372.25" fill="none" stroke="#2f5fb8" stroke-width="1.1"/>
<line x1="1551.9" y1="1105" x2="1547.4" y2="1372" stroke="#000" stroke-width="2.3" stroke-dasharray="2.3 2.2"/>
<path d="M1351.3 1374.8 L1351.3 1100.9 L1620.4 1100.9 L1620.4 1374.8" fill="none" stroke="#000" stroke-width="3.3"/>
<line x1="1349.7" y1="1373.6" x2="1622" y2="1373.6" stroke="#000" stroke-width="2.2"/>
<line x1="1351" y1="1373" x2="1351" y2="1380" stroke="#000" stroke-width="1.6"/><line x1="1365.87" y1="1373" x2="1365.87" y2="1377" stroke="#000" stroke-width="0.9"/><line x1="1374.57" y1="1373" x2="1374.57" y2="1377" stroke="#000" stroke-width="0.9"/><line x1="1380.74" y1="1373" x2="1380.74" y2="1377" stroke="#000" stroke-width="0.9"/><line x1="1385.53" y1="1373" x2="1385.53" y2="1377" stroke="#000" stroke-width="0.9"/><line x1="1389.44" y1="1373" x2="1389.44" y2="1377" stroke="#000" stroke-width="0.9"/><line x1="1392.75" y1="1373" x2="1392.75" y2="1377" stroke="#000" stroke-width="0.9"/><line x1="1395.61" y1="1373" x2="1395.61" y2="1377" stroke="#000" stroke-width="0.9"/><line x1="1398.14" y1="1373" x2="1398.14" y2="1377" stroke="#000" stroke-width="0.9"/><line x1="1400.4" y1="1373" x2="1400.4" y2="1380" stroke="#000" stroke-width="1.6"/><line x1="1415.27" y1="1373" x2="1415.27" y2="1377" stroke="#000" stroke-width="0.9"/><line x1="1423.97" y1="1373" x2="1423.97" y2="1377" stroke="#000" stroke-width="0.9"/><line x1="1430.14" y1="1373" x2="1430.14" y2="1377" stroke="#000" stroke-width="0.9"/><line x1="1434.93" y1="1373" x2="1434.93" y2="1377" stroke="#000" stroke-width="0.9"/><line x1="1438.84" y1="1373" x2="1438.84" y2="1377" stroke="#000" stroke-width="0.9"/><line x1="1442.15" y1="1373" x2="1442.15" y2="1377" stroke="#000" stroke-width="0.9"/><line x1="1445.01" y1="1373" x2="1445.01" y2="1377" stroke="#000" stroke-width="0.9"/><line x1="1447.54" y1="1373" x2="1447.54" y2="1377" stroke="#000" stroke-width="0.9"/><line x1="1449.8" y1="1373" x2="1449.8" y2="1380" stroke="#000" stroke-width="1.6"/><line x1="1464.67" y1="1373" x2="1464.67" y2="1377" stroke="#000" stroke-width="0.9"/><line x1="1473.37" y1="1373" x2="1473.37" y2="1377" stroke="#000" stroke-width="0.9"/><line x1="1479.54" y1="1373" x2="1479.54" y2="1377" stroke="#000" stroke-width="0.9"/><line x1="1484.33" y1="1373" x2="1484.33" y2="1377" stroke="#000" stroke-width="0.9"/><line x1="1488.24" y1="1373" x2="1488.24" y2="1377" stroke="#000" stroke-width="0.9"/><line x1="1491.55" y1="1373" x2="1491.55" y2="1377" stroke="#000" stroke-width="0.9"/><line x1="1494.41" y1="1373" x2="1494.41" y2="1377" stroke="#000" stroke-width="0.9"/><line x1="1496.94" y1="1373" x2="1496.94" y2="1377" stroke="#000" stroke-width="0.9"/><line x1="1499.2" y1="1373" x2="1499.2" y2="1380" stroke="#000" stroke-width="1.6"/><line x1="1514.07" y1="1373" x2="1514.07" y2="1377" stroke="#000" stroke-width="0.9"/><line x1="1522.77" y1="1373" x2="1522.77" y2="1377" stroke="#000" stroke-width="0.9"/><line x1="1528.94" y1="1373" x2="1528.94" y2="1377" stroke="#000" stroke-width="0.9"/><line x1="1533.73" y1="1373" x2="1533.73" y2="1377" stroke="#000" stroke-width="0.9"/><line x1="1537.64" y1="1373" x2="1537.64" y2="1377" stroke="#000" stroke-width="0.9"/><line x1="1540.95" y1="1373" x2="1540.95" y2="1377" stroke="#000" stroke-width="0.9"/><line x1="1543.81" y1="1373" x2="1543.81" y2="1377" stroke="#000" stroke-width="0.9"/><line x1="1546.34" y1="1373" x2="1546.34" y2="1377" stroke="#000" stroke-width="0.9"/><line x1="1548.6" y1="1373" x2="1548.6" y2="1380" stroke="#000" stroke-width="1.6"/><line x1="1563.47" y1="1373" x2="1563.47" y2="1377" stroke="#000" stroke-width="0.9"/><line x1="1572.17" y1="1373" x2="1572.17" y2="1377" stroke="#000" stroke-width="0.9"/><line x1="1578.34" y1="1373" x2="1578.34" y2="1377" stroke="#000" stroke-width="0.9"/><line x1="1583.13" y1="1373" x2="1583.13" y2="1377" stroke="#000" stroke-width="0.9"/><line x1="1587.04" y1="1373" x2="1587.04" y2="1377" stroke="#000" stroke-width="0.9"/><line x1="1590.35" y1="1373" x2="1590.35" y2="1377" stroke="#000" stroke-width="0.9"/><line x1="1593.21" y1="1373" x2="1593.21" y2="1377" stroke="#000" stroke-width="0.9"/><line x1="1595.74" y1="1373" x2="1595.74" y2="1377" stroke="#000" stroke-width="0.9"/><line x1="1598" y1="1373" x2="1598" y2="1380" stroke="#000" stroke-width="1.6"/>
<text x="1356.5" y="1395.9" font-size="10" font-weight="bold" fill="#222">10<tspan dy="-4.2" font-size="9.5">0</tspan></text>
<text x="1400.7" y="1395.9" font-size="10" font-weight="bold" fill="#222">10<tspan dy="-4.2" font-size="9.5">1</tspan></text>
<text x="1450.1" y="1395.9" font-size="10" font-weight="bold" fill="#222">10<tspan dy="-4.2" font-size="9.5">2</tspan></text>
<text x="1499.5" y="1395.9" font-size="10" font-weight="bold" fill="#222">10<tspan dy="-4.2" font-size="9.5">3</tspan></text>
<text x="1548.9" y="1395.9" font-size="10" font-weight="bold" fill="#222">10<tspan dy="-4.2" font-size="9.5">4</tspan></text>
<text x="1598.3" y="1395.9" font-size="10" font-weight="bold" fill="#222">10<tspan dy="-4.2" font-size="9.5">5</tspan></text>
<text x="1356.8" y="1229.1" font-size="23.6">Ctrl</text>
<text x="1356.8" y="1297.9" font-size="23.6">NR4A1-KO1</text>
<text x="1356.8" y="1360.6" font-size="23.6">NR4A1-KO2</text>
<line x1="1353" y1="1412.6" x2="1594" y2="1412.6" stroke="#000" stroke-width="4.3"/>
<path d="M1613.9 1412.6 L1588.7 1400.4 L1596.4 1412.6 L1588.7 1424.9 Z" fill="#000" stroke="none" stroke-width="0"/>
<text x="1486.3" y="1448.2" text-anchor="middle">BODIPY-FL/C16</text>
<text x="1829.8" y="1075.3" text-anchor="middle">T47D</text>
<line x1="1712" y1="1086.5" x2="1712" y2="1364.1" stroke="#000" stroke-width="3"/>
<line x1="1707.3" y1="1362.6" x2="1949.4" y2="1362.6" stroke="#000" stroke-width="3"/>
<line x1="1707.3" y1="1362.6" x2="1712" y2="1362.6" stroke="#000" stroke-width="2.8"/>
<text x="1700" y="1371" text-anchor="end">0</text>
<line x1="1707.3" y1="1271.07" x2="1712" y2="1271.07" stroke="#000" stroke-width="2.8"/>
<text x="1700" y="1279.47" text-anchor="end">10</text>
<line x1="1707.3" y1="1179.54" x2="1712" y2="1179.54" stroke="#000" stroke-width="2.8"/>
<text x="1700" y="1187.94" text-anchor="end">20</text>
<line x1="1707.3" y1="1088.01" x2="1712" y2="1088.01" stroke="#000" stroke-width="2.8"/>
<text x="1700" y="1096.41" text-anchor="end">30</text>
<rect x="1737.5" y="1230.34" width="44.7" height="132.26" fill="#c3c3c3" stroke="#000" stroke-width="2.8"/>
<line x1="1759.85" y1="1226.08" x2="1759.85" y2="1234.6" stroke="#000" stroke-width="2.8"/>
<line x1="1747.05" y1="1226.08" x2="1772.65" y2="1226.08" stroke="#000" stroke-width="2.8" stroke-linecap="round"/>
<line x1="1747.05" y1="1234.6" x2="1772.65" y2="1234.6" stroke="#000" stroke-width="2.8" stroke-linecap="round"/>
<line x1="1759.85" y1="1362.6" x2="1759.85" y2="1368.5" stroke="#000" stroke-width="2.8"/>
<rect x="1809.1" y="1198.58" width="44.3" height="164.02" fill="#ecb480" stroke="#000" stroke-width="2.8"/>
<line x1="1831.25" y1="1194.23" x2="1831.25" y2="1202.93" stroke="#000" stroke-width="2.8"/>
<line x1="1818.45" y1="1194.23" x2="1844.05" y2="1194.23" stroke="#000" stroke-width="2.8" stroke-linecap="round"/>
<line x1="1818.45" y1="1202.93" x2="1844.05" y2="1202.93" stroke="#000" stroke-width="2.8" stroke-linecap="round"/>
<line x1="1831.25" y1="1362.6" x2="1831.25" y2="1368.5" stroke="#000" stroke-width="2.8"/>
<text x="1831.55" y="1189.8" font-size="22.5" text-anchor="middle">**</text>
<rect x="1880.2" y="1141.1" width="44.6" height="221.5" fill="#5b7da3" stroke="#000" stroke-width="2.8"/>
<line x1="1902.5" y1="1135.42" x2="1902.5" y2="1146.77" stroke="#000" stroke-width="2.8"/>
<line x1="1889.7" y1="1135.42" x2="1915.3" y2="1135.42" stroke="#000" stroke-width="2.8" stroke-linecap="round"/>
<line x1="1889.7" y1="1146.77" x2="1915.3" y2="1146.77" stroke="#000" stroke-width="2.8" stroke-linecap="round"/>
<line x1="1902.5" y1="1362.6" x2="1902.5" y2="1368.5" stroke="#000" stroke-width="2.8"/>
<text x="1902.8" y="1124.6" font-size="22.5" text-anchor="middle">***</text>
<text transform="translate(1761.85 1394.6) rotate(-30)" font-size="24.8" text-anchor="end">Ctrl</text>
<text transform="translate(1833.25 1394.6) rotate(-30)" font-size="24.8" text-anchor="end">NR4A1-KO1</text>
<text transform="translate(1904.5 1394.6) rotate(-30)" font-size="24.8" text-anchor="end">NR4A1-KO2</text>
<text transform="translate(1658.8 1224.4) rotate(-90)" font-size="23.9" text-anchor="middle">FL/C16 (MFI × 1000)</text>
</g>
<g id="panel_i">
<text x="2.7" y="1534.3" font-size="43" font-weight="bold">i</text>
<line x1="112" y1="1571.6" x2="112" y2="1849.4" stroke="#000" stroke-width="3"/>
<line x1="107.4" y1="1847.9" x2="504" y2="1847.9" stroke="#000" stroke-width="3"/>
<line x1="107.4" y1="1847.9" x2="112" y2="1847.9" stroke="#000" stroke-width="2.8"/>
<text x="100.5" y="1856.6" font-size="24.2" text-anchor="end">0</text>
<line x1="107.4" y1="1779.18" x2="112" y2="1779.18" stroke="#000" stroke-width="2.8"/>
<text x="100.5" y="1787.88" font-size="24.2" text-anchor="end">2</text>
<line x1="107.4" y1="1710.46" x2="112" y2="1710.46" stroke="#000" stroke-width="2.8"/>
<text x="100.5" y="1719.16" font-size="24.2" text-anchor="end">4</text>
<line x1="107.4" y1="1641.74" x2="112" y2="1641.74" stroke="#000" stroke-width="2.8"/>
<text x="100.5" y="1650.44" font-size="24.2" text-anchor="end">6</text>
<line x1="107.4" y1="1573.02" x2="112" y2="1573.02" stroke="#000" stroke-width="2.8"/>
<text x="100.5" y="1581.72" font-size="24.2" text-anchor="end">8</text>
<rect x="134.7" y="1814.06" width="39.6" height="33.84" fill="#c3c3c3" stroke="#000" stroke-width="2.8"/>
<line x1="154.5" y1="1813.02" x2="154.5" y2="1815.09" stroke="#000" stroke-width="2.8"/>
<line x1="143" y1="1813.02" x2="166" y2="1813.02" stroke="#000" stroke-width="2.8" stroke-linecap="round"/>
<line x1="143" y1="1815.09" x2="166" y2="1815.09" stroke="#000" stroke-width="2.8" stroke-linecap="round"/>
<rect x="188.3" y="1740.35" width="39.2" height="107.55" fill="#ecb480" stroke="#000" stroke-width="2.8"/>
<line x1="207.9" y1="1738.98" x2="207.9" y2="1741.73" stroke="#000" stroke-width="2.8"/>
<line x1="196.4" y1="1738.98" x2="219.4" y2="1738.98" stroke="#000" stroke-width="2.8" stroke-linecap="round"/>
<line x1="196.4" y1="1741.73" x2="219.4" y2="1741.73" stroke="#000" stroke-width="2.8" stroke-linecap="round"/>
<text x="208.1" y="1734.3" font-size="24" text-anchor="middle">***</text>
<rect x="241.2" y="1757.88" width="39.2" height="90.02" fill="#5b7da3" stroke="#000" stroke-width="2.8"/>
<line x1="260.8" y1="1756.5" x2="260.8" y2="1759.25" stroke="#000" stroke-width="2.8"/>
<line x1="249.3" y1="1756.5" x2="272.3" y2="1756.5" stroke="#000" stroke-width="2.8" stroke-linecap="round"/>
<line x1="249.3" y1="1759.25" x2="272.3" y2="1759.25" stroke="#000" stroke-width="2.8" stroke-linecap="round"/>
<text x="261" y="1753.1" font-size="24" text-anchor="middle">***</text>
<rect x="336.4" y="1814.06" width="39.4" height="33.84" fill="#c3c3c3" stroke="#000" stroke-width="2.8"/>
<line x1="356.1" y1="1813.02" x2="356.1" y2="1815.09" stroke="#000" stroke-width="2.8"/>
<line x1="344.6" y1="1813.02" x2="367.6" y2="1813.02" stroke="#000" stroke-width="2.8" stroke-linecap="round"/>
<line x1="344.6" y1="1815.09" x2="367.6" y2="1815.09" stroke="#000" stroke-width="2.8" stroke-linecap="round"/>
<rect x="390.4" y="1696.03" width="37.9" height="151.87" fill="#ecb480" stroke="#000" stroke-width="2.8"/>
<line x1="409.35" y1="1691.91" x2="409.35" y2="1700.15" stroke="#000" stroke-width="2.8"/>
<line x1="397.85" y1="1691.91" x2="420.85" y2="1691.91" stroke="#000" stroke-width="2.8" stroke-linecap="round"/>
<line x1="397.85" y1="1700.15" x2="420.85" y2="1700.15" stroke="#000" stroke-width="2.8" stroke-linecap="round"/>
<text x="409.55" y="1686.8" font-size="24" text-anchor="middle">***</text>
<rect x="442.9" y="1664.76" width="38.7" height="183.14" fill="#5b7da3" stroke="#000" stroke-width="2.8"/>
<line x1="462.25" y1="1654.11" x2="462.25" y2="1675.41" stroke="#000" stroke-width="2.8"/>
<line x1="450.75" y1="1654.11" x2="473.75" y2="1654.11" stroke="#000" stroke-width="2.8" stroke-linecap="round"/>
<line x1="450.75" y1="1675.41" x2="473.75" y2="1675.41" stroke="#000" stroke-width="2.8" stroke-linecap="round"/>
<text x="462.45" y="1643.1" font-size="24" text-anchor="middle">***</text>
<line x1="207.5" y1="1847.9" x2="207.5" y2="1853.4" stroke="#000" stroke-width="2.8"/>
<text x="207.5" y="1880.3" font-size="24.2" text-anchor="middle">MCF7</text>
<line x1="408.7" y1="1847.9" x2="408.7" y2="1853.4" stroke="#000" stroke-width="2.8"/>
<text x="408.7" y="1880.3" font-size="24.2" text-anchor="middle">T47D</text>
<rect x="126.4" y="1565.6" width="32.2" height="16.9" fill="#c3c3c3" stroke="#000" stroke-width="2.8"/>
<text x="177.5" y="1582.4" font-size="24.2">Ctrl</text>
<rect x="126.4" y="1597.8" width="32.2" height="16.4" fill="#ecb480" stroke="#000" stroke-width="2.8"/>
<text x="177.5" y="1614.5" font-size="24.2">NR4A1-KO1</text>
<rect x="126.4" y="1630.1" width="32.2" height="16.9" fill="#5b7da3" stroke="#000" stroke-width="2.8"/>
<text x="177.5" y="1646.2" font-size="24.2">NR4A1-KO2</text>
<text transform="translate(73.5 1710) rotate(-90)" font-size="24.2" text-anchor="middle">Relative CD36 mRNA level</text>
</g>
<g id="panel_j">
<text x="541.2" y="1534.2" font-size="43" font-weight="bold">j</text>
<defs>
<filter id="bl3" x="-30%" y="-60%" width="160%" height="220%"><feGaussianBlur stdDeviation="5 3.6"/></filter>
<filter id="bl2" x="-30%" y="-60%" width="160%" height="220%"><feGaussianBlur stdDeviation="2.6 2.2"/></filter>
<filter id="bl5" x="-200%" y="-100%" width="500%" height="300%"><feGaussianBlur stdDeviation="6 4"/></filter>
<linearGradient id="bg1" x1="0" x2="1" y1="0" y2="0"><stop offset="0" stop-color="#9e9e9e"/><stop offset="0.12" stop-color="#c8c8c8"/><stop offset="0.5" stop-color="#d6d6d6"/><stop offset="0.9" stop-color="#cdcdcd"/><stop offset="1" stop-color="#b8b8b8"/></linearGradient>
<linearGradient id="bg2" x1="0" x2="1" y1="0" y2="0"><stop offset="0" stop-color="#c6c6c6"/><stop offset="0.3" stop-color="#d0d0d0"/><stop offset="1" stop-color="#c2c2c2"/></linearGradient>
<linearGradient id="bgv1" x1="0" x2="0" y1="0" y2="1"><stop offset="0" stop-color="#a6a6a6"/><stop offset="0.6" stop-color="#b4b4b4"/><stop offset="1" stop-color="#c0c0c0"/></linearGradient>
<linearGradient id="bgl1" x1="0" x2="1" y1="0" y2="0"><stop offset="0" stop-color="#555" stop-opacity="0.75"/><stop offset="0.35" stop-color="#777" stop-opacity="0.3"/><stop offset="1" stop-color="#999" stop-opacity="0"/></linearGradient>
<linearGradient id="bg3" x1="0" x2="1" y1="0" y2="0"><stop offset="0" stop-color="#c4c4c4"/><stop offset="0.5" stop-color="#d2d2d2"/><stop offset="1" stop-color="#c6c6c6"/></linearGradient>
<clipPath id="cj1"><rect x="664" y="1671.8" width="213" height="49"/></clipPath>
<clipPath id="cj2"><rect x="908.5" y="1671.8" width="213" height="49"/></clipPath>
<clipPath id="cj3"><rect x="664" y="1738.7" width="213" height="49"/></clipPath>
<clipPath id="cj4"><rect x="908.5" y="1738.7" width="213" height="49"/></clipPath>
</defs>
<g clip-path="url(#cj1)"><rect x="664" y="1671.8" width="213" height="49" fill="url(#bgv1)"/><rect x="726" y="1661" width="14" height="70" rx="35" fill="#d2d2d2" opacity="0.55" filter="url(#bl5)"/><rect x="799" y="1661" width="12" height="70" rx="35" fill="#d6d6d6" opacity="0.6" filter="url(#bl5)"/><rect x="664" y="1671.8" width="26" height="49" fill="url(#bgl1)"/><rect x="674" y="1687" width="50" height="10" rx="5" fill="#7c7c7c" opacity="0.62" filter="url(#bl3)"/><rect x="744" y="1687.25" width="52" height="12.5" rx="6.25" fill="#383838" opacity="0.9" filter="url(#bl3)"/><rect x="743" y="1688" width="18" height="13" rx="6.5" fill="#1e1e1e" opacity="0.6" filter="url(#bl3)"/><rect x="815" y="1686.25" width="56" height="12.5" rx="6.25" fill="#404040" opacity="0.88" filter="url(#bl3)"/><rect x="859" y="1687.5" width="14" height="12" rx="6" fill="#222" opacity="0.5" filter="url(#bl3)"/></g>
<g clip-path="url(#cj2)"><rect x="908.5" y="1671.8" width="213" height="49" fill="url(#bg2)"/><rect x="984" y="1678" width="64" height="40" rx="20" fill="#8c8c8c" opacity="0.5" filter="url(#bl5)"/><rect x="1053" y="1676" width="66" height="40" rx="20" fill="#8c8c8c" opacity="0.5" filter="url(#bl5)"/><rect x="992.5" y="1688.5" width="46" height="15" rx="7.5" fill="#3e3e3e" opacity="0.95" filter="url(#bl3)"/><rect x="1058.5" y="1686" width="54" height="15" rx="7.5" fill="#3a3a3a" opacity="0.95" filter="url(#bl3)"/><rect x="1098" y="1688" width="14" height="13" rx="6.5" fill="#2a2a2a" opacity="0.5" filter="url(#bl3)"/></g>
<g clip-path="url(#cj3)"><rect x="664" y="1738.7" width="213" height="49" fill="url(#bg3)"/><rect x="676.6" y="1755.2" width="50" height="17" rx="8.5" fill="#0a0a0a" opacity="1" filter="url(#bl2)"/><rect x="744.2" y="1754.7" width="54" height="18" rx="9" fill="#0a0a0a" opacity="1" filter="url(#bl2)"/><rect x="815.3" y="1754.95" width="53" height="17.5" rx="8.75" fill="#0a0a0a" opacity="1" filter="url(#bl2)"/></g>
<g clip-path="url(#cj4)"><rect x="908.5" y="1738.7" width="213" height="49" fill="url(#bg3)"/><rect x="921" y="1758.15" width="48" height="15.5" rx="7.75" fill="#0a0a0a" opacity="1" filter="url(#bl2)"/><rect x="988.5" y="1755.05" width="53" height="17.5" rx="8.75" fill="#0a0a0a" opacity="1" filter="url(#bl2)"/><rect x="1059" y="1752.35" width="52" height="17.5" rx="8.75" fill="#0a0a0a" opacity="1" filter="url(#bl2)"/></g>
<rect x="664.2" y="1671.9" width="212.6" height="48.8" fill="none" stroke="#000" stroke-width="3"/>
<rect x="664.2" y="1738.8" width="212.6" height="48.6" fill="none" stroke="#000" stroke-width="3"/>
<rect x="908.6" y="1671.9" width="212.6" height="48.8" fill="none" stroke="#000" stroke-width="3"/>
<rect x="908.6" y="1738.8" width="212.6" height="48.6" fill="none" stroke="#000" stroke-width="3"/>
<text x="649.3" y="1704.7" font-size="23.6" text-anchor="end">CD36</text>
<text x="649.3" y="1771.7" font-size="23.6" text-anchor="end">β-actin</text>
<text x="770.4" y="1820.4" font-size="23.6" text-anchor="middle">MCF-7</text>
<text x="1014.6" y="1818" font-size="23.6" text-anchor="middle">T47D</text>
<text x="1125.7" y="1822.2" font-size="23.6">kDa</text>
<line x1="1122" y1="1671.8" x2="1138.2" y2="1671.8" stroke="#000" stroke-width="2"/>
<text x="1142.4" y="1680.9" font-size="23.6">100</text>
<line x1="1122" y1="1721" x2="1138.2" y2="1721" stroke="#000" stroke-width="2"/>
<text x="1142.4" y="1731.4" font-size="23.6">72</text>
<line x1="1122" y1="1772.3" x2="1138.2" y2="1772.3" stroke="#000" stroke-width="2"/>
<text x="1142.4" y="1782" font-size="23.6">43</text>
<text transform="translate(701.8 1656.9) rotate(-29.5)" font-size="23.2">Ctrl</text>
<text transform="translate(764.1 1658.6) rotate(-29.5)" font-size="23.2">NR4A1-KO1</text>
<text transform="translate(846.4 1655.1) rotate(-29.5)" font-size="23.2">NR4A1-KO2</text>
<text transform="translate(949.1 1656.9) rotate(-29.5)" font-size="23.2">Ctrl</text>
<text transform="translate(1011.4 1658.6) rotate(-29.5)" font-size="23.2">NR4A1-KO1</text>
<text transform="translate(1089.2 1654.1) rotate(-29.5)" font-size="23.2">NR4A1-KO2</text>
</g>
</svg>
</body></html>
